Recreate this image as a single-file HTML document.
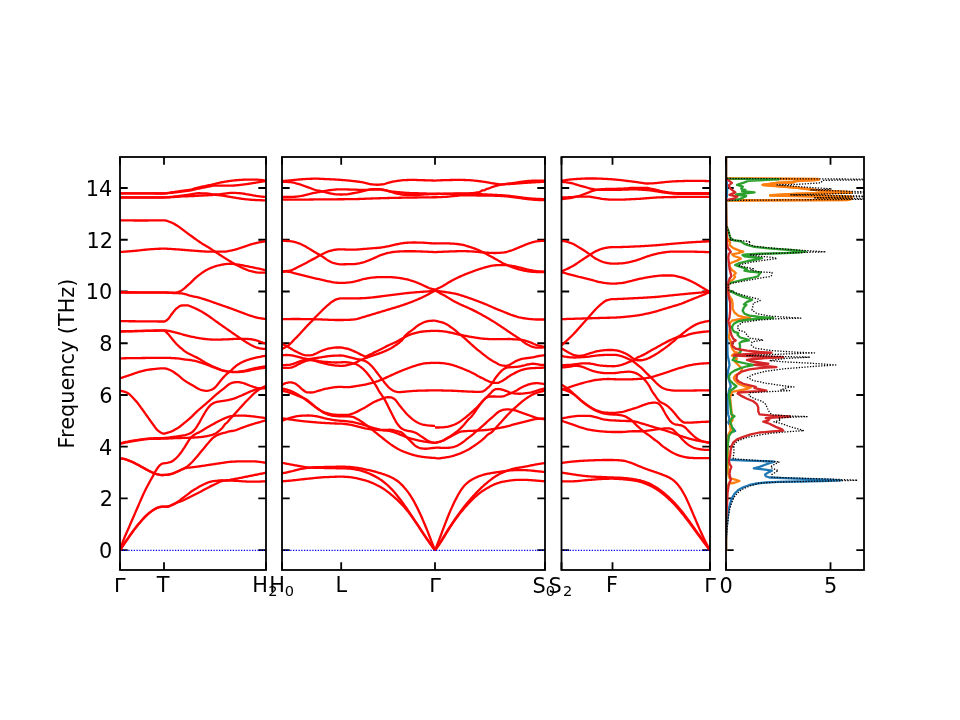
<!DOCTYPE html>
<html lang="en"><head><meta charset="utf-8"><title>Phonon band structure and DOS</title>
<style>html,body{margin:0;padding:0;background:#fff;overflow:hidden}svg{display:block}text{font-family:"DejaVu Sans","Liberation Sans",sans-serif;fill:#000}</style></head><body>
<svg width="960" height="720" viewBox="0 0 960 720">
<rect width="960" height="720" fill="#fff"/>
<defs>
<clipPath id="c0"><rect x="120" y="157" width="146" height="413"/></clipPath>
<clipPath id="c1"><rect x="282" y="157" width="263" height="413"/></clipPath>
<clipPath id="c2"><rect x="561.5" y="157" width="148.5" height="413"/></clipPath>
<clipPath id="c3"><rect x="726" y="157" width="138" height="413"/></clipPath>
</defs>
<g stroke="#000" stroke-width="1.8" fill="none">
<path d="M120 550.20h7.7M266 550.20h-7.7M120 498.46h7.7M266 498.46h-7.7M120 446.72h7.7M266 446.72h-7.7M120 394.98h7.7M266 394.98h-7.7M120 343.24h7.7M266 343.24h-7.7M120 291.50h7.7M266 291.50h-7.7M120 239.76h7.7M266 239.76h-7.7M120 188.02h7.7M266 188.02h-7.7M120 157v7.7M120 570v-7.7M164 157v7.7M164 570v-7.7M266 157v7.7M266 570v-7.7"/>
<path d="M282 550.20h7.7M545 550.20h-7.7M282 498.46h7.7M545 498.46h-7.7M282 446.72h7.7M545 446.72h-7.7M282 394.98h7.7M545 394.98h-7.7M282 343.24h7.7M545 343.24h-7.7M282 291.50h7.7M545 291.50h-7.7M282 239.76h7.7M545 239.76h-7.7M282 188.02h7.7M545 188.02h-7.7M282 157v7.7M282 570v-7.7M341.2 157v7.7M341.2 570v-7.7M435 157v7.7M435 570v-7.7M545 157v7.7M545 570v-7.7"/>
<path d="M561.5 550.20h7.7M710 550.20h-7.7M561.5 498.46h7.7M710 498.46h-7.7M561.5 446.72h7.7M710 446.72h-7.7M561.5 394.98h7.7M710 394.98h-7.7M561.5 343.24h7.7M710 343.24h-7.7M561.5 291.50h7.7M710 291.50h-7.7M561.5 239.76h7.7M710 239.76h-7.7M561.5 188.02h7.7M710 188.02h-7.7M561.5 157v7.7M561.5 570v-7.7M612.5 157v7.7M612.5 570v-7.7M710 157v7.7M710 570v-7.7"/>
<path d="M726 550.20h7.7M864 550.20h-7.7M726 498.46h7.7M864 498.46h-7.7M726 446.72h7.7M864 446.72h-7.7M726 394.98h7.7M864 394.98h-7.7M726 343.24h7.7M864 343.24h-7.7M726 291.50h7.7M864 291.50h-7.7M726 239.76h7.7M864 239.76h-7.7M726 188.02h7.7M864 188.02h-7.7M726 157v7.7M726 570v-7.7M830.5 157v7.7M830.5 570v-7.7"/>
</g>
<g clip-path="url(#c0)" fill="none" stroke="#ff0000" stroke-width="2.3" stroke-linejoin="round" stroke-linecap="butt">
<path d="M120.00 193.42 L121.00 193.42 L122.00 193.42 L123.00 193.42 L124.00 193.42 L125.00 193.42 L126.00 193.42 L127.00 193.42 L128.00 193.42 L129.00 193.42 L130.00 193.42 L131.00 193.42 L132.00 193.42 L133.00 193.42 L134.00 193.42 L135.00 193.42 L136.00 193.42 L137.00 193.42 L138.00 193.42 L139.00 193.42 L140.00 193.42 L141.00 193.42 L142.00 193.42 L143.00 193.42 L144.00 193.42 L145.00 193.42 L146.00 193.42 L147.00 193.42 L148.00 193.42 L149.00 193.42 L150.00 193.42 L151.00 193.42 L152.00 193.42 L153.00 193.42 L154.00 193.42 L155.00 193.42 L156.00 193.42 L157.00 193.42 L158.00 193.42 L159.00 193.42 L160.00 193.42 L161.00 193.42 L162.00 193.42 L163.00 193.41 L164.00 193.38 L165.00 193.32 L166.00 193.23 L167.00 193.11 L168.00 192.98 L169.00 192.83 L170.00 192.67 L171.00 192.51 L172.00 192.35 L173.00 192.19 L174.00 192.05 L175.00 191.91 L176.00 191.76 L177.00 191.61 L178.00 191.46 L179.00 191.31 L180.00 191.15 L181.00 191.00 L182.00 190.85 L183.00 190.70 L184.00 190.57 L185.00 190.45 L186.00 190.33 L187.00 190.20 L188.00 190.07 L189.00 189.92 L190.00 189.75 L191.00 189.54 L192.00 189.29 L193.00 189.00 L194.00 188.69 L195.00 188.37 L196.00 188.06 L197.00 187.76 L198.00 187.50 L199.00 187.27 L200.00 187.05 L201.00 186.85 L202.00 186.66 L203.00 186.47 L204.00 186.28 L205.00 186.09 L206.00 185.89 L207.00 185.68 L208.00 185.46 L209.00 185.23 L210.00 185.00 L211.00 184.76 L212.00 184.53 L213.00 184.29 L214.00 184.06 L215.00 183.83 L216.00 183.61 L217.00 183.37 L218.00 183.14 L219.00 182.91 L220.00 182.68 L221.00 182.46 L222.00 182.25 L223.00 182.06 L224.00 181.88 L225.00 181.71 L226.00 181.55 L227.00 181.39 L228.00 181.24 L229.00 181.10 L230.00 180.96 L231.00 180.83 L232.00 180.71 L233.00 180.59 L234.00 180.47 L235.00 180.36 L236.00 180.25 L237.00 180.15 L238.00 180.06 L239.00 179.98 L240.00 179.92 L241.00 179.86 L242.00 179.80 L243.00 179.75 L244.00 179.70 L245.00 179.65 L246.00 179.62 L247.00 179.60 L248.00 179.58 L249.00 179.58 L250.00 179.59 L251.00 179.59 L252.00 179.60 L253.00 179.61 L254.00 179.62 L255.00 179.64 L256.00 179.65 L257.00 179.67 L258.00 179.71 L259.00 179.78 L260.00 179.86 L261.00 179.96 L262.00 180.08 L263.00 180.22 L264.00 180.36 L265.00 180.51 L266.00 180.67"/>
<path d="M120.00 193.42 L121.00 193.42 L122.00 193.42 L123.00 193.42 L124.00 193.42 L125.00 193.42 L126.00 193.42 L127.00 193.42 L128.00 193.42 L129.00 193.42 L130.00 193.42 L131.00 193.42 L132.00 193.42 L133.00 193.42 L134.00 193.42 L135.00 193.42 L136.00 193.42 L137.00 193.42 L138.00 193.42 L139.00 193.42 L140.00 193.42 L141.00 193.42 L142.00 193.42 L143.00 193.42 L144.00 193.42 L145.00 193.42 L146.00 193.43 L147.00 193.43 L148.00 193.44 L149.00 193.44 L150.00 193.45 L151.00 193.45 L152.00 193.46 L153.00 193.47 L154.00 193.47 L155.00 193.48 L156.00 193.48 L157.00 193.49 L158.00 193.49 L159.00 193.49 L160.00 193.50 L161.00 193.50 L162.00 193.50 L163.00 193.50 L164.00 193.48 L165.00 193.43 L166.00 193.37 L167.00 193.29 L168.00 193.20 L169.00 193.09 L170.00 192.98 L171.00 192.87 L172.00 192.75 L173.00 192.64 L174.00 192.53 L175.00 192.43 L176.00 192.32 L177.00 192.21 L178.00 192.09 L179.00 191.97 L180.00 191.84 L181.00 191.71 L182.00 191.59 L183.00 191.46 L184.00 191.33 L185.00 191.21 L186.00 191.08 L187.00 190.95 L188.00 190.81 L189.00 190.66 L190.00 190.50 L191.00 190.32 L192.00 190.12 L193.00 189.90 L194.00 189.67 L195.00 189.43 L196.00 189.19 L197.00 188.96 L198.00 188.74 L199.00 188.53 L200.00 188.32 L201.00 188.11 L202.00 187.91 L203.00 187.71 L204.00 187.51 L205.00 187.31 L206.00 187.12 L207.00 186.94 L208.00 186.73 L209.00 186.51 L210.00 186.28 L211.00 186.07 L212.00 185.87 L213.00 185.72 L214.00 185.62 L215.00 185.58 L216.00 185.58 L217.00 185.58 L218.00 185.58 L219.00 185.58 L220.00 185.58 L221.00 185.58 L222.00 185.58 L223.00 185.58 L224.00 185.58 L225.00 185.58 L226.00 185.58 L227.00 185.58 L228.00 185.58 L229.00 185.58 L230.00 185.58 L231.00 185.58 L232.00 185.58 L233.00 185.56 L234.00 185.50 L235.00 185.43 L236.00 185.34 L237.00 185.24 L238.00 185.13 L239.00 185.02 L240.00 184.92 L241.00 184.81 L242.00 184.70 L243.00 184.57 L244.00 184.44 L245.00 184.31 L246.00 184.17 L247.00 184.02 L248.00 183.88 L249.00 183.74 L250.00 183.58 L251.00 183.43 L252.00 183.27 L253.00 183.10 L254.00 182.94 L255.00 182.77 L256.00 182.61 L257.00 182.45 L258.00 182.29 L259.00 182.13 L260.00 181.97 L261.00 181.80 L262.00 181.64 L263.00 181.48 L264.00 181.32 L265.00 181.16 L266.00 181.00"/>
<path d="M120.00 197.42 L121.00 197.42 L122.00 197.42 L123.00 197.42 L124.00 197.42 L125.00 197.42 L126.00 197.42 L127.00 197.42 L128.00 197.42 L129.00 197.42 L130.00 197.42 L131.00 197.42 L132.00 197.42 L133.00 197.42 L134.00 197.42 L135.00 197.42 L136.00 197.42 L137.00 197.42 L138.00 197.42 L139.00 197.42 L140.00 197.42 L141.00 197.42 L142.00 197.42 L143.00 197.42 L144.00 197.42 L145.00 197.42 L146.00 197.42 L147.00 197.42 L148.00 197.42 L149.00 197.42 L150.00 197.42 L151.00 197.42 L152.00 197.42 L153.00 197.42 L154.00 197.42 L155.00 197.42 L156.00 197.42 L157.00 197.42 L158.00 197.42 L159.00 197.42 L160.00 197.42 L161.00 197.42 L162.00 197.42 L163.00 197.42 L164.00 197.40 L165.00 197.36 L166.00 197.32 L167.00 197.25 L168.00 197.18 L169.00 197.09 L170.00 197.00 L171.00 196.91 L172.00 196.81 L173.00 196.71 L174.00 196.61 L175.00 196.52 L176.00 196.41 L177.00 196.28 L178.00 196.15 L179.00 196.01 L180.00 195.87 L181.00 195.73 L182.00 195.59 L183.00 195.46 L184.00 195.32 L185.00 195.19 L186.00 195.05 L187.00 194.92 L188.00 194.78 L189.00 194.64 L190.00 194.50 L191.00 194.34 L192.00 194.15 L193.00 193.96 L194.00 193.76 L195.00 193.58 L196.00 193.42 L197.00 193.31 L198.00 193.25 L199.00 193.25 L200.00 193.26 L201.00 193.28 L202.00 193.31 L203.00 193.34 L204.00 193.38 L205.00 193.42 L206.00 193.47 L207.00 193.52 L208.00 193.61 L209.00 193.75 L210.00 193.91 L211.00 194.08 L212.00 194.24 L213.00 194.37 L214.00 194.47 L215.00 194.50 L216.00 194.48 L217.00 194.44 L218.00 194.37 L219.00 194.28 L220.00 194.18 L221.00 194.08 L222.00 193.97 L223.00 193.87 L224.00 193.76 L225.00 193.63 L226.00 193.47 L227.00 193.31 L228.00 193.16 L229.00 193.02 L230.00 192.91 L231.00 192.85 L232.00 192.83 L233.00 192.85 L234.00 192.88 L235.00 192.92 L236.00 192.97 L237.00 193.03 L238.00 193.10 L239.00 193.18 L240.00 193.25 L241.00 193.34 L242.00 193.46 L243.00 193.60 L244.00 193.76 L245.00 193.92 L246.00 194.10 L247.00 194.27 L248.00 194.44 L249.00 194.61 L250.00 194.79 L251.00 194.99 L252.00 195.18 L253.00 195.38 L254.00 195.57 L255.00 195.74 L256.00 195.90 L257.00 196.04 L258.00 196.18 L259.00 196.30 L260.00 196.42 L261.00 196.54 L262.00 196.65 L263.00 196.75 L264.00 196.84 L265.00 196.93 L266.00 197.00"/>
<path d="M120.00 197.50 L121.00 197.50 L122.00 197.50 L123.00 197.50 L124.00 197.50 L125.00 197.50 L126.00 197.50 L127.00 197.50 L128.00 197.50 L129.00 197.50 L130.00 197.50 L131.00 197.50 L132.00 197.50 L133.00 197.50 L134.00 197.50 L135.00 197.50 L136.00 197.50 L137.00 197.50 L138.00 197.50 L139.00 197.50 L140.00 197.50 L141.00 197.50 L142.00 197.50 L143.00 197.50 L144.00 197.50 L145.00 197.50 L146.00 197.50 L147.00 197.50 L148.00 197.50 L149.00 197.50 L150.00 197.50 L151.00 197.50 L152.00 197.50 L153.00 197.50 L154.00 197.50 L155.00 197.50 L156.00 197.50 L157.00 197.50 L158.00 197.50 L159.00 197.50 L160.00 197.50 L161.00 197.50 L162.00 197.50 L163.00 197.50 L164.00 197.49 L165.00 197.47 L166.00 197.44 L167.00 197.40 L168.00 197.35 L169.00 197.30 L170.00 197.25 L171.00 197.19 L172.00 197.13 L173.00 197.07 L174.00 197.02 L175.00 196.96 L176.00 196.89 L177.00 196.82 L178.00 196.74 L179.00 196.66 L180.00 196.58 L181.00 196.51 L182.00 196.45 L183.00 196.40 L184.00 196.36 L185.00 196.33 L186.00 196.30 L187.00 196.27 L188.00 196.24 L189.00 196.20 L190.00 196.17 L191.00 196.12 L192.00 196.08 L193.00 196.03 L194.00 195.98 L195.00 195.92 L196.00 195.87 L197.00 195.82 L198.00 195.77 L199.00 195.72 L200.00 195.67 L201.00 195.62 L202.00 195.57 L203.00 195.52 L204.00 195.47 L205.00 195.42 L206.00 195.37 L207.00 195.32 L208.00 195.26 L209.00 195.19 L210.00 195.13 L211.00 195.06 L212.00 195.01 L213.00 194.96 L214.00 194.93 L215.00 194.92 L216.00 194.94 L217.00 194.99 L218.00 195.08 L219.00 195.18 L220.00 195.31 L221.00 195.44 L222.00 195.57 L223.00 195.71 L224.00 195.84 L225.00 195.99 L226.00 196.15 L227.00 196.33 L228.00 196.51 L229.00 196.69 L230.00 196.88 L231.00 197.05 L232.00 197.22 L233.00 197.39 L234.00 197.56 L235.00 197.72 L236.00 197.89 L237.00 198.05 L238.00 198.21 L239.00 198.36 L240.00 198.50 L241.00 198.64 L242.00 198.77 L243.00 198.90 L244.00 199.03 L245.00 199.15 L246.00 199.27 L247.00 199.37 L248.00 199.47 L249.00 199.56 L250.00 199.64 L251.00 199.73 L252.00 199.81 L253.00 199.88 L254.00 199.95 L255.00 200.00 L256.00 200.06 L257.00 200.10 L258.00 200.13 L259.00 200.17 L260.00 200.21 L261.00 200.24 L262.00 200.27 L263.00 200.29 L264.00 200.31 L265.00 200.33 L266.00 200.33"/>
<path d="M120.00 220.33 L121.00 220.35 L122.00 220.36 L123.00 220.38 L124.00 220.39 L125.00 220.40 L126.00 220.41 L127.00 220.42 L128.00 220.43 L129.00 220.44 L130.00 220.45 L131.00 220.46 L132.00 220.46 L133.00 220.47 L134.00 220.48 L135.00 220.48 L136.00 220.48 L137.00 220.49 L138.00 220.49 L139.00 220.49 L140.00 220.50 L141.00 220.50 L142.00 220.50 L143.00 220.50 L144.00 220.50 L145.00 220.50 L146.00 220.49 L147.00 220.49 L148.00 220.48 L149.00 220.47 L150.00 220.46 L151.00 220.45 L152.00 220.44 L153.00 220.42 L154.00 220.41 L155.00 220.40 L156.00 220.39 L157.00 220.38 L158.00 220.37 L159.00 220.36 L160.00 220.35 L161.00 220.34 L162.00 220.34 L163.00 220.33 L164.00 220.33 L165.00 220.41 L166.00 220.61 L167.00 220.90 L168.00 221.25 L169.00 221.63 L170.00 222.00 L171.00 222.38 L172.00 222.82 L173.00 223.30 L174.00 223.82 L175.00 224.37 L176.00 224.94 L177.00 225.53 L178.00 226.17 L179.00 226.85 L180.00 227.56 L181.00 228.31 L182.00 229.07 L183.00 229.83 L184.00 230.59 L185.00 231.33 L186.00 232.07 L187.00 232.81 L188.00 233.56 L189.00 234.30 L190.00 235.05 L191.00 235.79 L192.00 236.53 L193.00 237.26 L194.00 237.98 L195.00 238.70 L196.00 239.42 L197.00 240.14 L198.00 240.85 L199.00 241.54 L200.00 242.23 L201.00 242.90 L202.00 243.55 L203.00 244.17 L204.00 244.77 L205.00 245.36 L206.00 245.94 L207.00 246.52 L208.00 247.11 L209.00 247.71 L210.00 248.33 L211.00 248.98 L212.00 249.65 L213.00 250.33 L214.00 251.00 L215.00 251.67 L216.00 252.32 L217.00 252.98 L218.00 253.63 L219.00 254.28 L220.00 254.93 L221.00 255.58 L222.00 256.22 L223.00 256.86 L224.00 257.50 L225.00 258.13 L226.00 258.75 L227.00 259.37 L228.00 259.99 L229.00 260.62 L230.00 261.23 L231.00 261.85 L232.00 262.45 L233.00 263.04 L234.00 263.61 L235.00 264.17 L236.00 264.71 L237.00 265.25 L238.00 265.78 L239.00 266.30 L240.00 266.80 L241.00 267.29 L242.00 267.75 L243.00 268.19 L244.00 268.61 L245.00 269.03 L246.00 269.45 L247.00 269.85 L248.00 270.23 L249.00 270.58 L250.00 270.90 L251.00 271.17 L252.00 271.41 L253.00 271.63 L254.00 271.86 L255.00 272.07 L256.00 272.26 L257.00 272.43 L258.00 272.55 L259.00 272.64 L260.00 272.67 L261.00 272.67 L262.00 272.67 L263.00 272.67 L264.00 272.67 L265.00 272.67 L266.00 272.67"/>
<path d="M120.00 252.00 L121.00 251.93 L122.00 251.86 L123.00 251.79 L124.00 251.72 L125.00 251.65 L126.00 251.57 L127.00 251.49 L128.00 251.42 L129.00 251.34 L130.00 251.26 L131.00 251.17 L132.00 251.09 L133.00 251.01 L134.00 250.92 L135.00 250.83 L136.00 250.74 L137.00 250.64 L138.00 250.54 L139.00 250.43 L140.00 250.32 L141.00 250.21 L142.00 250.09 L143.00 249.98 L144.00 249.86 L145.00 249.75 L146.00 249.65 L147.00 249.55 L148.00 249.45 L149.00 249.36 L150.00 249.28 L151.00 249.21 L152.00 249.15 L153.00 249.09 L154.00 249.03 L155.00 248.97 L156.00 248.91 L157.00 248.86 L158.00 248.81 L159.00 248.76 L160.00 248.73 L161.00 248.70 L162.00 248.68 L163.00 248.67 L164.00 248.67 L165.00 248.68 L166.00 248.71 L167.00 248.75 L168.00 248.79 L169.00 248.84 L170.00 248.90 L171.00 248.96 L172.00 249.03 L173.00 249.09 L174.00 249.16 L175.00 249.23 L176.00 249.29 L177.00 249.35 L178.00 249.42 L179.00 249.49 L180.00 249.57 L181.00 249.64 L182.00 249.73 L183.00 249.81 L184.00 249.90 L185.00 249.98 L186.00 250.07 L187.00 250.16 L188.00 250.25 L189.00 250.33 L190.00 250.41 L191.00 250.49 L192.00 250.57 L193.00 250.64 L194.00 250.71 L195.00 250.79 L196.00 250.86 L197.00 250.94 L198.00 251.02 L199.00 251.10 L200.00 251.18 L201.00 251.26 L202.00 251.33 L203.00 251.40 L204.00 251.47 L205.00 251.52 L206.00 251.57 L207.00 251.61 L208.00 251.64 L209.00 251.66 L210.00 251.67 L211.00 251.67 L212.00 251.67 L213.00 251.67 L214.00 251.67 L215.00 251.67 L216.00 251.67 L217.00 251.67 L218.00 251.67 L219.00 251.67 L220.00 251.67 L221.00 251.67 L222.00 251.67 L223.00 251.67 L224.00 251.65 L225.00 251.59 L226.00 251.49 L227.00 251.34 L228.00 251.17 L229.00 250.97 L230.00 250.75 L231.00 250.52 L232.00 250.30 L233.00 250.07 L234.00 249.85 L235.00 249.60 L236.00 249.33 L237.00 249.04 L238.00 248.73 L239.00 248.41 L240.00 248.09 L241.00 247.76 L242.00 247.43 L243.00 247.11 L244.00 246.78 L245.00 246.44 L246.00 246.09 L247.00 245.72 L248.00 245.36 L249.00 245.00 L250.00 244.65 L251.00 244.32 L252.00 244.02 L253.00 243.75 L254.00 243.51 L255.00 243.27 L256.00 243.05 L257.00 242.83 L258.00 242.61 L259.00 242.41 L260.00 242.22 L261.00 242.04 L262.00 241.87 L263.00 241.71 L264.00 241.57 L265.00 241.44 L266.00 241.33"/>
<path d="M120.00 292.17 L121.00 292.18 L122.00 292.19 L123.00 292.20 L124.00 292.21 L125.00 292.22 L126.00 292.23 L127.00 292.24 L128.00 292.25 L129.00 292.26 L130.00 292.27 L131.00 292.28 L132.00 292.28 L133.00 292.29 L134.00 292.30 L135.00 292.31 L136.00 292.31 L137.00 292.32 L138.00 292.32 L139.00 292.33 L140.00 292.33 L141.00 292.33 L142.00 292.33 L143.00 292.33 L144.00 292.33 L145.00 292.33 L146.00 292.33 L147.00 292.33 L148.00 292.33 L149.00 292.33 L150.00 292.33 L151.00 292.33 L152.00 292.33 L153.00 292.33 L154.00 292.33 L155.00 292.33 L156.00 292.33 L157.00 292.33 L158.00 292.33 L159.00 292.33 L160.00 292.33 L161.00 292.33 L162.00 292.33 L163.00 292.33 L164.00 292.33 L165.00 292.35 L166.00 292.38 L167.00 292.43 L168.00 292.49 L169.00 292.54 L170.00 292.60 L171.00 292.64 L172.00 292.66 L173.00 292.66 L174.00 292.61 L175.00 292.53 L176.00 292.42 L177.00 292.28 L178.00 292.03 L179.00 291.67 L180.00 291.25 L181.00 290.74 L182.00 290.11 L183.00 289.41 L184.00 288.65 L185.00 287.77 L186.00 286.85 L187.00 285.96 L188.00 285.10 L189.00 284.24 L190.00 283.33 L191.00 282.36 L192.00 281.33 L193.00 280.32 L194.00 279.37 L195.00 278.44 L196.00 277.53 L197.00 276.66 L198.00 275.85 L199.00 275.08 L200.00 274.35 L201.00 273.63 L202.00 272.93 L203.00 272.24 L204.00 271.56 L205.00 270.91 L206.00 270.32 L207.00 269.78 L208.00 269.27 L209.00 268.79 L210.00 268.33 L211.00 267.90 L212.00 267.48 L213.00 267.09 L214.00 266.72 L215.00 266.39 L216.00 266.06 L217.00 265.77 L218.00 265.50 L219.00 265.26 L220.00 265.05 L221.00 264.85 L222.00 264.67 L223.00 264.50 L224.00 264.34 L225.00 264.19 L226.00 264.06 L227.00 263.97 L228.00 263.89 L229.00 263.81 L230.00 263.76 L231.00 263.75 L232.00 263.80 L233.00 263.91 L234.00 264.04 L235.00 264.17 L236.00 264.29 L237.00 264.43 L238.00 264.58 L239.00 264.73 L240.00 264.90 L241.00 265.07 L242.00 265.25 L243.00 265.43 L244.00 265.62 L245.00 265.81 L246.00 266.01 L247.00 266.21 L248.00 266.41 L249.00 266.61 L250.00 266.82 L251.00 267.02 L252.00 267.23 L253.00 267.43 L254.00 267.64 L255.00 267.84 L256.00 268.05 L257.00 268.27 L258.00 268.48 L259.00 268.71 L260.00 268.93 L261.00 269.16 L262.00 269.39 L263.00 269.62 L264.00 269.86 L265.00 270.09 L266.00 270.33"/>
<path d="M120.00 292.50 L121.00 292.50 L122.00 292.50 L123.00 292.50 L124.00 292.50 L125.00 292.50 L126.00 292.50 L127.00 292.50 L128.00 292.50 L129.00 292.51 L130.00 292.51 L131.00 292.51 L132.00 292.51 L133.00 292.51 L134.00 292.52 L135.00 292.52 L136.00 292.52 L137.00 292.52 L138.00 292.53 L139.00 292.53 L140.00 292.53 L141.00 292.53 L142.00 292.54 L143.00 292.54 L144.00 292.55 L145.00 292.55 L146.00 292.55 L147.00 292.56 L148.00 292.56 L149.00 292.57 L150.00 292.57 L151.00 292.58 L152.00 292.58 L153.00 292.59 L154.00 292.60 L155.00 292.60 L156.00 292.61 L157.00 292.62 L158.00 292.62 L159.00 292.63 L160.00 292.64 L161.00 292.64 L162.00 292.65 L163.00 292.66 L164.00 292.67 L165.00 292.68 L166.00 292.70 L167.00 292.73 L168.00 292.77 L169.00 292.81 L170.00 292.85 L171.00 292.90 L172.00 292.95 L173.00 293.00 L174.00 293.05 L175.00 293.09 L176.00 293.14 L177.00 293.18 L178.00 293.21 L179.00 293.25 L180.00 293.29 L181.00 293.34 L182.00 293.45 L183.00 293.60 L184.00 293.79 L185.00 294.00 L186.00 294.27 L187.00 294.61 L188.00 294.99 L189.00 295.35 L190.00 295.67 L191.00 295.92 L192.00 296.15 L193.00 296.36 L194.00 296.57 L195.00 296.77 L196.00 296.97 L197.00 297.18 L198.00 297.42 L199.00 297.67 L200.00 297.94 L201.00 298.23 L202.00 298.53 L203.00 298.83 L204.00 299.14 L205.00 299.46 L206.00 299.78 L207.00 300.11 L208.00 300.44 L209.00 300.78 L210.00 301.13 L211.00 301.49 L212.00 301.85 L213.00 302.21 L214.00 302.56 L215.00 302.92 L216.00 303.27 L217.00 303.62 L218.00 303.97 L219.00 304.32 L220.00 304.67 L221.00 305.02 L222.00 305.37 L223.00 305.72 L224.00 306.07 L225.00 306.41 L226.00 306.76 L227.00 307.11 L228.00 307.46 L229.00 307.80 L230.00 308.16 L231.00 308.51 L232.00 308.87 L233.00 309.23 L234.00 309.60 L235.00 309.97 L236.00 310.34 L237.00 310.71 L238.00 311.08 L239.00 311.46 L240.00 311.83 L241.00 312.21 L242.00 312.60 L243.00 313.00 L244.00 313.39 L245.00 313.78 L246.00 314.17 L247.00 314.53 L248.00 314.89 L249.00 315.22 L250.00 315.56 L251.00 315.88 L252.00 316.20 L253.00 316.51 L254.00 316.80 L255.00 317.08 L256.00 317.34 L257.00 317.58 L258.00 317.80 L259.00 318.01 L260.00 318.19 L261.00 318.36 L262.00 318.51 L263.00 318.65 L264.00 318.79 L265.00 318.90 L266.00 319.00"/>
<path d="M120.00 321.17 L121.00 321.17 L122.00 321.18 L123.00 321.19 L124.00 321.19 L125.00 321.20 L126.00 321.21 L127.00 321.21 L128.00 321.22 L129.00 321.23 L130.00 321.24 L131.00 321.24 L132.00 321.25 L133.00 321.26 L134.00 321.26 L135.00 321.27 L136.00 321.28 L137.00 321.29 L138.00 321.29 L139.00 321.30 L140.00 321.31 L141.00 321.32 L142.00 321.32 L143.00 321.33 L144.00 321.34 L145.00 321.35 L146.00 321.36 L147.00 321.37 L148.00 321.38 L149.00 321.39 L150.00 321.40 L151.00 321.41 L152.00 321.42 L153.00 321.43 L154.00 321.44 L155.00 321.45 L156.00 321.46 L157.00 321.47 L158.00 321.48 L159.00 321.48 L160.00 321.49 L161.00 321.49 L162.00 321.50 L163.00 321.50 L164.00 321.50 L165.00 321.29 L166.00 320.75 L167.00 320.04 L168.00 319.23 L169.00 318.02 L170.00 316.55 L171.00 315.06 L172.00 313.75 L173.00 312.45 L174.00 311.16 L175.00 309.95 L176.00 308.90 L177.00 308.08 L178.00 307.31 L179.00 306.59 L180.00 306.00 L181.00 305.61 L182.00 305.48 L183.00 305.43 L184.00 305.38 L185.00 305.35 L186.00 305.34 L187.00 305.34 L188.00 305.48 L189.00 305.74 L190.00 306.09 L191.00 306.50 L192.00 306.94 L193.00 307.37 L194.00 307.77 L195.00 308.20 L196.00 308.66 L197.00 309.15 L198.00 309.66 L199.00 310.19 L200.00 310.74 L201.00 311.29 L202.00 311.86 L203.00 312.44 L204.00 313.05 L205.00 313.68 L206.00 314.32 L207.00 314.98 L208.00 315.65 L209.00 316.32 L210.00 317.00 L211.00 317.69 L212.00 318.39 L213.00 319.11 L214.00 319.84 L215.00 320.58 L216.00 321.31 L217.00 322.04 L218.00 322.76 L219.00 323.47 L220.00 324.18 L221.00 324.88 L222.00 325.58 L223.00 326.28 L224.00 326.97 L225.00 327.67 L226.00 328.37 L227.00 329.07 L228.00 329.77 L229.00 330.47 L230.00 331.17 L231.00 331.88 L232.00 332.58 L233.00 333.28 L234.00 333.97 L235.00 334.67 L236.00 335.36 L237.00 336.05 L238.00 336.75 L239.00 337.44 L240.00 338.13 L241.00 338.80 L242.00 339.47 L243.00 340.12 L244.00 340.76 L245.00 341.40 L246.00 342.04 L247.00 342.67 L248.00 343.29 L249.00 343.88 L250.00 344.45 L251.00 344.99 L252.00 345.50 L253.00 345.99 L254.00 346.46 L255.00 346.90 L256.00 347.28 L257.00 347.60 L258.00 347.89 L259.00 348.16 L260.00 348.39 L261.00 348.58 L262.00 348.70 L263.00 348.81 L264.00 348.91 L265.00 348.97 L266.00 349.00"/>
<path d="M120.00 331.33 L121.00 331.31 L122.00 331.29 L123.00 331.27 L124.00 331.25 L125.00 331.23 L126.00 331.21 L127.00 331.19 L128.00 331.17 L129.00 331.15 L130.00 331.13 L131.00 331.11 L132.00 331.08 L133.00 331.06 L134.00 331.04 L135.00 331.02 L136.00 331.00 L137.00 330.98 L138.00 330.95 L139.00 330.93 L140.00 330.91 L141.00 330.89 L142.00 330.86 L143.00 330.84 L144.00 330.82 L145.00 330.79 L146.00 330.76 L147.00 330.74 L148.00 330.70 L149.00 330.67 L150.00 330.64 L151.00 330.61 L152.00 330.58 L153.00 330.55 L154.00 330.51 L155.00 330.48 L156.00 330.46 L157.00 330.43 L158.00 330.41 L159.00 330.39 L160.00 330.37 L161.00 330.35 L162.00 330.34 L163.00 330.34 L164.00 330.33 L165.00 330.37 L166.00 330.46 L167.00 330.60 L168.00 330.78 L169.00 330.99 L170.00 331.22 L171.00 331.46 L172.00 331.70 L173.00 331.93 L174.00 332.15 L175.00 332.38 L176.00 332.63 L177.00 332.90 L178.00 333.17 L179.00 333.45 L180.00 333.72 L181.00 333.99 L182.00 334.25 L183.00 334.52 L184.00 334.79 L185.00 335.06 L186.00 335.33 L187.00 335.60 L188.00 335.85 L189.00 336.10 L190.00 336.33 L191.00 336.56 L192.00 336.78 L193.00 336.99 L194.00 337.20 L195.00 337.40 L196.00 337.59 L197.00 337.77 L198.00 337.94 L199.00 338.11 L200.00 338.27 L201.00 338.44 L202.00 338.59 L203.00 338.74 L204.00 338.88 L205.00 339.00 L206.00 339.11 L207.00 339.19 L208.00 339.28 L209.00 339.36 L210.00 339.44 L211.00 339.52 L212.00 339.58 L213.00 339.62 L214.00 339.66 L215.00 339.67 L216.00 339.66 L217.00 339.65 L218.00 339.63 L219.00 339.61 L220.00 339.58 L221.00 339.54 L222.00 339.51 L223.00 339.47 L224.00 339.43 L225.00 339.39 L226.00 339.36 L227.00 339.32 L228.00 339.28 L229.00 339.23 L230.00 339.18 L231.00 339.12 L232.00 339.06 L233.00 339.01 L234.00 338.95 L235.00 338.91 L236.00 338.87 L237.00 338.85 L238.00 338.83 L239.00 338.83 L240.00 338.84 L241.00 338.85 L242.00 338.86 L243.00 338.87 L244.00 338.89 L245.00 338.91 L246.00 338.93 L247.00 338.96 L248.00 338.99 L249.00 339.03 L250.00 339.12 L251.00 339.25 L252.00 339.41 L253.00 339.59 L254.00 339.79 L255.00 340.00 L256.00 340.25 L257.00 340.57 L258.00 340.93 L259.00 341.31 L260.00 341.67 L261.00 342.02 L262.00 342.37 L263.00 342.73 L264.00 343.09 L265.00 343.46 L266.00 343.83"/>
<path d="M120.00 331.50 L121.00 331.48 L122.00 331.45 L123.00 331.43 L124.00 331.40 L125.00 331.38 L126.00 331.36 L127.00 331.34 L128.00 331.31 L129.00 331.29 L130.00 331.27 L131.00 331.25 L132.00 331.23 L133.00 331.20 L134.00 331.18 L135.00 331.16 L136.00 331.14 L137.00 331.12 L138.00 331.10 L139.00 331.08 L140.00 331.06 L141.00 331.04 L142.00 331.02 L143.00 331.01 L144.00 330.99 L145.00 330.97 L146.00 330.95 L147.00 330.93 L148.00 330.91 L149.00 330.88 L150.00 330.86 L151.00 330.84 L152.00 330.82 L153.00 330.80 L154.00 330.78 L155.00 330.76 L156.00 330.74 L157.00 330.73 L158.00 330.71 L159.00 330.70 L160.00 330.69 L161.00 330.68 L162.00 330.67 L163.00 330.67 L164.00 330.67 L165.00 331.01 L166.00 331.83 L167.00 332.85 L168.00 333.83 L169.00 334.97 L170.00 336.23 L171.00 337.52 L172.00 338.73 L173.00 339.94 L174.00 341.15 L175.00 342.34 L176.00 343.47 L177.00 344.50 L178.00 345.47 L179.00 346.39 L180.00 347.26 L181.00 348.11 L182.00 348.94 L183.00 349.77 L184.00 350.58 L185.00 351.35 L186.00 352.07 L187.00 352.70 L188.00 353.29 L189.00 353.83 L190.00 354.34 L191.00 354.83 L192.00 355.30 L193.00 355.75 L194.00 356.21 L195.00 356.67 L196.00 357.14 L197.00 357.63 L198.00 358.15 L199.00 358.71 L200.00 359.30 L201.00 359.91 L202.00 360.53 L203.00 361.16 L204.00 361.79 L205.00 362.39 L206.00 362.97 L207.00 363.51 L208.00 364.03 L209.00 364.55 L210.00 365.05 L211.00 365.53 L212.00 366.01 L213.00 366.46 L214.00 366.91 L215.00 367.33 L216.00 367.75 L217.00 368.17 L218.00 368.59 L219.00 368.99 L220.00 369.37 L221.00 369.73 L222.00 370.05 L223.00 370.33 L224.00 370.58 L225.00 370.83 L226.00 371.06 L227.00 371.27 L228.00 371.45 L229.00 371.59 L230.00 371.67 L231.00 371.71 L232.00 371.75 L233.00 371.79 L234.00 371.81 L235.00 371.83 L236.00 371.83 L237.00 371.80 L238.00 371.73 L239.00 371.63 L240.00 371.50 L241.00 371.35 L242.00 371.19 L243.00 371.03 L244.00 370.86 L245.00 370.68 L246.00 370.46 L247.00 370.22 L248.00 369.95 L249.00 369.67 L250.00 369.39 L251.00 369.12 L252.00 368.87 L253.00 368.64 L254.00 368.42 L255.00 368.21 L256.00 368.00 L257.00 367.80 L258.00 367.61 L259.00 367.42 L260.00 367.23 L261.00 367.05 L262.00 366.88 L263.00 366.71 L264.00 366.55 L265.00 366.40 L266.00 366.25"/>
<path d="M120.00 358.33 L121.00 358.32 L122.00 358.30 L123.00 358.28 L124.00 358.26 L125.00 358.25 L126.00 358.23 L127.00 358.22 L128.00 358.20 L129.00 358.18 L130.00 358.17 L131.00 358.15 L132.00 358.14 L133.00 358.13 L134.00 358.11 L135.00 358.10 L136.00 358.09 L137.00 358.07 L138.00 358.06 L139.00 358.05 L140.00 358.04 L141.00 358.03 L142.00 358.01 L143.00 358.00 L144.00 357.99 L145.00 357.98 L146.00 357.97 L147.00 357.96 L148.00 357.95 L149.00 357.94 L150.00 357.93 L151.00 357.92 L152.00 357.91 L153.00 357.90 L154.00 357.89 L155.00 357.88 L156.00 357.87 L157.00 357.86 L158.00 357.85 L159.00 357.85 L160.00 357.84 L161.00 357.84 L162.00 357.84 L163.00 357.83 L164.00 357.83 L165.00 357.84 L166.00 357.85 L167.00 357.87 L168.00 357.90 L169.00 357.93 L170.00 357.97 L171.00 358.01 L172.00 358.06 L173.00 358.11 L174.00 358.17 L175.00 358.23 L176.00 358.29 L177.00 358.36 L178.00 358.45 L179.00 358.58 L180.00 358.73 L181.00 358.89 L182.00 359.06 L183.00 359.22 L184.00 359.37 L185.00 359.50 L186.00 359.60 L187.00 359.69 L188.00 359.78 L189.00 359.88 L190.00 360.00 L191.00 360.15 L192.00 360.32 L193.00 360.52 L194.00 360.74 L195.00 360.98 L196.00 361.22 L197.00 361.48 L198.00 361.74 L199.00 362.02 L200.00 362.33 L201.00 362.66 L202.00 363.00 L203.00 363.33 L204.00 363.66 L205.00 364.00 L206.00 364.34 L207.00 364.71 L208.00 365.09 L209.00 365.49 L210.00 365.90 L211.00 366.32 L212.00 366.74 L213.00 367.15 L214.00 367.54 L215.00 367.92 L216.00 368.28 L217.00 368.65 L218.00 369.02 L219.00 369.37 L220.00 369.72 L221.00 370.04 L222.00 370.33 L223.00 370.59 L224.00 370.82 L225.00 371.03 L226.00 371.24 L227.00 371.43 L228.00 371.59 L229.00 371.73 L230.00 371.83 L231.00 371.92 L232.00 372.00 L233.00 372.07 L234.00 372.12 L235.00 372.16 L236.00 372.17 L237.00 372.15 L238.00 372.10 L239.00 372.04 L240.00 371.95 L241.00 371.85 L242.00 371.75 L243.00 371.63 L244.00 371.52 L245.00 371.39 L246.00 371.23 L247.00 371.03 L248.00 370.82 L249.00 370.59 L250.00 370.37 L251.00 370.14 L252.00 369.93 L253.00 369.74 L254.00 369.54 L255.00 369.35 L256.00 369.15 L257.00 368.97 L258.00 368.78 L259.00 368.61 L260.00 368.45 L261.00 368.31 L262.00 368.18 L263.00 368.06 L264.00 367.95 L265.00 367.84 L266.00 367.75"/>
<path d="M120.00 378.33 L121.00 378.00 L122.00 377.67 L123.00 377.33 L124.00 377.00 L125.00 376.67 L126.00 376.33 L127.00 376.00 L128.00 375.67 L129.00 375.33 L130.00 375.00 L131.00 374.66 L132.00 374.31 L133.00 373.96 L134.00 373.60 L135.00 373.24 L136.00 372.90 L137.00 372.56 L138.00 372.24 L139.00 371.94 L140.00 371.67 L141.00 371.40 L142.00 371.14 L143.00 370.89 L144.00 370.64 L145.00 370.41 L146.00 370.19 L147.00 369.98 L148.00 369.80 L149.00 369.64 L150.00 369.50 L151.00 369.38 L152.00 369.25 L153.00 369.13 L154.00 369.02 L155.00 368.90 L156.00 368.80 L157.00 368.70 L158.00 368.61 L159.00 368.53 L160.00 368.46 L161.00 368.41 L162.00 368.37 L163.00 368.34 L164.00 368.33 L165.00 368.40 L166.00 368.60 L167.00 368.88 L168.00 369.23 L169.00 369.61 L170.00 370.00 L171.00 370.44 L172.00 370.98 L173.00 371.60 L174.00 372.27 L175.00 372.98 L176.00 373.70 L177.00 374.40 L178.00 375.16 L179.00 375.97 L180.00 376.81 L181.00 377.66 L182.00 378.51 L183.00 379.33 L184.00 380.11 L185.00 380.83 L186.00 381.50 L187.00 382.12 L188.00 382.73 L189.00 383.31 L190.00 383.88 L191.00 384.44 L192.00 385.00 L193.00 385.57 L194.00 386.15 L195.00 386.77 L196.00 387.42 L197.00 388.04 L198.00 388.59 L199.00 389.05 L200.00 389.47 L201.00 389.84 L202.00 390.14 L203.00 390.35 L204.00 390.55 L205.00 390.71 L206.00 390.81 L207.00 390.83 L208.00 390.72 L209.00 390.51 L210.00 390.25 L211.00 389.95 L212.00 389.53 L213.00 388.96 L214.00 388.27 L215.00 387.50 L216.00 386.53 L217.00 385.32 L218.00 383.99 L219.00 382.70 L220.00 381.49 L221.00 380.25 L222.00 379.03 L223.00 377.87 L224.00 376.78 L225.00 375.71 L226.00 374.70 L227.00 373.76 L228.00 372.94 L229.00 372.24 L230.00 371.50 L231.00 370.60 L232.00 369.62 L233.00 368.64 L234.00 367.72 L235.00 366.80 L236.00 365.93 L237.00 365.18 L238.00 364.51 L239.00 363.90 L240.00 363.33 L241.00 362.79 L242.00 362.26 L243.00 361.77 L244.00 361.32 L245.00 360.91 L246.00 360.54 L247.00 360.19 L248.00 359.86 L249.00 359.53 L250.00 359.22 L251.00 358.92 L252.00 358.64 L253.00 358.37 L254.00 358.12 L255.00 357.88 L256.00 357.65 L257.00 357.43 L258.00 357.22 L259.00 357.02 L260.00 356.83 L261.00 356.63 L262.00 356.44 L263.00 356.24 L264.00 356.05 L265.00 355.86 L266.00 355.67"/>
<path d="M120.00 390.83 L121.00 390.89 L122.00 391.03 L123.00 391.26 L124.00 391.55 L125.00 391.88 L126.00 392.25 L127.00 392.64 L128.00 393.18 L129.00 393.90 L130.00 394.75 L131.00 395.71 L132.00 396.74 L133.00 397.82 L134.00 398.92 L135.00 400.00 L136.00 401.11 L137.00 402.31 L138.00 403.58 L139.00 404.90 L140.00 406.25 L141.00 407.63 L142.00 409.01 L143.00 410.38 L144.00 411.74 L145.00 413.13 L146.00 414.55 L147.00 415.98 L148.00 417.41 L149.00 418.84 L150.00 420.24 L151.00 421.61 L152.00 422.95 L153.00 424.34 L154.00 425.77 L155.00 427.18 L156.00 428.49 L157.00 429.65 L158.00 430.58 L159.00 431.31 L160.00 432.01 L161.00 432.65 L162.00 433.18 L163.00 433.54 L164.00 433.67 L165.00 433.50 L166.00 433.14 L167.00 432.82 L168.00 432.54 L169.00 432.26 L170.00 431.96 L171.00 431.60 L172.00 431.17 L173.00 430.67 L174.00 430.13 L175.00 429.58 L176.00 429.03 L177.00 428.46 L178.00 427.85 L179.00 427.20 L180.00 426.48 L181.00 425.68 L182.00 424.85 L183.00 424.02 L184.00 423.22 L185.00 422.44 L186.00 421.65 L187.00 420.83 L188.00 419.99 L189.00 419.12 L190.00 418.22 L191.00 417.29 L192.00 416.35 L193.00 415.35 L194.00 414.33 L195.00 413.31 L196.00 412.34 L197.00 411.42 L198.00 410.51 L199.00 409.63 L200.00 408.75 L201.00 407.88 L202.00 407.03 L203.00 406.18 L204.00 405.34 L205.00 404.51 L206.00 403.67 L207.00 402.82 L208.00 401.96 L209.00 401.08 L210.00 400.18 L211.00 399.27 L212.00 398.35 L213.00 397.43 L214.00 396.52 L215.00 395.62 L216.00 394.74 L217.00 393.89 L218.00 393.06 L219.00 392.24 L220.00 391.44 L221.00 390.65 L222.00 389.87 L223.00 389.08 L224.00 388.30 L225.00 387.50 L226.00 386.65 L227.00 385.77 L228.00 384.94 L229.00 384.26 L230.00 383.73 L231.00 383.25 L232.00 382.85 L233.00 382.56 L234.00 382.40 L235.00 382.26 L236.00 382.15 L237.00 382.09 L238.00 382.10 L239.00 382.19 L240.00 382.34 L241.00 382.54 L242.00 382.74 L243.00 383.01 L244.00 383.34 L245.00 383.70 L246.00 384.06 L247.00 384.45 L248.00 384.86 L249.00 385.28 L250.00 385.67 L251.00 386.03 L252.00 386.38 L253.00 386.72 L254.00 387.03 L255.00 387.34 L256.00 387.67 L257.00 387.95 L258.00 388.13 L259.00 388.21 L260.00 388.27 L261.00 388.31 L262.00 388.33 L263.00 388.32 L264.00 388.24 L265.00 388.10 L266.00 387.92"/>
<path d="M120.00 443.33 L121.00 443.10 L122.00 442.87 L123.00 442.64 L124.00 442.41 L125.00 442.19 L126.00 441.98 L127.00 441.77 L128.00 441.57 L129.00 441.37 L130.00 441.18 L131.00 441.00 L132.00 440.82 L133.00 440.65 L134.00 440.49 L135.00 440.33 L136.00 440.18 L137.00 440.03 L138.00 439.88 L139.00 439.73 L140.00 439.58 L141.00 439.43 L142.00 439.29 L143.00 439.15 L144.00 439.02 L145.00 438.90 L146.00 438.78 L147.00 438.68 L148.00 438.58 L149.00 438.50 L150.00 438.42 L151.00 438.37 L152.00 438.32 L153.00 438.28 L154.00 438.25 L155.00 438.23 L156.00 438.21 L157.00 438.19 L158.00 438.17 L159.00 438.15 L160.00 438.13 L161.00 438.10 L162.00 438.07 L163.00 438.04 L164.00 438.00 L165.00 437.94 L166.00 437.86 L167.00 437.77 L168.00 437.65 L169.00 437.52 L170.00 437.39 L171.00 437.24 L172.00 437.10 L173.00 436.95 L174.00 436.81 L175.00 436.67 L176.00 436.53 L177.00 436.40 L178.00 436.27 L179.00 436.13 L180.00 435.98 L181.00 435.83 L182.00 435.66 L183.00 435.48 L184.00 435.28 L185.00 435.05 L186.00 434.79 L187.00 434.49 L188.00 434.17 L189.00 433.81 L190.00 433.39 L191.00 432.89 L192.00 432.28 L193.00 431.41 L194.00 430.34 L195.00 429.17 L196.00 427.84 L197.00 426.32 L198.00 424.71 L199.00 423.06 L200.00 421.31 L201.00 419.51 L202.00 417.75 L203.00 415.96 L204.00 414.18 L205.00 412.50 L206.00 410.88 L207.00 409.32 L208.00 407.92 L209.00 406.71 L210.00 405.61 L211.00 404.67 L212.00 403.95 L213.00 403.37 L214.00 402.88 L215.00 402.50 L216.00 402.20 L217.00 401.94 L218.00 401.72 L219.00 401.53 L220.00 401.36 L221.00 401.22 L222.00 401.09 L223.00 400.96 L224.00 400.83 L225.00 400.67 L226.00 400.49 L227.00 400.29 L228.00 400.09 L229.00 399.87 L230.00 399.64 L231.00 399.39 L232.00 399.13 L233.00 398.85 L234.00 398.55 L235.00 398.20 L236.00 397.83 L237.00 397.43 L238.00 397.01 L239.00 396.57 L240.00 396.14 L241.00 395.70 L242.00 395.27 L243.00 394.83 L244.00 394.37 L245.00 393.90 L246.00 393.43 L247.00 392.97 L248.00 392.51 L249.00 392.08 L250.00 391.67 L251.00 391.27 L252.00 390.87 L253.00 390.47 L254.00 390.09 L255.00 389.73 L256.00 389.39 L257.00 389.09 L258.00 388.83 L259.00 388.60 L260.00 388.39 L261.00 388.19 L262.00 388.01 L263.00 387.85 L264.00 387.71 L265.00 387.59 L266.00 387.50"/>
<path d="M120.00 443.83 L121.00 443.60 L122.00 443.37 L123.00 443.14 L124.00 442.91 L125.00 442.69 L126.00 442.48 L127.00 442.27 L128.00 442.07 L129.00 441.87 L130.00 441.68 L131.00 441.50 L132.00 441.32 L133.00 441.15 L134.00 440.99 L135.00 440.83 L136.00 440.68 L137.00 440.53 L138.00 440.37 L139.00 440.21 L140.00 440.06 L141.00 439.90 L142.00 439.76 L143.00 439.61 L144.00 439.48 L145.00 439.35 L146.00 439.24 L147.00 439.13 L148.00 439.04 L149.00 438.96 L150.00 438.90 L151.00 438.85 L152.00 438.83 L153.00 438.81 L154.00 438.79 L155.00 438.78 L156.00 438.76 L157.00 438.75 L158.00 438.74 L159.00 438.74 L160.00 438.73 L161.00 438.71 L162.00 438.70 L163.00 438.69 L164.00 438.67 L165.00 438.64 L166.00 438.61 L167.00 438.56 L168.00 438.52 L169.00 438.47 L170.00 438.41 L171.00 438.36 L172.00 438.31 L173.00 438.25 L174.00 438.21 L175.00 438.17 L176.00 438.13 L177.00 438.10 L178.00 438.07 L179.00 438.04 L180.00 438.01 L181.00 437.98 L182.00 437.95 L183.00 437.93 L184.00 437.90 L185.00 437.87 L186.00 437.84 L187.00 437.81 L188.00 437.78 L189.00 437.74 L190.00 437.70 L191.00 437.66 L192.00 437.61 L193.00 437.56 L194.00 437.51 L195.00 437.45 L196.00 437.39 L197.00 437.32 L198.00 437.25 L199.00 437.17 L200.00 437.08 L201.00 436.99 L202.00 436.87 L203.00 436.75 L204.00 436.60 L205.00 436.45 L206.00 436.28 L207.00 436.10 L208.00 435.90 L209.00 435.69 L210.00 435.45 L211.00 435.19 L212.00 434.89 L213.00 434.55 L214.00 434.17 L215.00 433.75 L216.00 433.22 L217.00 432.55 L218.00 431.78 L219.00 430.97 L220.00 430.13 L221.00 429.21 L222.00 428.20 L223.00 427.07 L224.00 425.65 L225.00 424.17 L226.00 423.41 L227.00 422.59 L228.00 421.43 L229.00 420.19 L230.00 419.06 L231.00 417.96 L232.00 416.87 L233.00 415.78 L234.00 414.68 L235.00 413.58 L236.00 412.48 L237.00 411.38 L238.00 410.28 L239.00 409.18 L240.00 408.08 L241.00 406.98 L242.00 405.88 L243.00 404.77 L244.00 403.65 L245.00 402.56 L246.00 401.49 L247.00 400.47 L248.00 399.48 L249.00 398.49 L250.00 397.50 L251.00 396.48 L252.00 395.44 L253.00 394.43 L254.00 393.48 L255.00 392.60 L256.00 391.76 L257.00 390.97 L258.00 390.23 L259.00 389.55 L260.00 388.92 L261.00 388.33 L262.00 387.77 L263.00 387.24 L264.00 386.74 L265.00 386.27 L266.00 385.83"/>
<path d="M120.00 550.30 L121.00 547.16 L122.00 544.16 L123.00 541.34 L124.00 538.72 L125.00 536.28 L126.00 533.98 L127.00 531.73 L128.00 529.48 L129.00 527.18 L130.00 524.87 L131.00 522.58 L132.00 520.28 L133.00 517.98 L134.00 515.68 L135.00 513.38 L136.00 511.08 L137.00 508.78 L138.00 506.47 L139.00 504.16 L140.00 501.85 L141.00 499.58 L142.00 497.33 L143.00 495.08 L144.00 492.87 L145.00 490.76 L146.00 488.75 L147.00 486.83 L148.00 484.96 L149.00 483.11 L150.00 481.29 L151.00 479.52 L152.00 477.74 L153.00 475.89 L154.00 473.93 L155.00 472.08 L156.00 470.42 L157.00 468.88 L158.00 467.47 L159.00 466.13 L160.00 465.08 L161.00 464.32 L162.00 463.75 L163.00 463.48 L164.00 463.33 L165.00 463.22 L166.00 463.10 L167.00 462.94 L168.00 462.73 L169.00 462.49 L170.00 462.20 L171.00 461.85 L172.00 461.35 L173.00 460.71 L174.00 459.96 L175.00 459.17 L176.00 458.29 L177.00 457.28 L178.00 456.19 L179.00 455.03 L180.00 453.81 L181.00 452.49 L182.00 451.10 L183.00 449.66 L184.00 448.16 L185.00 446.56 L186.00 444.91 L187.00 443.29 L188.00 441.71 L189.00 440.14 L190.00 438.75 L191.00 437.59 L192.00 436.55 L193.00 435.67 L194.00 434.96 L195.00 434.36 L196.00 433.82 L197.00 433.33 L198.00 432.86 L199.00 432.37 L200.00 431.83 L201.00 431.26 L202.00 430.66 L203.00 430.06 L204.00 429.44 L205.00 428.83 L206.00 428.22 L207.00 427.61 L208.00 427.03 L209.00 426.45 L210.00 425.88 L211.00 425.32 L212.00 424.76 L213.00 424.21 L214.00 423.66 L215.00 423.13 L216.00 422.60 L217.00 422.08 L218.00 421.56 L219.00 421.03 L220.00 420.52 L221.00 420.01 L222.00 419.52 L223.00 419.04 L224.00 418.59 L225.00 418.17 L226.00 417.76 L227.00 417.37 L228.00 417.01 L229.00 416.71 L230.00 416.46 L231.00 416.22 L232.00 416.02 L233.00 415.87 L234.00 415.77 L235.00 415.69 L236.00 415.63 L237.00 415.59 L238.00 415.58 L239.00 415.58 L240.00 415.58 L241.00 415.58 L242.00 415.58 L243.00 415.60 L244.00 415.64 L245.00 415.70 L246.00 415.76 L247.00 415.84 L248.00 415.92 L249.00 416.00 L250.00 416.08 L251.00 416.17 L252.00 416.27 L253.00 416.39 L254.00 416.51 L255.00 416.64 L256.00 416.77 L257.00 416.91 L258.00 417.04 L259.00 417.17 L260.00 417.30 L261.00 417.44 L262.00 417.58 L263.00 417.72 L264.00 417.87 L265.00 418.02 L266.00 418.17"/>
<path d="M119.83 458.42 L120.83 458.47 L121.84 458.58 L122.84 458.73 L123.84 458.91 L124.84 459.11 L125.84 459.41 L126.84 459.78 L127.84 460.17 L128.84 460.54 L129.84 460.92 L130.85 461.31 L131.85 461.73 L132.85 462.16 L133.85 462.63 L134.85 463.13 L135.85 463.65 L136.85 464.18 L137.85 464.72 L138.86 465.29 L139.86 465.86 L140.86 466.42 L141.86 466.97 L142.86 467.51 L143.86 468.05 L144.86 468.59 L145.86 469.13 L146.86 469.68 L147.87 470.23 L148.87 470.76 L149.87 471.26 L150.87 471.75 L151.87 472.22 L152.87 472.66 L153.87 473.06 L154.87 473.45 L155.87 473.82 L156.88 474.13 L157.88 474.38 L158.88 474.60 L159.88 474.80 L160.88 474.95 L161.88 475.00 L162.88 474.98 L163.88 474.94 L164.88 474.88 L165.89 474.81 L166.89 474.73 L167.89 474.61 L168.89 474.43 L169.89 474.22 L170.89 473.99 L171.89 473.70 L172.89 473.34 L173.89 472.95 L174.90 472.54 L175.90 472.13 L176.90 471.69 L177.90 471.24 L178.90 470.79 L179.90 470.34 L180.90 469.90 L181.90 469.45 L182.91 468.97 L183.91 468.45 L184.91 467.90 L185.91 467.31 L186.91 466.66 L187.91 465.94 L188.91 465.12 L189.91 464.21 L190.91 463.24 L191.92 462.25 L192.92 461.20 L193.92 460.10 L194.92 458.97 L195.92 457.82 L196.92 456.64 L197.92 455.44 L198.92 454.22 L199.92 453.01 L200.93 451.81 L201.93 450.60 L202.93 449.40 L203.93 448.20 L204.93 446.99 L205.93 445.78 L206.93 444.57 L207.93 443.38 L208.93 442.22 L209.94 441.03 L210.94 439.89 L211.94 438.85 L212.94 437.96 L213.94 437.17 L214.94 436.45 L215.94 435.81 L216.94 435.28 L217.95 434.82 L218.95 434.41 L219.95 434.04 L220.95 433.71 L221.95 433.43 L222.95 433.18 L223.95 432.93 L224.95 432.68 L225.95 432.39 L226.96 432.07 L227.96 431.75 L228.96 431.47 L229.96 431.26 L230.96 431.12 L231.96 431.01 L232.96 430.89 L233.96 430.71 L234.96 430.45 L235.97 430.13 L236.97 429.77 L237.97 429.37 L238.97 428.97 L239.97 428.56 L240.97 428.17 L241.97 427.81 L242.97 427.45 L243.97 427.10 L244.98 426.74 L245.98 426.38 L246.98 426.02 L247.98 425.68 L248.98 425.34 L249.98 425.01 L250.98 424.69 L251.98 424.37 L252.99 424.07 L253.99 423.76 L254.99 423.47 L255.99 423.17 L256.99 422.88 L257.99 422.60 L258.99 422.31 L259.99 422.03 L260.99 421.75 L262.00 421.48 L263.00 421.21 L264.00 420.94 L265.00 420.68 L266.00 420.42"/>
<path d="M119.83 458.50 L120.83 458.55 L121.84 458.66 L122.84 458.81 L123.84 458.99 L124.84 459.19 L125.84 459.49 L126.84 459.86 L127.84 460.25 L128.84 460.63 L129.84 461.00 L130.85 461.40 L131.85 461.81 L132.85 462.25 L133.85 462.72 L134.85 463.22 L135.85 463.73 L136.85 464.26 L137.85 464.80 L138.86 465.37 L139.86 465.94 L140.86 466.50 L141.86 467.05 L142.86 467.59 L143.86 468.13 L144.86 468.67 L145.86 469.21 L146.86 469.77 L147.87 470.32 L148.87 470.85 L149.87 471.35 L150.87 471.84 L151.87 472.31 L152.87 472.74 L153.87 473.15 L154.87 473.54 L155.87 473.90 L156.88 474.22 L157.88 474.46 L158.88 474.69 L159.88 474.89 L160.88 475.03 L161.88 475.08 L162.88 475.07 L163.88 475.03 L164.88 474.97 L165.89 474.89 L166.89 474.81 L167.89 474.70 L168.89 474.55 L169.89 474.37 L170.89 474.15 L171.89 473.87 L172.89 473.52 L173.89 473.12 L174.90 472.71 L175.90 472.30 L176.90 471.86 L177.90 471.41 L178.90 470.95 L179.90 470.50 L180.90 470.04 L181.90 469.57 L182.91 469.11 L183.91 468.63 L184.91 468.19 L185.91 467.99 L186.91 467.84 L187.91 467.72 L188.91 467.62 L189.91 467.52 L190.91 467.42 L191.92 467.30 L192.92 467.17 L193.92 467.05 L194.92 466.92 L195.92 466.79 L196.92 466.66 L197.92 466.53 L198.92 466.40 L199.92 466.26 L200.93 466.12 L201.93 465.97 L202.93 465.82 L203.93 465.67 L204.93 465.52 L205.93 465.37 L206.93 465.21 L207.93 465.06 L208.93 464.91 L209.94 464.76 L210.94 464.61 L211.94 464.46 L212.94 464.31 L213.94 464.16 L214.94 464.01 L215.94 463.86 L216.94 463.71 L217.95 463.56 L218.95 463.40 L219.95 463.25 L220.95 463.10 L221.95 462.95 L222.95 462.80 L223.95 462.65 L224.95 462.51 L225.95 462.36 L226.96 462.20 L227.96 462.05 L228.96 461.93 L229.96 461.84 L230.96 461.77 L231.96 461.71 L232.96 461.66 L233.96 461.60 L234.96 461.55 L235.97 461.51 L236.97 461.46 L237.97 461.43 L238.97 461.40 L239.97 461.37 L240.97 461.35 L241.97 461.34 L242.97 461.33 L243.97 461.33 L244.98 461.33 L245.98 461.33 L246.98 461.33 L247.98 461.33 L248.98 461.33 L249.98 461.33 L250.98 461.33 L251.98 461.33 L252.99 461.35 L253.99 461.38 L254.99 461.44 L255.99 461.50 L256.99 461.59 L257.99 461.69 L258.99 461.80 L259.99 461.92 L260.99 462.05 L262.00 462.19 L263.00 462.34 L264.00 462.50 L265.00 462.66 L266.00 462.83"/>
<path d="M120.00 550.30 L121.00 548.76 L122.00 547.23 L123.00 545.71 L124.00 544.20 L125.00 542.71 L126.00 541.23 L127.00 539.76 L128.00 538.29 L129.00 536.84 L130.00 535.40 L131.00 533.97 L132.00 532.58 L133.00 531.22 L134.00 529.88 L135.00 528.58 L136.00 527.30 L137.00 526.04 L138.00 524.81 L139.00 523.60 L140.00 522.41 L141.00 521.25 L142.00 520.10 L143.00 518.97 L144.00 517.87 L145.00 516.83 L146.00 515.86 L147.00 514.93 L148.00 514.04 L149.00 513.19 L150.00 512.38 L151.00 511.59 L152.00 510.84 L153.00 510.15 L154.00 509.53 L155.00 508.93 L156.00 508.39 L157.00 507.92 L158.00 507.56 L159.00 507.25 L160.00 507.00 L161.00 506.83 L162.00 506.71 L163.00 506.62 L164.00 506.58M164.00 506.58 L165.00 506.58 L166.00 506.56 L167.00 506.53 L168.00 506.47 L169.00 506.17 L170.00 505.71 L171.00 505.26 L172.00 504.83 L173.00 504.35 L174.00 503.86 L175.00 503.33 L176.00 502.79 L177.00 502.21 L178.00 501.60 L179.00 500.95 L180.00 500.23 L181.00 499.43 L182.00 498.60 L183.00 497.81 L184.00 497.09 L185.00 496.38 L186.00 495.66 L187.00 494.94 L188.00 494.18 L189.00 493.36 L190.00 492.55 L191.00 491.76 L192.00 491.04 L193.00 490.41 L194.00 489.80 L195.00 489.22 L196.00 488.64 L197.00 488.01 L198.00 487.40 L199.00 486.81 L200.00 486.25 L201.00 485.71 L202.00 485.18 L203.00 484.69 L204.00 484.24 L205.00 483.78 L206.00 483.33 L207.00 482.92 L208.00 482.53 L209.00 482.20 L210.00 481.88 L211.00 481.59 L212.00 481.35 L213.00 481.18 L214.00 481.06 L215.00 480.96 L216.00 480.88 L217.00 480.79 L218.00 480.65 L219.00 480.51 L220.00 480.40 L221.00 480.31 L222.00 480.27 L223.00 480.32 L224.00 480.37 L225.00 480.42 L226.00 480.45 L227.00 480.48 L228.00 480.52 L229.00 480.55 L230.00 480.58 L231.00 480.62 L232.00 480.66 L233.00 480.70 L234.00 480.74 L235.00 480.78 L236.00 480.83 L237.00 480.89 L238.00 480.96 L239.00 481.04 L240.00 481.12 L241.00 481.20 L242.00 481.28 L243.00 481.35 L244.00 481.40 L245.00 481.44 L246.00 481.49 L247.00 481.53 L248.00 481.57 L249.00 481.60 L250.00 481.63 L251.00 481.65 L252.00 481.66 L253.00 481.67 L254.00 481.66 L255.00 481.65 L256.00 481.63 L257.00 481.61 L258.00 481.59 L259.00 481.56 L260.00 481.53 L261.00 481.50 L262.00 481.46 L263.00 481.42 L264.00 481.37 L265.00 481.31 L266.00 481.25"/>
<path d="M120.00 550.30 L121.00 548.76 L122.00 547.23 L123.00 545.71 L124.00 544.20 L125.00 542.71 L126.00 541.23 L127.00 539.76 L128.00 538.29 L129.00 536.84 L130.00 535.40 L131.00 533.97 L132.00 532.58 L133.00 531.22 L134.00 529.88 L135.00 528.58 L136.00 527.30 L137.00 526.04 L138.00 524.81 L139.00 523.60 L140.00 522.41 L141.00 521.25 L142.00 520.10 L143.00 518.97 L144.00 517.87 L145.00 516.83 L146.00 515.86 L147.00 514.93 L148.00 514.04 L149.00 513.19 L150.00 512.38 L151.00 511.59 L152.00 510.84 L153.00 510.15 L154.00 509.53 L155.00 508.93 L156.00 508.39 L157.00 507.92 L158.00 507.56 L159.00 507.24 L160.00 506.99 L161.00 506.83 L162.00 506.75 L163.00 506.69 L164.00 506.67M164.00 506.67 L165.00 506.72 L166.00 506.74 L167.00 506.75 L168.00 506.73 L169.00 506.43 L170.00 505.96 L171.00 505.52 L172.00 505.10 L173.00 504.67 L174.00 504.21 L175.00 503.75 L176.00 503.27 L177.00 502.78 L178.00 502.27 L179.00 501.89 L180.00 501.55 L181.00 501.20 L182.00 500.83 L183.00 500.46 L184.00 500.01 L185.00 499.51 L186.00 499.01 L187.00 498.50 L188.00 498.00 L189.00 497.50 L190.00 497.00 L191.00 496.50 L192.00 496.00 L193.00 495.49 L194.00 494.98 L195.00 494.48 L196.00 494.00 L197.00 493.51 L198.00 493.03 L199.00 492.56 L200.00 492.08 L201.00 491.50 L202.00 490.90 L203.00 490.32 L204.00 489.76 L205.00 489.21 L206.00 488.68 L207.00 488.16 L208.00 487.66 L209.00 487.15 L210.00 486.64 L211.00 486.14 L212.00 485.65 L213.00 485.16 L214.00 484.66 L215.00 484.18 L216.00 483.71 L217.00 483.25 L218.00 482.74 L219.00 482.24 L220.00 481.78 L221.00 481.36 L222.00 481.06 L223.00 480.93 L224.00 480.81 L225.00 480.67 L226.00 480.51 L227.00 480.35 L228.00 480.18 L229.00 480.01 L230.00 479.83 L231.00 479.66 L232.00 479.48 L233.00 479.30 L234.00 479.12 L235.00 478.94 L236.00 478.75 L237.00 478.56 L238.00 478.36 L239.00 478.16 L240.00 477.96 L241.00 477.76 L242.00 477.56 L243.00 477.35 L244.00 477.15 L245.00 476.95 L246.00 476.75 L247.00 476.55 L248.00 476.35 L249.00 476.15 L250.00 475.95 L251.00 475.75 L252.00 475.55 L253.00 475.35 L254.00 475.15 L255.00 474.95 L256.00 474.75 L257.00 474.55 L258.00 474.35 L259.00 474.15 L260.00 473.95 L261.00 473.75 L262.00 473.55 L263.00 473.35 L264.00 473.15 L265.00 472.95 L266.00 472.75"/>
</g>
<line x1="120" y1="550.45" x2="266" y2="550.45" stroke="#0000ff" stroke-width="1.3" stroke-dasharray="1.3 1.45"/>
<g clip-path="url(#c1)" fill="none" stroke="#ff0000" stroke-width="2.3" stroke-linejoin="round" stroke-linecap="butt">
<path d="M282.00 181.00 L283.00 180.93 L284.00 180.86 L285.00 180.78 L286.00 180.71 L287.00 180.63 L288.00 180.55 L289.00 180.46 L290.00 180.38 L291.00 180.29 L292.00 180.19 L293.00 180.09 L294.00 179.98 L295.00 179.88 L296.00 179.77 L297.00 179.67 L298.00 179.57 L299.00 179.49 L300.00 179.40 L301.00 179.32 L302.00 179.24 L303.00 179.17 L304.00 179.10 L305.00 179.03 L306.00 178.97 L307.00 178.92 L308.00 178.88 L309.00 178.84 L310.00 178.80 L311.00 178.76 L312.00 178.73 L313.00 178.70 L314.00 178.68 L315.00 178.67 L316.00 178.67 L317.00 178.69 L318.00 178.72 L319.00 178.76 L320.00 178.81 L321.00 178.86 L322.00 178.91 L323.00 178.96 L324.00 179.01 L325.00 179.05 L326.00 179.08 L327.00 179.12 L328.00 179.16 L329.00 179.20 L330.00 179.24 L331.00 179.28 L332.00 179.33 L333.00 179.38 L334.00 179.43 L335.00 179.49 L336.00 179.55 L337.00 179.62 L338.00 179.69 L339.00 179.76 L340.00 179.83 L341.00 179.90 L342.00 179.98 L343.00 180.06 L344.00 180.14 L345.00 180.22 L346.00 180.31 L347.00 180.40 L348.00 180.50 L349.00 180.60 L350.00 180.70 L351.00 180.81 L352.00 180.91 L353.00 181.02 L354.00 181.13 L355.00 181.25 L356.00 181.37 L357.00 181.49 L358.00 181.62 L359.00 181.76 L360.00 181.90 L361.00 182.05 L362.00 182.20 L363.00 182.36 L364.00 182.54 L365.00 182.77 L366.00 183.03 L367.00 183.30 L368.00 183.58 L369.00 183.84 L370.00 184.07 L371.00 184.25 L372.00 184.37 L373.00 184.47 L374.00 184.57 L375.00 184.65 L376.00 184.71 L377.00 184.75 L378.00 184.74 L379.00 184.70 L380.00 184.62 L381.00 184.51 L382.00 184.40 L383.00 184.26 L384.00 184.05 L385.00 183.79 L386.00 183.49 L387.00 183.19 L388.00 182.92 L389.00 182.67 L390.00 182.43 L391.00 182.18 L392.00 181.94 L393.00 181.71 L394.00 181.49 L395.00 181.28 L396.00 181.10 L397.00 180.95 L398.00 180.81 L399.00 180.66 L400.00 180.53 L401.00 180.40 L402.00 180.29 L403.00 180.20 L404.00 180.13 L405.00 180.08 L406.00 180.05 L407.00 180.02 L408.00 179.99 L409.00 179.97 L410.00 179.95 L411.00 179.93 L412.00 179.92 L413.00 179.92 L414.00 179.92 L415.00 179.93 L416.00 179.96 L417.00 179.99 L418.00 180.03 L419.00 180.07 L420.00 180.11 L421.00 180.14 L422.00 180.18 L423.00 180.21 L424.00 180.24 L425.00 180.27 L426.00 180.30 L427.00 180.33 L428.00 180.36 L429.00 180.39 L430.00 180.42 L431.00 180.46 L432.00 180.49 L433.00 180.52 L434.00 180.55 L435.00 180.58M435.00 180.58 L436.00 180.53 L437.00 180.47 L438.00 180.42 L439.00 180.37 L440.00 180.32 L441.00 180.27 L442.00 180.23 L443.00 180.19 L444.00 180.16 L445.00 180.12 L446.00 180.10 L447.00 180.08 L448.00 180.06 L449.00 180.04 L450.00 180.02 L451.00 180.00 L452.00 179.98 L453.00 179.97 L454.00 179.95 L455.00 179.94 L456.00 179.93 L457.00 179.92 L458.00 179.92 L459.00 179.92 L460.00 179.92 L461.00 179.93 L462.00 179.94 L463.00 179.96 L464.00 179.98 L465.00 180.01 L466.00 180.04 L467.00 180.07 L468.00 180.10 L469.00 180.15 L470.00 180.21 L471.00 180.29 L472.00 180.38 L473.00 180.47 L474.00 180.57 L475.00 180.67 L476.00 180.77 L477.00 180.87 L478.00 180.99 L479.00 181.11 L480.00 181.24 L481.00 181.38 L482.00 181.52 L483.00 181.66 L484.00 181.81 L485.00 181.96 L486.00 182.13 L487.00 182.30 L488.00 182.48 L489.00 182.66 L490.00 182.84 L491.00 183.01 L492.00 183.17 L493.00 183.33 L494.00 183.49 L495.00 183.66 L496.00 183.84 L497.00 184.00 L498.00 184.14 L499.00 184.25 L500.00 184.31 L501.00 184.33 L502.00 184.33 L503.00 184.31 L504.00 184.29 L505.00 184.25 L506.00 184.22 L507.00 184.18 L508.00 184.15 L509.00 184.09 L510.00 184.03 L511.00 183.96 L512.00 183.89 L513.00 183.82 L514.00 183.74 L515.00 183.66 L516.00 183.58 L517.00 183.49 L518.00 183.41 L519.00 183.33 L520.00 183.25 L521.00 183.18 L522.00 183.10 L523.00 183.03 L524.00 182.96 L525.00 182.89 L526.00 182.82 L527.00 182.75 L528.00 182.69 L529.00 182.62 L530.00 182.56 L531.00 182.49 L532.00 182.43 L533.00 182.37 L534.00 182.31 L535.00 182.25 L536.00 182.20 L537.00 182.15 L538.00 182.10 L539.00 182.06 L540.00 182.02 L541.00 181.97 L542.00 181.94 L543.00 181.90 L544.00 181.86 L545.00 181.83"/>
<path d="M282.00 181.83 L283.00 181.84 L284.00 181.86 L285.00 181.88 L286.00 181.92 L287.00 181.96 L288.00 182.01 L289.00 182.07 L290.00 182.13 L291.00 182.21 L292.00 182.34 L293.00 182.52 L294.00 182.74 L295.00 182.99 L296.00 183.27 L297.00 183.56 L298.00 183.85 L299.00 184.13 L300.00 184.43 L301.00 184.76 L302.00 185.10 L303.00 185.47 L304.00 185.84 L305.00 186.21 L306.00 186.58 L307.00 186.94 L308.00 187.30 L309.00 187.67 L310.00 188.04 L311.00 188.42 L312.00 188.78 L313.00 189.14 L314.00 189.47 L315.00 189.78 L316.00 190.05 L317.00 190.29 L318.00 190.52 L319.00 190.73 L320.00 190.94 L321.00 191.14 L322.00 191.36 L323.00 191.58 L324.00 191.83 L325.00 192.09 L326.00 192.36 L327.00 192.63 L328.00 192.88 L329.00 193.11 L330.00 193.32 L331.00 193.52 L332.00 193.72 L333.00 193.91 L334.00 194.08 L335.00 194.22 L336.00 194.31 L337.00 194.37 L338.00 194.42 L339.00 194.46 L340.00 194.49 L341.00 194.50 L342.00 194.49 L343.00 194.47 L344.00 194.44 L345.00 194.40 L346.00 194.35 L347.00 194.29 L348.00 194.17 L349.00 194.01 L350.00 193.83 L351.00 193.63 L352.00 193.44 L353.00 193.25 L354.00 193.07 L355.00 192.90 L356.00 192.72 L357.00 192.54 L358.00 192.35 L359.00 192.16 L360.00 191.95 L361.00 191.74 L362.00 191.50 L363.00 191.22 L364.00 190.91 L365.00 190.59 L366.00 190.28 L367.00 190.02 L368.00 189.82 L369.00 189.62 L370.00 189.43 L371.00 189.27 L372.00 189.15 L373.00 189.09 L374.00 189.08 L375.00 189.08 L376.00 189.08 L377.00 189.08 L378.00 189.08 L379.00 189.10 L380.00 189.18 L381.00 189.32 L382.00 189.49 L383.00 189.69 L384.00 189.88 L385.00 190.10 L386.00 190.36 L387.00 190.65 L388.00 190.97 L389.00 191.28 L390.00 191.58 L391.00 191.88 L392.00 192.19 L393.00 192.50 L394.00 192.80 L395.00 193.09 L396.00 193.35 L397.00 193.57 L398.00 193.78 L399.00 193.98 L400.00 194.17 L401.00 194.34 L402.00 194.49 L403.00 194.63 L404.00 194.74 L405.00 194.86 L406.00 194.97 L407.00 195.07 L408.00 195.14 L409.00 195.17 L410.00 195.16 L411.00 195.15 L412.00 195.13 L413.00 195.10 L414.00 195.06 L415.00 195.02 L416.00 194.98 L417.00 194.94 L418.00 194.89 L419.00 194.83 L420.00 194.76 L421.00 194.68 L422.00 194.59 L423.00 194.51 L424.00 194.44 L425.00 194.37 L426.00 194.33 L427.00 194.29 L428.00 194.25 L429.00 194.21 L430.00 194.18 L431.00 194.15 L432.00 194.13 L433.00 194.11 L434.00 194.09 L435.00 194.08M435.00 194.08 L436.00 194.04 L437.00 194.00 L438.00 193.96 L439.00 193.92 L440.00 193.88 L441.00 193.84 L442.00 193.81 L443.00 193.77 L444.00 193.74 L445.00 193.71 L446.00 193.68 L447.00 193.66 L448.00 193.63 L449.00 193.61 L450.00 193.59 L451.00 193.57 L452.00 193.55 L453.00 193.53 L454.00 193.51 L455.00 193.50 L456.00 193.49 L457.00 193.48 L458.00 193.47 L459.00 193.46 L460.00 193.45 L461.00 193.44 L462.00 193.43 L463.00 193.42 L464.00 193.41 L465.00 193.39 L466.00 193.37 L467.00 193.34 L468.00 193.31 L469.00 193.28 L470.00 193.24 L471.00 193.20 L472.00 193.15 L473.00 193.06 L474.00 192.93 L475.00 192.79 L476.00 192.64 L477.00 192.49 L478.00 192.32 L479.00 192.11 L480.00 191.83 L481.00 191.19 L482.00 190.46 L483.00 190.33 L484.00 190.33 L485.00 190.01 L486.00 189.25 L487.00 188.85 L488.00 188.73 L489.00 188.45 L490.00 187.97 L491.00 187.52 L492.00 187.17 L493.00 186.83 L494.00 186.48 L495.00 186.17 L496.00 185.88 L497.00 185.60 L498.00 185.35 L499.00 185.12 L500.00 184.91 L501.00 184.73 L502.00 184.56 L503.00 184.39 L504.00 184.22 L505.00 184.05 L506.00 183.88 L507.00 183.73 L508.00 183.61 L509.00 183.51 L510.00 183.42 L511.00 183.32 L512.00 183.21 L513.00 183.08 L514.00 182.93 L515.00 182.78 L516.00 182.61 L517.00 182.45 L518.00 182.29 L519.00 182.14 L520.00 182.00 L521.00 181.86 L522.00 181.73 L523.00 181.59 L524.00 181.46 L525.00 181.33 L526.00 181.21 L527.00 181.11 L528.00 181.02 L529.00 180.95 L530.00 180.88 L531.00 180.81 L532.00 180.75 L533.00 180.69 L534.00 180.64 L535.00 180.61 L536.00 180.59 L537.00 180.58 L538.00 180.58 L539.00 180.59 L540.00 180.60 L541.00 180.61 L542.00 180.63 L543.00 180.66 L544.00 180.70 L545.00 180.75"/>
<path d="M282.00 197.00 L283.00 197.00 L284.00 197.00 L285.00 197.00 L286.00 197.00 L287.00 197.00 L288.00 197.00 L289.00 197.00 L290.00 197.00 L291.00 197.00 L292.00 196.97 L293.00 196.92 L294.00 196.85 L295.00 196.76 L296.00 196.66 L297.00 196.55 L298.00 196.43 L299.00 196.31 L300.00 196.17 L301.00 195.98 L302.00 195.76 L303.00 195.52 L304.00 195.27 L305.00 195.02 L306.00 194.77 L307.00 194.54 L308.00 194.31 L309.00 194.09 L310.00 193.86 L311.00 193.63 L312.00 193.41 L313.00 193.19 L314.00 192.97 L315.00 192.77 L316.00 192.57 L317.00 192.38 L318.00 192.20 L319.00 192.02 L320.00 191.85 L321.00 191.68 L322.00 191.51 L323.00 191.33 L324.00 191.15 L325.00 190.96 L326.00 190.77 L327.00 190.59 L328.00 190.41 L329.00 190.26 L330.00 190.12 L331.00 190.00 L332.00 189.88 L333.00 189.77 L334.00 189.67 L335.00 189.58 L336.00 189.52 L337.00 189.47 L338.00 189.42 L339.00 189.38 L340.00 189.35 L341.00 189.33 L342.00 189.34 L343.00 189.35 L344.00 189.37 L345.00 189.39 L346.00 189.42 L347.00 189.45 L348.00 189.48 L349.00 189.50 L350.00 189.53 L351.00 189.56 L352.00 189.58 L353.00 189.61 L354.00 189.64 L355.00 189.67 L356.00 189.70 L357.00 189.74 L358.00 189.78 L359.00 189.81 L360.00 189.85 L361.00 189.88 L362.00 189.90 L363.00 189.92 L364.00 189.91 L365.00 189.90 L366.00 189.87 L367.00 189.84 L368.00 189.80 L369.00 189.76 L370.00 189.72 L371.00 189.69 L372.00 189.66 L373.00 189.63 L374.00 189.59 L375.00 189.56 L376.00 189.53 L377.00 189.51 L378.00 189.50 L379.00 189.52 L380.00 189.59 L381.00 189.70 L382.00 189.84 L383.00 190.00 L384.00 190.14 L385.00 190.29 L386.00 190.45 L387.00 190.63 L388.00 190.82 L389.00 191.01 L390.00 191.19 L391.00 191.37 L392.00 191.52 L393.00 191.65 L394.00 191.76 L395.00 191.87 L396.00 191.98 L397.00 192.08 L398.00 192.17 L399.00 192.26 L400.00 192.35 L401.00 192.43 L402.00 192.51 L403.00 192.59 L404.00 192.67 L405.00 192.75 L406.00 192.82 L407.00 192.89 L408.00 192.94 L409.00 192.99 L410.00 193.03 L411.00 193.07 L412.00 193.10 L413.00 193.13 L414.00 193.16 L415.00 193.18 L416.00 193.21 L417.00 193.24 L418.00 193.27 L419.00 193.30 L420.00 193.33 L421.00 193.36 L422.00 193.39 L423.00 193.42 L424.00 193.45 L425.00 193.48 L426.00 193.50 L427.00 193.53 L428.00 193.55 L429.00 193.57 L430.00 193.59 L431.00 193.61 L432.00 193.62 L433.00 193.64 L434.00 193.65 L435.00 193.67M435.00 193.67 L436.00 193.69 L437.00 193.71 L438.00 193.73 L439.00 193.75 L440.00 193.77 L441.00 193.78 L442.00 193.80 L443.00 193.81 L444.00 193.82 L445.00 193.83 L446.00 193.83 L447.00 193.83 L448.00 193.83 L449.00 193.83 L450.00 193.83 L451.00 193.83 L452.00 193.83 L453.00 193.83 L454.00 193.83 L455.00 193.83 L456.00 193.83 L457.00 193.83 L458.00 193.83 L459.00 193.83 L460.00 193.83 L461.00 193.83 L462.00 193.83 L463.00 193.83 L464.00 193.83 L465.00 193.83 L466.00 193.83 L467.00 193.83 L468.00 193.83 L469.00 193.83 L470.00 193.83 L471.00 193.84 L472.00 193.86 L473.00 193.88 L474.00 193.91 L475.00 193.95 L476.00 193.99 L477.00 194.03 L478.00 194.07 L479.00 194.11 L480.00 194.15 L481.00 194.20 L482.00 194.25 L483.00 194.31 L484.00 194.36 L485.00 194.41 L486.00 194.47 L487.00 194.52 L488.00 194.57 L489.00 194.62 L490.00 194.67 L491.00 194.72 L492.00 194.77 L493.00 194.82 L494.00 194.87 L495.00 194.92 L496.00 194.96 L497.00 195.01 L498.00 195.06 L499.00 195.10 L500.00 195.15 L501.00 195.20 L502.00 195.25 L503.00 195.31 L504.00 195.38 L505.00 195.46 L506.00 195.55 L507.00 195.65 L508.00 195.75 L509.00 195.86 L510.00 195.98 L511.00 196.09 L512.00 196.20 L513.00 196.32 L514.00 196.45 L515.00 196.58 L516.00 196.72 L517.00 196.85 L518.00 196.99 L519.00 197.12 L520.00 197.25 L521.00 197.38 L522.00 197.51 L523.00 197.64 L524.00 197.77 L525.00 197.89 L526.00 198.01 L527.00 198.12 L528.00 198.22 L529.00 198.31 L530.00 198.39 L531.00 198.48 L532.00 198.55 L533.00 198.63 L534.00 198.69 L535.00 198.75 L536.00 198.80 L537.00 198.85 L538.00 198.89 L539.00 198.93 L540.00 198.96 L541.00 199.00 L542.00 199.03 L543.00 199.05 L544.00 199.07 L545.00 199.08"/>
<path d="M282.00 199.50 L283.00 199.52 L284.00 199.54 L285.00 199.56 L286.00 199.58 L287.00 199.60 L288.00 199.62 L289.00 199.63 L290.00 199.64 L291.00 199.65 L292.00 199.66 L293.00 199.66 L294.00 199.67 L295.00 199.67 L296.00 199.66 L297.00 199.66 L298.00 199.65 L299.00 199.65 L300.00 199.64 L301.00 199.63 L302.00 199.62 L303.00 199.60 L304.00 199.59 L305.00 199.58 L306.00 199.56 L307.00 199.55 L308.00 199.54 L309.00 199.53 L310.00 199.51 L311.00 199.50 L312.00 199.49 L313.00 199.48 L314.00 199.47 L315.00 199.46 L316.00 199.45 L317.00 199.44 L318.00 199.43 L319.00 199.42 L320.00 199.41 L321.00 199.40 L322.00 199.39 L323.00 199.38 L324.00 199.37 L325.00 199.36 L326.00 199.35 L327.00 199.34 L328.00 199.33 L329.00 199.33 L330.00 199.32 L331.00 199.31 L332.00 199.31 L333.00 199.30 L334.00 199.30 L335.00 199.29 L336.00 199.28 L337.00 199.28 L338.00 199.27 L339.00 199.27 L340.00 199.26 L341.00 199.25 L342.00 199.24 L343.00 199.23 L344.00 199.23 L345.00 199.22 L346.00 199.21 L347.00 199.20 L348.00 199.18 L349.00 199.17 L350.00 199.16 L351.00 199.15 L352.00 199.13 L353.00 199.12 L354.00 199.10 L355.00 199.08 L356.00 199.06 L357.00 199.04 L358.00 199.01 L359.00 198.98 L360.00 198.95 L361.00 198.91 L362.00 198.87 L363.00 198.84 L364.00 198.80 L365.00 198.75 L366.00 198.71 L367.00 198.67 L368.00 198.63 L369.00 198.59 L370.00 198.56 L371.00 198.52 L372.00 198.49 L373.00 198.46 L374.00 198.42 L375.00 198.39 L376.00 198.36 L377.00 198.33 L378.00 198.30 L379.00 198.26 L380.00 198.23 L381.00 198.20 L382.00 198.17 L383.00 198.14 L384.00 198.11 L385.00 198.09 L386.00 198.06 L387.00 198.03 L388.00 198.01 L389.00 197.98 L390.00 197.96 L391.00 197.94 L392.00 197.92 L393.00 197.89 L394.00 197.87 L395.00 197.85 L396.00 197.83 L397.00 197.81 L398.00 197.79 L399.00 197.77 L400.00 197.76 L401.00 197.74 L402.00 197.72 L403.00 197.70 L404.00 197.68 L405.00 197.67 L406.00 197.65 L407.00 197.63 L408.00 197.62 L409.00 197.60 L410.00 197.58 L411.00 197.57 L412.00 197.55 L413.00 197.54 L414.00 197.52 L415.00 197.51 L416.00 197.50 L417.00 197.48 L418.00 197.47 L419.00 197.45 L420.00 197.44 L421.00 197.43 L422.00 197.41 L423.00 197.40 L424.00 197.39 L425.00 197.37 L426.00 197.36 L427.00 197.35 L428.00 197.33 L429.00 197.32 L430.00 197.31 L431.00 197.30 L432.00 197.28 L433.00 197.27 L434.00 197.26 L435.00 197.25M435.00 197.25 L436.00 197.24 L437.00 197.22 L438.00 197.19 L439.00 197.15 L440.00 197.11 L441.00 197.07 L442.00 197.02 L443.00 196.97 L444.00 196.91 L445.00 196.85 L446.00 196.79 L447.00 196.73 L448.00 196.65 L449.00 196.56 L450.00 196.45 L451.00 196.34 L452.00 196.22 L453.00 196.11 L454.00 196.01 L455.00 195.92 L456.00 195.83 L457.00 195.74 L458.00 195.64 L459.00 195.55 L460.00 195.47 L461.00 195.41 L462.00 195.36 L463.00 195.34 L464.00 195.33 L465.00 195.33 L466.00 195.33 L467.00 195.33 L468.00 195.33 L469.00 195.33 L470.00 195.33 L471.00 195.34 L472.00 195.35 L473.00 195.37 L474.00 195.40 L475.00 195.43 L476.00 195.45 L477.00 195.48 L478.00 195.50 L479.00 195.51 L480.00 195.52 L481.00 195.53 L482.00 195.54 L483.00 195.55 L484.00 195.55 L485.00 195.56 L486.00 195.57 L487.00 195.59 L488.00 195.60 L489.00 195.62 L490.00 195.64 L491.00 195.65 L492.00 195.67 L493.00 195.70 L494.00 195.72 L495.00 195.75 L496.00 195.78 L497.00 195.82 L498.00 195.86 L499.00 195.91 L500.00 195.96 L501.00 196.02 L502.00 196.08 L503.00 196.14 L504.00 196.21 L505.00 196.29 L506.00 196.38 L507.00 196.48 L508.00 196.59 L509.00 196.70 L510.00 196.81 L511.00 196.92 L512.00 197.04 L513.00 197.16 L514.00 197.28 L515.00 197.41 L516.00 197.55 L517.00 197.68 L518.00 197.82 L519.00 197.95 L520.00 198.08 L521.00 198.22 L522.00 198.35 L523.00 198.49 L524.00 198.63 L525.00 198.76 L526.00 198.89 L527.00 199.02 L528.00 199.13 L529.00 199.24 L530.00 199.35 L531.00 199.45 L532.00 199.56 L533.00 199.65 L534.00 199.74 L535.00 199.82 L536.00 199.88 L537.00 199.93 L538.00 199.98 L539.00 200.02 L540.00 200.06 L541.00 200.09 L542.00 200.12 L543.00 200.15 L544.00 200.16 L545.00 200.17"/>
<path d="M282.00 271.25 L283.00 271.22 L284.01 271.17 L285.01 271.10 L286.01 271.03 L287.01 270.94 L288.02 270.83 L289.02 270.69 L290.02 270.51 L291.03 270.29 L292.03 269.94 L293.03 269.51 L294.03 269.04 L295.04 268.58 L296.04 268.10 L297.04 267.59 L298.05 267.07 L299.05 266.56 L300.05 266.06 L301.05 265.57 L302.06 265.07 L303.06 264.55 L304.06 264.02 L305.06 263.48 L306.07 262.94 L307.07 262.39 L308.07 261.83 L309.08 261.25 L310.08 260.69 L311.08 260.13 L312.08 259.62 L313.09 259.13 L314.09 258.64 L315.09 258.13 L316.10 257.58 L317.10 256.97 L318.10 256.34 L319.10 255.73 L320.11 255.18 L321.11 254.66 L322.11 254.16 L323.12 253.67 L324.12 253.20 L325.12 252.72 L326.12 252.25 L327.13 251.82 L328.13 251.46 L329.13 251.16 L330.14 250.89 L331.14 250.65 L332.14 250.42 L333.14 250.19 L334.15 249.95 L335.15 249.74 L336.15 249.60 L337.16 249.52 L338.16 249.44 L339.16 249.39 L340.16 249.35 L341.17 249.33M341.17 249.33 L342.16 249.38 L343.16 249.43 L344.16 249.47 L345.16 249.51 L346.16 249.54 L347.16 249.57 L348.15 249.58 L349.15 249.58 L350.15 249.58 L351.15 249.58 L352.15 249.58 L353.15 249.58 L354.14 249.58 L355.14 249.58 L356.14 249.56 L357.14 249.52 L358.14 249.45 L359.13 249.37 L360.13 249.28 L361.13 249.19 L362.13 249.10 L363.13 249.02 L364.13 248.94 L365.12 248.86 L366.12 248.78 L367.12 248.70 L368.12 248.62 L369.12 248.54 L370.12 248.46 L371.11 248.38 L372.11 248.30 L373.11 248.22 L374.11 248.15 L375.11 248.08 L376.10 248.01 L377.10 247.93 L378.10 247.85 L379.10 247.76 L380.10 247.66 L381.10 247.53 L382.09 247.39 L383.09 247.23 L384.09 247.06 L385.09 246.88 L386.09 246.69 L387.09 246.49 L388.08 246.30 L389.08 246.10 L390.08 245.88 L391.08 245.64 L392.08 245.40 L393.07 245.15 L394.07 244.91 L395.07 244.67 L396.07 244.45 L397.07 244.25 L398.07 244.05 L399.06 243.85 L400.06 243.65 L401.06 243.46 L402.06 243.29 L403.06 243.13 L404.05 243.01 L405.05 242.91 L406.05 242.84 L407.05 242.76 L408.05 242.70 L409.05 242.63 L410.04 242.58 L411.04 242.54 L412.04 242.51 L413.04 242.50 L414.04 242.50 L415.04 242.51 L416.03 242.52 L417.03 242.54 L418.03 242.56 L419.03 242.59 L420.03 242.62 L421.02 242.65 L422.02 242.68 L423.02 242.72 L424.02 242.77 L425.02 242.83 L426.02 242.89 L427.01 242.96 L428.01 243.03 L429.01 243.10 L430.01 243.17 L431.01 243.23 L432.01 243.30 L433.00 243.36 L434.00 243.43 L435.00 243.50M435.00 243.50 L436.00 243.46 L437.00 243.42 L438.00 243.39 L439.00 243.37 L440.00 243.36 L441.00 243.35 L442.00 243.34 L443.00 243.34 L444.00 243.33 L445.00 243.33 L446.00 243.34 L447.00 243.36 L448.00 243.39 L449.00 243.43 L450.00 243.48 L451.00 243.53 L452.00 243.59 L453.00 243.65 L454.00 243.71 L455.00 243.79 L456.00 243.88 L457.00 243.99 L458.00 244.12 L459.00 244.25 L460.00 244.40 L461.00 244.56 L462.00 244.73 L463.00 244.93 L464.00 245.17 L465.00 245.44 L466.00 245.73 L467.00 246.04 L468.00 246.36 L469.00 246.68 L470.00 247.00 L471.00 247.32 L472.00 247.65 L473.00 247.98 L474.00 248.33 L475.00 248.69 L476.00 249.07 L477.00 249.46 L478.00 249.86 L479.00 250.29 L480.00 250.74 L481.00 251.22 L482.00 251.72 L483.00 252.24 L484.00 252.76 L485.00 253.29 L486.00 253.82 L487.00 254.34 L488.00 254.87 L489.00 255.40 L490.00 255.93 L491.00 256.48 L492.00 257.02 L493.00 257.57 L494.00 258.12 L495.00 258.67 L496.00 259.23 L497.00 259.80 L498.00 260.38 L499.00 260.96 L500.00 261.54 L501.00 262.10 L502.00 262.65 L503.00 263.17 L504.00 263.66 L505.00 264.14 L506.00 264.61 L507.00 265.07 L508.00 265.51 L509.00 265.94 L510.00 266.35 L511.00 266.75 L512.00 267.12 L513.00 267.49 L514.00 267.84 L515.00 268.19 L516.00 268.52 L517.00 268.83 L518.00 269.13 L519.00 269.41 L520.00 269.67 L521.00 269.91 L522.00 270.15 L523.00 270.38 L524.00 270.60 L525.00 270.81 L526.00 270.99 L527.00 271.16 L528.00 271.29 L529.00 271.41 L530.00 271.52 L531.00 271.64 L532.00 271.74 L533.00 271.83 L534.00 271.91 L535.00 271.96 L536.00 271.99 L537.00 272.00 L538.00 272.00 L539.00 272.00 L540.00 272.00 L541.00 272.00 L542.00 272.00 L543.00 272.00 L544.00 272.00 L545.00 272.00"/>
<path d="M282.00 240.83 L283.00 240.84 L284.01 240.86 L285.01 240.89 L286.01 240.94 L287.01 240.99 L288.02 241.06 L289.02 241.13 L290.02 241.21 L291.03 241.31 L292.03 241.47 L293.03 241.69 L294.03 241.93 L295.04 242.17 L296.04 242.44 L297.04 242.74 L298.05 243.06 L299.05 243.41 L300.05 243.80 L301.05 244.24 L302.06 244.71 L303.06 245.20 L304.06 245.72 L305.06 246.28 L306.07 246.86 L307.07 247.44 L308.07 248.03 L309.08 248.63 L310.08 249.24 L311.08 249.85 L312.08 250.45 L313.09 251.06 L314.09 251.67 L315.09 252.26 L316.10 252.84 L317.10 253.39 L318.10 253.94 L319.10 254.50 L320.11 255.10 L321.11 255.72 L322.11 256.36 L323.12 257.02 L324.12 257.69 L325.12 258.41 L326.12 259.16 L327.13 259.86 L328.13 260.49 L329.13 261.06 L330.14 261.59 L331.14 262.07 L332.14 262.49 L333.14 262.86 L334.15 263.20 L335.15 263.49 L336.15 263.72 L337.16 263.89 L338.16 264.05 L339.16 264.18 L340.16 264.28 L341.17 264.33M341.17 264.33 L342.16 264.31 L343.16 264.29 L344.16 264.27 L345.16 264.25 L346.16 264.23 L347.16 264.21 L348.15 264.18 L349.15 264.16 L350.15 264.14 L351.15 264.12 L352.15 264.10 L353.15 264.07 L354.14 264.04 L355.14 263.99 L356.14 263.89 L357.14 263.73 L358.14 263.54 L359.13 263.34 L360.13 263.14 L361.13 262.91 L362.13 262.66 L363.13 262.39 L364.13 262.09 L365.12 261.74 L366.12 261.36 L367.12 260.98 L368.12 260.60 L369.12 260.21 L370.12 259.81 L371.11 259.40 L372.11 258.98 L373.11 258.55 L374.11 258.11 L375.11 257.66 L376.10 257.21 L377.10 256.74 L378.10 256.26 L379.10 255.79 L380.10 255.38 L381.10 255.00 L382.09 254.65 L383.09 254.33 L384.09 254.02 L385.09 253.74 L386.09 253.47 L387.09 253.21 L388.08 252.97 L389.08 252.75 L390.08 252.52 L391.08 252.32 L392.08 252.14 L393.07 252.01 L394.07 251.89 L395.07 251.79 L396.07 251.71 L397.07 251.64 L398.07 251.57 L399.06 251.50 L400.06 251.43 L401.06 251.37 L402.06 251.32 L403.06 251.28 L404.05 251.26 L405.05 251.25 L406.05 251.25 L407.05 251.25 L408.05 251.25 L409.05 251.25 L410.04 251.25 L411.04 251.25 L412.04 251.25 L413.04 251.25 L414.04 251.25 L415.04 251.27 L416.03 251.29 L417.03 251.32 L418.03 251.36 L419.03 251.40 L420.03 251.44 L421.02 251.48 L422.02 251.51 L423.02 251.55 L424.02 251.58 L425.02 251.62 L426.02 251.66 L427.01 251.70 L428.01 251.75 L429.01 251.79 L430.01 251.83 L431.01 251.88 L432.01 251.93 L433.00 251.98 L434.00 252.03 L435.00 252.08M435.00 252.08 L436.00 252.04 L437.00 251.99 L438.00 251.95 L439.00 251.90 L440.00 251.86 L441.00 251.82 L442.00 251.78 L443.00 251.74 L444.00 251.70 L445.00 251.67 L446.00 251.63 L447.00 251.59 L448.00 251.55 L449.00 251.51 L450.00 251.47 L451.00 251.43 L452.00 251.39 L453.00 251.36 L454.00 251.32 L455.00 251.29 L456.00 251.26 L457.00 251.23 L458.00 251.21 L459.00 251.19 L460.00 251.18 L461.00 251.17 L462.00 251.17 L463.00 251.17 L464.00 251.18 L465.00 251.20 L466.00 251.22 L467.00 251.24 L468.00 251.27 L469.00 251.30 L470.00 251.33 L471.00 251.38 L472.00 251.44 L473.00 251.51 L474.00 251.60 L475.00 251.69 L476.00 251.79 L477.00 251.88 L478.00 251.97 L479.00 252.05 L480.00 252.14 L481.00 252.23 L482.00 252.32 L483.00 252.40 L484.00 252.49 L485.00 252.56 L486.00 252.63 L487.00 252.68 L488.00 252.74 L489.00 252.79 L490.00 252.85 L491.00 252.90 L492.00 252.94 L493.00 252.97 L494.00 252.99 L495.00 253.00 L496.00 252.99 L497.00 252.96 L498.00 252.92 L499.00 252.86 L500.00 252.79 L501.00 252.71 L502.00 252.63 L503.00 252.53 L504.00 252.42 L505.00 252.25 L506.00 252.04 L507.00 251.78 L508.00 251.50 L509.00 251.19 L510.00 250.87 L511.00 250.55 L512.00 250.23 L513.00 249.88 L514.00 249.50 L515.00 249.10 L516.00 248.68 L517.00 248.26 L518.00 247.83 L519.00 247.41 L520.00 247.00 L521.00 246.59 L522.00 246.17 L523.00 245.75 L524.00 245.33 L525.00 244.92 L526.00 244.51 L527.00 244.13 L528.00 243.78 L529.00 243.44 L530.00 243.10 L531.00 242.75 L532.00 242.42 L533.00 242.11 L534.00 241.83 L535.00 241.59 L536.00 241.42 L537.00 241.30 L538.00 241.21 L539.00 241.12 L540.00 241.04 L541.00 240.97 L542.00 240.91 L543.00 240.87 L544.00 240.84 L545.00 240.83"/>
<path d="M282.00 272.08 L283.00 271.91 L284.01 271.78 L285.01 271.70 L286.01 271.67 L287.01 271.68 L288.02 271.75 L289.02 271.87 L290.02 272.01 L291.03 272.18 L292.03 272.46 L293.03 272.80 L294.03 273.14 L295.04 273.43 L296.04 273.70 L297.04 273.96 L298.05 274.21 L299.05 274.45 L300.05 274.70 L301.05 274.94 L302.06 275.18 L303.06 275.43 L304.06 275.68 L305.06 275.94 L306.07 276.20 L307.07 276.45 L308.07 276.70 L309.08 276.95 L310.08 277.20 L311.08 277.44 L312.08 277.67 L313.09 277.90 L314.09 278.12 L315.09 278.34 L316.10 278.55 L317.10 278.77 L318.10 278.99 L319.10 279.21 L320.11 279.43 L321.11 279.67 L322.11 279.91 L323.12 280.15 L324.12 280.39 L325.12 280.63 L326.12 280.86 L327.13 281.07 L328.13 281.28 L329.13 281.48 L330.14 281.68 L331.14 281.88 L332.14 282.08 L333.14 282.26 L334.15 282.42 L335.15 282.55 L336.15 282.65 L337.16 282.73 L338.16 282.80 L339.16 282.85 L340.16 282.90 L341.17 282.92M341.17 282.92 L342.16 282.91 L343.16 282.88 L344.16 282.83 L345.16 282.78 L346.16 282.71 L347.16 282.64 L348.15 282.56 L349.15 282.47 L350.15 282.36 L351.15 282.22 L352.15 282.05 L353.15 281.87 L354.14 281.67 L355.14 281.47 L356.14 281.24 L357.14 280.97 L358.14 280.67 L359.13 280.36 L360.13 280.05 L361.13 279.74 L362.13 279.46 L363.13 279.21 L364.13 278.99 L365.12 278.78 L366.12 278.57 L367.12 278.37 L368.12 278.18 L369.12 278.01 L370.12 277.86 L371.11 277.73 L372.11 277.62 L373.11 277.52 L374.11 277.42 L375.11 277.33 L376.10 277.25 L377.10 277.18 L378.10 277.13 L379.10 277.09 L380.10 277.08 L381.10 277.08 L382.09 277.08 L383.09 277.08 L384.09 277.08 L385.09 277.08 L386.09 277.08 L387.09 277.08 L388.08 277.08 L389.08 277.09 L390.08 277.12 L391.08 277.17 L392.08 277.24 L393.07 277.32 L394.07 277.41 L395.07 277.51 L396.07 277.61 L397.07 277.71 L398.07 277.82 L399.06 277.95 L400.06 278.10 L401.06 278.26 L402.06 278.44 L403.06 278.62 L404.05 278.81 L405.05 279.01 L406.05 279.22 L407.05 279.45 L408.05 279.70 L409.05 279.97 L410.04 280.24 L411.04 280.54 L412.04 280.84 L413.04 281.16 L414.04 281.48 L415.04 281.84 L416.03 282.22 L417.03 282.62 L418.03 283.03 L419.03 283.45 L420.03 283.88 L421.02 284.31 L422.02 284.74 L423.02 285.19 L424.02 285.67 L425.02 286.16 L426.02 286.65 L427.01 287.12 L428.01 287.57 L429.01 287.98 L430.01 288.34 L431.01 288.65 L432.01 288.95 L433.00 289.21 L434.00 289.45 L435.00 289.67M435.00 289.67 L436.00 289.27 L437.00 288.86 L438.00 288.42 L439.00 287.97 L440.00 287.50 L441.00 287.00 L442.00 286.49 L443.00 285.94 L444.00 285.35 L445.00 284.73 L446.00 284.10 L447.00 283.46 L448.00 282.84 L449.00 282.24 L450.00 281.67 L451.00 281.12 L452.00 280.58 L453.00 280.05 L454.00 279.53 L455.00 279.02 L456.00 278.51 L457.00 278.01 L458.00 277.53 L459.00 277.05 L460.00 276.59 L461.00 276.13 L462.00 275.69 L463.00 275.26 L464.00 274.84 L465.00 274.43 L466.00 274.04 L467.00 273.65 L468.00 273.26 L469.00 272.88 L470.00 272.50 L471.00 272.12 L472.00 271.75 L473.00 271.37 L474.00 271.01 L475.00 270.65 L476.00 270.29 L477.00 269.95 L478.00 269.61 L479.00 269.28 L480.00 268.95 L481.00 268.63 L482.00 268.31 L483.00 268.01 L484.00 267.71 L485.00 267.43 L486.00 267.16 L487.00 266.92 L488.00 266.67 L489.00 266.42 L490.00 266.18 L491.00 265.95 L492.00 265.74 L493.00 265.56 L494.00 265.43 L495.00 265.33 L496.00 265.27 L497.00 265.21 L498.00 265.15 L499.00 265.10 L500.00 265.06 L501.00 265.03 L502.00 265.01 L503.00 265.00 L504.00 265.01 L505.00 265.05 L506.00 265.12 L507.00 265.22 L508.00 265.34 L509.00 265.47 L510.00 265.60 L511.00 265.74 L512.00 265.88 L513.00 266.03 L514.00 266.21 L515.00 266.40 L516.00 266.61 L517.00 266.82 L518.00 267.05 L519.00 267.27 L520.00 267.50 L521.00 267.74 L522.00 268.00 L523.00 268.27 L524.00 268.55 L525.00 268.83 L526.00 269.10 L527.00 269.36 L528.00 269.59 L529.00 269.81 L530.00 270.03 L531.00 270.24 L532.00 270.45 L533.00 270.64 L534.00 270.82 L535.00 270.97 L536.00 271.10 L537.00 271.20 L538.00 271.29 L539.00 271.37 L540.00 271.45 L541.00 271.52 L542.00 271.58 L543.00 271.63 L544.00 271.66 L545.00 271.67"/>
<path d="M282.00 348.75 L283.00 348.35 L284.01 347.90 L285.01 347.39 L286.01 346.85 L287.01 346.26 L288.02 345.60 L289.02 344.85 L290.02 343.98 L291.03 343.00 L292.03 341.95 L293.03 340.88 L294.03 339.81 L295.04 338.80 L296.04 337.81 L297.04 336.82 L298.05 335.81 L299.05 334.77 L300.05 333.69 L301.05 332.58 L302.06 331.46 L303.06 330.35 L304.06 329.24 L305.06 328.12 L306.07 327.01 L307.07 325.93 L308.07 324.91 L309.08 323.92 L310.08 322.94 L311.08 321.93 L312.08 320.86 L313.09 319.75 L314.09 318.62 L315.09 317.52 L316.10 316.47 L317.10 315.46 L318.10 314.46 L319.10 313.48 L320.11 312.47 L321.11 311.46 L322.11 310.44 L323.12 309.44 L324.12 308.48 L325.12 307.55 L326.12 306.64 L327.13 305.75 L328.13 304.89 L329.13 304.03 L330.14 303.19 L331.14 302.40 L332.14 301.68 L333.14 301.02 L334.15 300.40 L335.15 299.84 L336.15 299.40 L337.16 299.07 L338.16 298.80 L339.16 298.58 L340.16 298.43 L341.17 298.33M341.17 298.33 L342.16 298.33 L343.16 298.33 L344.16 298.33 L345.16 298.33 L346.16 298.33 L347.16 298.33 L348.15 298.33 L349.15 298.33 L350.15 298.33 L351.15 298.33 L352.15 298.33 L353.15 298.33 L354.14 298.33 L355.14 298.33 L356.14 298.33 L357.14 298.32 L358.14 298.30 L359.13 298.28 L360.13 298.26 L361.13 298.23 L362.13 298.20 L363.13 298.17 L364.13 298.14 L365.12 298.08 L366.12 298.01 L367.12 297.93 L368.12 297.84 L369.12 297.75 L370.12 297.65 L371.11 297.55 L372.11 297.46 L373.11 297.35 L374.11 297.24 L375.11 297.12 L376.10 297.00 L377.10 296.87 L378.10 296.74 L379.10 296.61 L380.10 296.49 L381.10 296.36 L382.09 296.23 L383.09 296.10 L384.09 295.97 L385.09 295.84 L386.09 295.71 L387.09 295.58 L388.08 295.45 L389.08 295.32 L390.08 295.19 L391.08 295.06 L392.08 294.93 L393.07 294.79 L394.07 294.66 L395.07 294.54 L396.07 294.41 L397.07 294.28 L398.07 294.16 L399.06 294.03 L400.06 293.91 L401.06 293.79 L402.06 293.67 L403.06 293.55 L404.05 293.44 L405.05 293.33 L406.05 293.22 L407.05 293.11 L408.05 293.01 L409.05 292.91 L410.04 292.81 L411.04 292.71 L412.04 292.62 L413.04 292.53 L414.04 292.44 L415.04 292.35 L416.03 292.27 L417.03 292.19 L418.03 292.11 L419.03 292.03 L420.03 291.96 L421.02 291.88 L422.02 291.81 L423.02 291.74 L424.02 291.67 L425.02 291.60 L426.02 291.54 L427.01 291.47 L428.01 291.40 L429.01 291.33 L430.01 291.25 L431.01 291.16 L432.01 291.07 L433.00 290.97 L434.00 290.86 L435.00 290.75M435.00 290.75 L436.00 290.86 L437.00 290.97 L438.00 291.09 L439.00 291.21 L440.00 291.33 L441.00 291.46 L442.00 291.59 L443.00 291.72 L444.00 291.86 L445.00 292.00 L446.00 292.14 L447.00 292.28 L448.00 292.43 L449.00 292.58 L450.00 292.74 L451.00 292.90 L452.00 293.08 L453.00 293.27 L454.00 293.47 L455.00 293.69 L456.00 293.93 L457.00 294.18 L458.00 294.45 L459.00 294.73 L460.00 295.01 L461.00 295.30 L462.00 295.60 L463.00 295.91 L464.00 296.23 L465.00 296.57 L466.00 296.92 L467.00 297.27 L468.00 297.63 L469.00 297.98 L470.00 298.33 L471.00 298.68 L472.00 299.03 L473.00 299.39 L474.00 299.74 L475.00 300.10 L476.00 300.47 L477.00 300.83 L478.00 301.21 L479.00 301.59 L480.00 301.97 L481.00 302.36 L482.00 302.76 L483.00 303.16 L484.00 303.56 L485.00 303.97 L486.00 304.39 L487.00 304.81 L488.00 305.24 L489.00 305.68 L490.00 306.12 L491.00 306.58 L492.00 307.02 L493.00 307.47 L494.00 307.91 L495.00 308.33 L496.00 308.75 L497.00 309.16 L498.00 309.56 L499.00 309.95 L500.00 310.35 L501.00 310.74 L502.00 311.14 L503.00 311.53 L504.00 311.94 L505.00 312.35 L506.00 312.77 L507.00 313.18 L508.00 313.60 L509.00 314.00 L510.00 314.39 L511.00 314.77 L512.00 315.11 L513.00 315.46 L514.00 315.79 L515.00 316.12 L516.00 316.44 L517.00 316.74 L518.00 317.02 L519.00 317.28 L520.00 317.50 L521.00 317.70 L522.00 317.90 L523.00 318.08 L524.00 318.25 L525.00 318.40 L526.00 318.55 L527.00 318.68 L528.00 318.80 L529.00 318.91 L530.00 319.02 L531.00 319.13 L532.00 319.23 L533.00 319.32 L534.00 319.40 L535.00 319.46 L536.00 319.49 L537.00 319.50 L538.00 319.50 L539.00 319.50 L540.00 319.50 L541.00 319.50 L542.00 319.50 L543.00 319.50 L544.00 319.50 L545.00 319.50"/>
<path d="M282.00 319.17 L283.00 319.14 L284.01 319.12 L285.01 319.10 L286.01 319.08 L287.01 319.07 L288.02 319.05 L289.02 319.04 L290.02 319.03 L291.03 319.02 L292.03 319.01 L293.03 319.00 L294.03 319.00 L295.04 319.00 L296.04 319.00 L297.04 319.00 L298.05 319.01 L299.05 319.02 L300.05 319.02 L301.05 319.03 L302.06 319.04 L303.06 319.05 L304.06 319.06 L305.06 319.07 L306.07 319.09 L307.07 319.10 L308.07 319.12 L309.08 319.13 L310.08 319.15 L311.08 319.16 L312.08 319.18 L313.09 319.20 L314.09 319.23 L315.09 319.26 L316.10 319.29 L317.10 319.33 L318.10 319.36 L319.10 319.40 L320.11 319.43 L321.11 319.47 L322.11 319.51 L323.12 319.55 L324.12 319.60 L325.12 319.64 L326.12 319.68 L327.13 319.72 L328.13 319.75 L329.13 319.79 L330.14 319.83 L331.14 319.87 L332.14 319.91 L333.14 319.94 L334.15 319.97 L335.15 319.99 L336.15 320.00 L337.16 320.00 L338.16 320.00 L339.16 320.00 L340.16 320.00 L341.17 320.00M341.17 320.00 L342.16 320.00 L343.16 319.99 L344.16 319.97 L345.16 319.95 L346.16 319.92 L347.16 319.89 L348.15 319.86 L349.15 319.82 L350.15 319.77 L351.15 319.71 L352.15 319.63 L353.15 319.54 L354.14 319.43 L355.14 319.32 L356.14 319.15 L357.14 318.94 L358.14 318.68 L359.13 318.39 L360.13 318.08 L361.13 317.76 L362.13 317.44 L363.13 317.14 L364.13 316.86 L365.12 316.56 L366.12 316.27 L367.12 315.96 L368.12 315.66 L369.12 315.36 L370.12 315.05 L371.11 314.75 L372.11 314.45 L373.11 314.15 L374.11 313.85 L375.11 313.55 L376.10 313.25 L377.10 312.95 L378.10 312.65 L379.10 312.35 L380.10 312.05 L381.10 311.75 L382.09 311.46 L383.09 311.16 L384.09 310.86 L385.09 310.56 L386.09 310.26 L387.09 309.96 L388.08 309.66 L389.08 309.36 L390.08 309.06 L391.08 308.77 L392.08 308.47 L393.07 308.18 L394.07 307.88 L395.07 307.58 L396.07 307.27 L397.07 306.96 L398.07 306.64 L399.06 306.32 L400.06 306.00 L401.06 305.67 L402.06 305.34 L403.06 305.00 L404.05 304.66 L405.05 304.31 L406.05 303.96 L407.05 303.61 L408.05 303.25 L409.05 302.89 L410.04 302.52 L411.04 302.14 L412.04 301.76 L413.04 301.37 L414.04 300.97 L415.04 300.56 L416.03 300.15 L417.03 299.73 L418.03 299.31 L419.03 298.87 L420.03 298.42 L421.02 297.97 L422.02 297.50 L423.02 297.01 L424.02 296.51 L425.02 296.00 L426.02 295.47 L427.01 294.94 L428.01 294.40 L429.01 293.87 L430.01 293.33 L431.01 292.79 L432.01 292.25 L433.00 291.70 L434.00 291.14 L435.00 290.58M435.00 290.58 L436.00 291.07 L437.00 291.57 L438.00 292.08 L439.00 292.59 L440.00 293.11 L441.00 293.64 L442.00 294.18 L443.00 294.72 L444.00 295.28 L445.00 295.83 L446.00 296.41 L447.00 297.01 L448.00 297.62 L449.00 298.25 L450.00 298.87 L451.00 299.48 L452.00 300.08 L453.00 300.65 L454.00 301.19 L455.00 301.72 L456.00 302.24 L457.00 302.75 L458.00 303.24 L459.00 303.73 L460.00 304.21 L461.00 304.69 L462.00 305.15 L463.00 305.61 L464.00 306.05 L465.00 306.48 L466.00 306.90 L467.00 307.33 L468.00 307.76 L469.00 308.21 L470.00 308.67 L471.00 309.14 L472.00 309.62 L473.00 310.11 L474.00 310.60 L475.00 311.11 L476.00 311.62 L477.00 312.13 L478.00 312.66 L479.00 313.19 L480.00 313.73 L481.00 314.28 L482.00 314.83 L483.00 315.40 L484.00 315.96 L485.00 316.54 L486.00 317.11 L487.00 317.69 L488.00 318.28 L489.00 318.86 L490.00 319.45 L491.00 320.05 L492.00 320.65 L493.00 321.26 L494.00 321.88 L495.00 322.50 L496.00 323.13 L497.00 323.78 L498.00 324.43 L499.00 325.10 L500.00 325.76 L501.00 326.43 L502.00 327.11 L503.00 327.78 L504.00 328.45 L505.00 329.13 L506.00 329.81 L507.00 330.49 L508.00 331.18 L509.00 331.86 L510.00 332.54 L511.00 333.22 L512.00 333.89 L513.00 334.54 L514.00 335.19 L515.00 335.82 L516.00 336.46 L517.00 337.11 L518.00 337.77 L519.00 338.45 L520.00 339.17 L521.00 339.95 L522.00 340.79 L523.00 341.62 L524.00 342.38 L525.00 343.06 L526.00 343.69 L527.00 344.28 L528.00 344.83 L529.00 345.34 L530.00 345.84 L531.00 346.30 L532.00 346.68 L533.00 346.97 L534.00 347.25 L535.00 347.48 L536.00 347.63 L537.00 347.67 L538.00 347.67 L539.00 347.67 L540.00 347.67 L541.00 347.67 L542.00 347.60 L543.00 347.47 L544.00 347.29 L545.00 347.08"/>
<path d="M282.00 344.00 L283.00 344.36 L284.01 344.76 L285.01 345.20 L286.01 345.67 L287.01 346.19 L288.02 346.78 L289.02 347.41 L290.02 348.04 L291.03 348.65 L292.03 349.27 L293.03 349.88 L294.03 350.48 L295.04 351.03 L296.04 351.56 L297.04 352.07 L298.05 352.56 L299.05 353.01 L300.05 353.46 L301.05 353.90 L302.06 354.29 L303.06 354.60 L304.06 354.88 L305.06 355.13 L306.07 355.33 L307.07 355.42 L308.07 355.40 L309.08 355.36 L310.08 355.28 L311.08 355.19 L312.08 355.04 L313.09 354.74 L314.09 354.34 L315.09 353.92 L316.10 353.49 L317.10 352.99 L318.10 352.45 L319.10 351.93 L320.11 351.47 L321.11 351.04 L322.11 350.64 L323.12 350.25 L324.12 349.90 L325.12 349.57 L326.12 349.26 L327.13 348.97 L328.13 348.72 L329.13 348.48 L330.14 348.27 L331.14 348.08 L332.14 347.92 L333.14 347.78 L334.15 347.65 L335.15 347.55 L336.15 347.50 L337.16 347.50 L338.16 347.50 L339.16 347.50 L340.16 347.50 L341.17 347.50M341.17 347.50 L342.18 347.69 L343.19 347.89 L344.20 348.09 L345.21 348.29 L346.22 348.50 L347.23 348.72 L348.24 348.97 L349.25 349.29 L350.26 349.66 L351.27 350.07 L352.28 350.49 L353.29 350.92 L354.30 351.38 L355.31 351.85 L356.32 352.34 L357.33 352.83 L358.34 353.34 L359.35 353.85 L360.36 354.36 L361.38 354.84 L362.39 355.31 L363.40 355.77 L364.41 356.23 L365.42 356.67M365.42 356.67 L366.41 356.24 L367.40 355.81 L368.40 355.36 L369.39 354.89 L370.39 354.41 L371.38 353.91 L372.38 353.40 L373.37 352.90 L374.36 352.40 L375.36 351.90 L376.35 351.41 L377.35 350.91 L378.34 350.41 L379.33 349.92 L380.33 349.42 L381.32 348.92 L382.32 348.42 L383.31 347.92 L384.30 347.41 L385.30 346.90 L386.29 346.40 L387.29 345.90 L388.28 345.41 L389.27 344.93 L390.27 344.46 L391.26 344.02 L392.26 343.61 L393.25 343.21 L394.24 342.79 L395.24 342.36 L396.23 341.89 L397.23 341.35 L398.22 340.73 L399.21 340.17 L400.21 339.62 L401.20 339.08 L402.20 338.55 L403.19 338.02 L404.18 337.51 L405.18 336.99 L406.17 336.47 L407.17 335.95 L408.16 335.45 L409.15 335.00 L410.15 334.60 L411.14 334.22 L412.14 333.87 L413.13 333.56 L414.12 333.28 L415.12 333.03 L416.11 332.80 L417.11 332.59 L418.10 332.37 L419.10 332.14 L420.09 331.93 L421.08 331.75 L422.08 331.62 L423.07 331.51 L424.07 331.41 L425.06 331.32 L426.05 331.24 L427.05 331.17 L428.04 331.10 L429.04 331.05 L430.03 331.00 L431.02 330.96 L432.02 330.92 L433.01 330.88 L434.01 330.85 L435.00 330.83M435.00 330.83 L436.00 330.84 L437.00 330.88 L438.00 330.92 L439.00 330.98 L440.00 331.05 L441.00 331.13 L442.00 331.21 L443.00 331.30 L444.00 331.41 L445.00 331.56 L446.00 331.72 L447.00 331.90 L448.00 332.10 L449.00 332.30 L450.00 332.50 L451.00 332.70 L452.00 332.91 L453.00 333.13 L454.00 333.36 L455.00 333.61 L456.00 333.85 L457.00 334.09 L458.00 334.32 L459.00 334.55 L460.00 334.76 L461.00 334.97 L462.00 335.18 L463.00 335.38 L464.00 335.58 L465.00 335.78 L466.00 335.97 L467.00 336.16 L468.00 336.34 L469.00 336.52 L470.00 336.70 L471.00 336.88 L472.00 337.05 L473.00 337.22 L474.00 337.38 L475.00 337.54 L476.00 337.69 L477.00 337.84 L478.00 337.99 L479.00 338.14 L480.00 338.29 L481.00 338.42 L482.00 338.54 L483.00 338.65 L484.00 338.74 L485.00 338.81 L486.00 338.88 L487.00 338.95 L488.00 339.01 L489.00 339.07 L490.00 339.11 L491.00 339.15 L492.00 339.16 L493.00 339.17 L494.00 339.17 L495.00 339.17 L496.00 339.17 L497.00 339.17 L498.00 339.17 L499.00 339.17 L500.00 339.17 L501.00 339.17 L502.00 339.16 L503.00 339.14 L504.00 339.12 L505.00 339.09 L506.00 339.07 L507.00 339.04 L508.00 339.02 L509.00 339.01 L510.00 339.00 L511.00 339.09 L512.00 339.19 L513.00 339.26 L514.00 339.31 L515.00 339.36 L516.00 339.41 L517.00 339.46 L518.00 339.51 L519.00 339.58 L520.00 339.67 L521.00 339.79 L522.00 339.96 L523.00 340.17 L524.00 340.41 L525.00 340.68 L526.00 340.97 L527.00 341.26 L528.00 341.57 L529.00 341.88 L530.00 342.25 L531.00 342.67 L532.00 343.11 L533.00 343.56 L534.00 344.00 L535.00 344.41 L536.00 344.78 L537.00 345.10 L538.00 345.39 L539.00 345.67 L540.00 345.94 L541.00 346.19 L542.00 346.42 L543.00 346.63 L544.00 346.83 L545.00 347.00"/>
<path d="M282.00 355.42 L283.00 355.26 L284.01 355.13 L285.01 355.04 L286.01 355.00 L287.01 355.01 L288.02 355.05 L289.02 355.12 L290.02 355.21 L291.03 355.31 L292.03 355.48 L293.03 355.70 L294.03 355.94 L295.04 356.17 L296.04 356.40 L297.04 356.64 L298.05 356.89 L299.05 357.14 L300.05 357.40 L301.05 357.67 L302.06 357.94 L303.06 358.18 L304.06 358.39 L305.06 358.59 L306.07 358.79 L307.07 358.98 L308.07 359.18 L309.08 359.37 L310.08 359.56 L311.08 359.78 L312.08 360.02 L313.09 360.29 L314.09 360.58 L315.09 360.88 L316.10 361.18 L317.10 361.51 L318.10 361.85 L319.10 362.17 L320.11 362.46 L321.11 362.73 L322.11 363.00 L323.12 363.25 L324.12 363.50 L325.12 363.74 L326.12 363.96 L327.13 364.17 L328.13 364.36 L329.13 364.54 L330.14 364.73 L331.14 364.90 L332.14 365.07 L333.14 365.22 L334.15 365.36 L335.15 365.48 L336.15 365.57 L337.16 365.64 L338.16 365.71 L339.16 365.77 L340.16 365.81 L341.17 365.83M341.17 365.83 L342.16 365.81 L343.16 365.75 L344.16 365.67 L345.16 365.54 L346.16 365.34 L347.16 365.11 L348.15 364.87 L349.15 364.65 L350.15 364.41 L351.15 364.15 L352.15 363.86 L353.15 363.53 L354.14 363.16 L355.14 362.75 L356.14 362.32 L357.14 361.87 L358.14 361.36 L359.13 360.84 L360.13 360.33 L361.13 359.87 L362.13 359.45 L363.13 359.05 L364.13 358.67 L365.12 358.29 L366.12 357.92 L367.12 357.55 L368.12 357.20 L369.12 356.85 L370.12 356.51 L371.11 356.17 L372.11 355.83 L373.11 355.49 L374.11 355.15 L375.11 354.82 L376.10 354.48 L377.10 354.14 L378.10 353.80 L379.10 353.46 L380.10 353.10 L381.10 352.72 L382.09 352.33 L383.09 351.93 L384.09 351.51 L385.09 351.09 L386.09 350.65 L387.09 350.19 L388.08 349.71 L389.08 349.22 L390.08 348.71 L391.08 348.16 L392.08 347.57 L393.07 346.95 L394.07 346.31 L395.07 345.66 L396.07 344.99 L397.07 344.29 L398.07 343.54 L399.06 342.76 L400.06 341.95 L401.06 341.07 L402.06 340.07 L403.06 338.83 L404.05 337.18 L405.05 335.77 L406.05 334.75 L407.05 333.84 L408.05 333.02 L409.05 332.27 L410.04 331.56 L411.04 330.86 L412.04 330.15 L413.04 329.40 L414.04 328.59 L415.04 327.76 L416.03 326.94 L417.03 326.17 L418.03 325.47 L419.03 324.82 L420.03 324.21 L421.02 323.66 L422.02 323.16 L423.02 322.70 L424.02 322.28 L425.02 321.91 L426.02 321.62 L427.01 321.36 L428.01 321.12 L429.01 320.94 L430.01 320.83 L431.01 320.78 L432.01 320.73 L433.00 320.70 L434.00 320.67 L435.00 320.67M435.00 320.67 L436.00 320.92 L437.00 321.17 L438.00 321.42 L439.00 321.66 L440.00 321.87 L441.00 322.10 L442.00 322.35 L443.00 322.67 L444.00 323.05 L445.00 323.50 L446.00 323.99 L447.00 324.52 L448.00 325.12 L449.00 325.79 L450.00 326.50 L451.00 327.20 L452.00 327.91 L453.00 328.64 L454.00 329.39 L455.00 330.17 L456.00 331.00 L457.00 331.87 L458.00 332.75 L459.00 333.61 L460.00 334.43 L461.00 335.21 L462.00 336.00 L463.00 336.80 L464.00 337.66 L465.00 338.55 L466.00 339.47 L467.00 340.38 L468.00 341.28 L469.00 342.18 L470.00 343.08 L471.00 343.98 L472.00 344.88 L473.00 345.80 L474.00 346.71 L475.00 347.61 L476.00 348.47 L477.00 349.30 L478.00 350.09 L479.00 350.88 L480.00 351.67 L481.00 352.47 L482.00 353.28 L483.00 354.08 L484.00 354.87 L485.00 355.65 L486.00 356.43 L487.00 357.20 L488.00 357.93 L489.00 358.62 L490.00 359.28 L491.00 359.92 L492.00 360.53 L493.00 361.13 L494.00 361.70 L495.00 362.25 L496.00 362.79 L497.00 363.36 L498.00 363.99 L499.00 364.52 L500.00 364.88 L501.00 365.19 L502.00 365.45 L503.00 365.63 L504.00 365.73 L505.00 365.81 L506.00 365.83 L507.00 365.69 L508.00 365.41 L509.00 365.06 L510.00 364.63 L511.00 364.02 L512.00 363.34 L513.00 362.69 L514.00 362.14 L515.00 361.60 L516.00 361.09 L517.00 360.63 L518.00 360.22 L519.00 359.83 L520.00 359.47 L521.00 359.17 L522.00 358.93 L523.00 358.73 L524.00 358.56 L525.00 358.41 L526.00 358.26 L527.00 358.12 L528.00 357.99 L529.00 357.86 L530.00 357.74 L531.00 357.60 L532.00 357.44 L533.00 357.26 L534.00 357.06 L535.00 356.85 L536.00 356.64 L537.00 356.43 L538.00 356.21 L539.00 356.00 L540.00 355.80 L541.00 355.64 L542.00 355.52 L543.00 355.41 L544.00 355.32 L545.00 355.25"/>
<path d="M282.00 365.17 L283.00 365.15 L284.01 365.12 L285.01 365.07 L286.01 365.02 L287.01 364.96 L288.02 364.88 L289.02 364.78 L290.02 364.65 L291.03 364.49 L292.03 364.23 L293.03 363.91 L294.03 363.55 L295.04 363.20 L296.04 362.81 L297.04 362.39 L298.05 361.97 L299.05 361.59 L300.05 361.22 L301.05 360.86 L302.06 360.53 L303.06 360.23 L304.06 359.98 L305.06 359.75 L306.07 359.54 L307.07 359.35 L308.07 359.19 L309.08 359.05 L310.08 358.92 L311.08 358.78 L312.08 358.65 L313.09 358.51 L314.09 358.37 L315.09 358.23 L316.10 358.08 L317.10 357.92 L318.10 357.75 L319.10 357.59 L320.11 357.43 L321.11 357.27 L322.11 357.10 L323.12 356.94 L324.12 356.79 L325.12 356.64 L326.12 356.50 L327.13 356.36 L328.13 356.23 L329.13 356.12 L330.14 356.01 L331.14 355.92 L332.14 355.84 L333.14 355.76 L334.15 355.69 L335.15 355.63 L336.15 355.59 L337.16 355.56 L338.16 355.54 L339.16 355.52 L340.16 355.50 L341.17 355.50M341.17 355.50 L342.16 355.58 L343.16 355.69 L344.16 355.83 L345.16 356.02 L346.16 356.26 L347.16 356.52 L348.15 356.79 L349.15 357.04 L350.15 357.30 L351.15 357.56 L352.15 357.82 L353.15 358.09 L354.14 358.36 L355.14 358.62 L356.14 358.88 L357.14 359.10 L358.14 359.30 L359.13 359.48 L360.13 359.68 L361.13 359.90 L362.13 360.14 L363.13 360.39 L364.13 360.69 L365.12 361.05 L366.12 361.55 L367.12 362.19 L368.12 362.93 L369.12 363.71 L370.12 364.56 L371.11 365.52 L372.11 366.56 L373.11 367.66 L374.11 368.84 L375.11 370.12 L376.10 371.47 L377.10 372.81 L378.10 374.11 L379.10 375.41 L380.10 376.71 L381.10 378.01 L382.09 379.31 L383.09 380.65 L384.09 381.99 L385.09 383.27 L386.09 384.46 L387.09 385.61 L388.08 386.71 L389.08 387.71 L390.08 388.56 L391.08 389.32 L392.08 390.01 L393.07 390.60 L394.07 391.05 L395.07 391.40 L396.07 391.71 L397.07 391.96 L398.07 392.08 L399.06 392.08 L400.06 392.04 L401.06 391.98 L402.06 391.91 L403.06 391.82 L404.05 391.73 L405.05 391.64 L406.05 391.55 L407.05 391.47 L408.05 391.39 L409.05 391.30 L410.04 391.21 L411.04 391.12 L412.04 391.03 L413.04 390.95 L414.04 390.88 L415.04 390.83 L416.03 390.79 L417.03 390.75 L418.03 390.71 L419.03 390.68 L420.03 390.65 L421.02 390.62 L422.02 390.59 L423.02 390.57 L424.02 390.55 L425.02 390.53 L426.02 390.51 L427.01 390.50 L428.01 390.48 L429.01 390.47 L430.01 390.46 L431.01 390.44 L432.01 390.43 L433.00 390.43 L434.00 390.42 L435.00 390.42M435.00 390.42 L436.00 390.42 L437.00 390.42 L438.00 390.43 L439.00 390.44 L440.00 390.45 L441.00 390.47 L442.00 390.49 L443.00 390.51 L444.00 390.53 L445.00 390.55 L446.00 390.57 L447.00 390.59 L448.00 390.62 L449.00 390.64 L450.00 390.67 L451.00 390.69 L452.00 390.73 L453.00 390.77 L454.00 390.81 L455.00 390.86 L456.00 390.91 L457.00 390.96 L458.00 391.01 L459.00 391.07 L460.00 391.12 L461.00 391.17 L462.00 391.23 L463.00 391.27 L464.00 391.33 L465.00 391.38 L466.00 391.44 L467.00 391.50 L468.00 391.55 L469.00 391.60 L470.00 391.64 L471.00 391.67 L472.00 391.70 L473.00 391.73 L474.00 391.76 L475.00 391.78 L476.00 391.80 L477.00 391.82 L478.00 391.83 L479.00 391.83 L480.00 391.81 L481.00 391.72 L482.00 391.58 L483.00 391.36 L484.00 390.84 L485.00 390.17 L486.00 389.33 L487.00 388.36 L488.00 387.54 L489.00 386.81 L490.00 385.80 L491.00 384.55 L492.00 383.19 L493.00 381.79 L494.00 380.26 L495.00 378.71 L496.00 377.27 L497.00 375.95 L498.00 374.69 L499.00 373.52 L500.00 372.42 L501.00 371.36 L502.00 370.42 L503.00 369.61 L504.00 368.88 L505.00 368.33 L506.00 367.93 L507.00 367.59 L508.00 367.37 L509.00 367.28 L510.00 367.23 L511.00 367.19 L512.00 367.15 L513.00 367.10 L514.00 367.04 L515.00 366.97 L516.00 366.90 L517.00 366.81 L518.00 366.70 L519.00 366.58 L520.00 366.40 L521.00 366.20 L522.00 365.97 L523.00 365.74 L524.00 365.51 L525.00 365.25 L526.00 364.98 L527.00 364.72 L528.00 364.48 L529.00 364.28 L530.00 364.07 L531.00 363.88 L532.00 363.77 L533.00 363.76 L534.00 363.83 L535.00 363.95 L536.00 364.08 L537.00 364.21 L538.00 364.39 L539.00 364.58 L540.00 364.75 L541.00 364.84 L542.00 364.90 L543.00 364.95 L544.00 364.99 L545.00 365.00"/>
<path d="M282.00 367.67 L283.00 367.77 L284.01 367.85 L285.01 367.89 L286.01 367.92 L287.01 367.91 L288.02 367.87 L289.02 367.80 L290.02 367.71 L291.03 367.59 L292.03 367.32 L293.03 366.94 L294.03 366.51 L295.04 366.09 L296.04 365.62 L297.04 365.10 L298.05 364.57 L299.05 364.06 L300.05 363.53 L301.05 363.00 L302.06 362.50 L303.06 362.06 L304.06 361.66 L305.06 361.28 L306.07 360.95 L307.07 360.69 L308.07 360.46 L309.08 360.25 L310.08 360.09 L311.08 360.00 L312.08 360.02 L313.09 360.10 L314.09 360.22 L315.09 360.36 L316.10 360.51 L317.10 360.72 L318.10 360.95 L319.10 361.16 L320.11 361.31 L321.11 361.44 L322.11 361.56 L323.12 361.67 L324.12 361.77 L325.12 361.86 L326.12 361.95 L327.13 362.02 L328.13 362.09 L329.13 362.16 L330.14 362.23 L331.14 362.30 L332.14 362.36 L333.14 362.41 L334.15 362.46 L335.15 362.49 L336.15 362.50 L337.16 362.49 L338.16 362.47 L339.16 362.44 L340.16 362.39 L341.17 362.33M341.17 362.33 L342.16 362.24 L343.16 362.19 L344.16 362.17 L345.16 362.19 L346.16 362.27 L347.16 362.37 L348.15 362.48 L349.15 362.60 L350.15 362.73 L351.15 362.89 L352.15 363.07 L353.15 363.28 L354.14 363.52 L355.14 363.79 L356.14 364.17 L357.14 364.66 L358.14 365.24 L359.13 365.90 L360.13 366.59 L361.13 367.30 L362.13 368.10 L363.13 368.99 L364.13 369.95 L365.12 370.96 L366.12 372.06 L367.12 373.24 L368.12 374.49 L369.12 375.77 L370.12 377.08 L371.11 378.45 L372.11 379.87 L373.11 381.33 L374.11 382.83 L375.11 384.34 L376.10 385.93 L377.10 387.62 L378.10 389.56 L379.10 391.27 L380.10 392.75 L381.10 394.17 L382.09 395.63 L383.09 397.09 L384.09 398.62 L385.09 400.36 L386.09 402.22 L387.09 404.14 L388.08 406.14 L389.08 408.16 L390.08 410.16 L391.08 412.16 L392.08 414.16 L393.07 416.18 L394.07 418.15 L395.07 420.10 L396.07 421.96 L397.07 423.49 L398.07 424.84 L399.06 426.07 L400.06 427.13 L401.06 428.02 L402.06 428.74 L403.06 429.33 L404.05 429.79 L405.05 430.13 L406.05 430.40 L407.05 430.65 L408.05 430.85 L409.05 431.03 L410.04 431.20 L411.04 431.39 L412.04 431.62 L413.04 431.90 L414.04 432.23 L415.04 432.61 L416.03 433.04 L417.03 433.52 L418.03 434.16 L419.03 434.87 L420.03 435.57 L421.02 436.24 L422.02 436.90 L423.02 437.57 L424.02 438.25 L425.02 438.94 L426.02 439.61 L427.01 440.20 L428.01 440.75 L429.01 441.25 L430.01 441.67 L431.01 442.05 L432.01 442.39 L433.00 442.62 L434.00 442.73 L435.00 442.78M435.00 442.78 L436.00 442.61 L437.00 442.40 L438.00 442.17 L439.00 441.90 L440.00 441.60 L441.00 441.26 L442.00 440.87 L443.00 440.44 L444.00 439.92 L445.00 439.33 L446.00 438.73 L447.00 438.14 L448.00 437.56 L449.00 436.97 L450.00 436.36 L451.00 435.73 L452.00 435.06 L453.00 434.37 L454.00 433.65 L455.00 432.92 L456.00 432.16 L457.00 431.39 L458.00 430.58 L459.00 429.73 L460.00 428.82 L461.00 427.85 L462.00 426.84 L463.00 425.78 L464.00 424.66 L465.00 423.44 L466.00 422.19 L467.00 420.98 L468.00 419.89 L469.00 418.91 L470.00 417.97 L471.00 416.98 L472.00 415.86 L473.00 414.61 L474.00 413.25 L475.00 411.83 L476.00 410.37 L477.00 408.90 L478.00 407.45 L479.00 406.06 L480.00 404.69 L481.00 403.31 L482.00 401.98 L483.00 400.78 L484.00 399.72 L485.00 398.71 L486.00 397.88 L487.00 397.35 L488.00 396.93 L489.00 396.62 L490.00 396.50 L491.00 396.50 L492.00 396.50 L493.00 396.50 L494.00 396.50 L495.00 396.51 L496.00 396.54 L497.00 396.58 L498.00 396.62 L499.00 396.65 L500.00 396.67 L501.00 396.62 L502.00 396.49 L503.00 396.31 L504.00 396.08 L505.00 395.71 L506.00 395.26 L507.00 394.80 L508.00 394.38 L509.00 393.98 L510.00 393.57 L511.00 393.16 L512.00 392.72 L513.00 392.27 L514.00 391.80 L515.00 391.30 L516.00 390.78 L517.00 390.22 L518.00 389.59 L519.00 388.94 L520.00 388.33 L521.00 387.79 L522.00 387.27 L523.00 386.79 L524.00 386.32 L525.00 385.88 L526.00 385.45 L527.00 385.05 L528.00 384.69 L529.00 384.37 L530.00 384.06 L531.00 383.79 L532.00 383.57 L533.00 383.44 L534.00 383.33 L535.00 383.24 L536.00 383.18 L537.00 383.17 L538.00 383.21 L539.00 383.30 L540.00 383.40 L541.00 383.52 L542.00 383.67 L543.00 383.86 L544.00 384.08 L545.00 384.33"/>
<path d="M282.00 385.17 L283.00 384.48 L284.01 383.86 L285.01 383.36 L286.01 383.00 L287.01 382.77 L288.02 382.58 L289.02 382.43 L290.02 382.34 L291.03 382.36 L292.03 382.51 L293.03 382.78 L294.03 383.11 L295.04 383.48 L296.04 384.06 L297.04 384.80 L298.05 385.61 L299.05 386.42 L300.05 387.33 L301.05 388.31 L302.06 389.25 L303.06 390.04 L304.06 390.77 L305.06 391.48 L306.07 392.03 L307.07 392.32 L308.07 392.40 L309.08 392.45 L310.08 392.48 L311.08 392.50 L312.08 392.46 L313.09 392.28 L314.09 392.04 L315.09 391.77 L316.10 391.51 L317.10 391.21 L318.10 390.89 L319.10 390.58 L320.11 390.30 L321.11 390.02 L322.11 389.74 L323.12 389.47 L324.12 389.21 L325.12 388.96 L326.12 388.72 L327.13 388.51 L328.13 388.31 L329.13 388.12 L330.14 387.94 L331.14 387.76 L332.14 387.59 L333.14 387.44 L334.15 387.30 L335.15 387.19 L336.15 387.10 L337.16 387.02 L338.16 386.96 L339.16 386.90 L340.16 386.86 L341.17 386.83M341.17 386.83 L342.16 386.92 L343.16 386.99 L344.16 387.03 L345.16 387.06 L346.16 387.08 L347.16 387.08 L348.15 387.08 L349.15 387.06 L350.15 387.00 L351.15 386.89 L352.15 386.75 L353.15 386.59 L354.14 386.42 L355.14 386.25 L356.14 386.08 L357.14 385.93 L358.14 385.78 L359.13 385.62 L360.13 385.46 L361.13 385.30 L362.13 385.13 L363.13 384.95 L364.13 384.76 L365.12 384.56 L366.12 384.35 L367.12 384.12 L368.12 383.88 L369.12 383.63 L370.12 383.37 L371.11 383.11 L372.11 382.84 L373.11 382.56 L374.11 382.29 L375.11 382.00 L376.10 381.70 L377.10 381.38 L378.10 381.04 L379.10 380.65 L380.10 380.24 L381.10 379.82 L382.09 379.40 L383.09 378.97 L384.09 378.53 L385.09 378.08 L386.09 377.62 L387.09 377.16 L388.08 376.71 L389.08 376.25 L390.08 375.80 L391.08 375.35 L392.08 374.89 L393.07 374.43 L394.07 373.97 L395.07 373.52 L396.07 373.07 L397.07 372.63 L398.07 372.20 L399.06 371.78 L400.06 371.36 L401.06 370.95 L402.06 370.54 L403.06 370.14 L404.05 369.75 L405.05 369.36 L406.05 368.98 L407.05 368.61 L408.05 368.23 L409.05 367.86 L410.04 367.49 L411.04 367.13 L412.04 366.78 L413.04 366.45 L414.04 366.13 L415.04 365.82 L416.03 365.52 L417.03 365.21 L418.03 364.91 L419.03 364.60 L420.03 364.31 L421.02 364.05 L422.02 363.81 L423.02 363.60 L424.02 363.44 L425.02 363.33 L426.02 363.25 L427.01 363.17 L428.01 363.10 L429.01 363.04 L430.01 362.98 L431.01 362.93 L432.01 362.89 L433.00 362.86 L434.00 362.84 L435.00 362.83M435.00 362.83 L436.00 362.84 L437.00 362.86 L438.00 362.90 L439.00 362.95 L440.00 363.00 L441.00 363.07 L442.00 363.13 L443.00 363.21 L444.00 363.31 L445.00 363.44 L446.00 363.60 L447.00 363.78 L448.00 363.97 L449.00 364.18 L450.00 364.40 L451.00 364.62 L452.00 364.87 L453.00 365.16 L454.00 365.48 L455.00 365.82 L456.00 366.17 L457.00 366.54 L458.00 366.91 L459.00 367.27 L460.00 367.64 L461.00 368.01 L462.00 368.40 L463.00 368.80 L464.00 369.20 L465.00 369.61 L466.00 370.03 L467.00 370.45 L468.00 370.88 L469.00 371.31 L470.00 371.75 L471.00 372.20 L472.00 372.67 L473.00 373.15 L474.00 373.66 L475.00 374.22 L476.00 374.83 L477.00 375.46 L478.00 376.06 L479.00 376.60 L480.00 377.11 L481.00 377.60 L482.00 378.09 L483.00 378.59 L484.00 379.10 L485.00 379.62 L486.00 380.11 L487.00 380.56 L488.00 381.00 L489.00 381.42 L490.00 381.81 L491.00 382.14 L492.00 382.47 L493.00 382.76 L494.00 382.91 L495.00 382.92 L496.00 382.92 L497.00 382.92 L498.00 382.87 L499.00 382.55 L500.00 382.08 L501.00 381.59 L502.00 381.06 L503.00 380.46 L504.00 379.82 L505.00 379.17 L506.00 378.49 L507.00 377.77 L508.00 377.05 L509.00 376.36 L510.00 375.72 L511.00 375.10 L512.00 374.50 L513.00 373.93 L514.00 373.39 L515.00 372.87 L516.00 372.37 L517.00 371.89 L518.00 371.44 L519.00 371.01 L520.00 370.59 L521.00 370.22 L522.00 369.90 L523.00 369.60 L524.00 369.32 L525.00 369.08 L526.00 368.87 L527.00 368.70 L528.00 368.55 L529.00 368.42 L530.00 368.31 L531.00 368.22 L532.00 368.14 L533.00 368.08 L534.00 368.03 L535.00 367.98 L536.00 367.94 L537.00 367.90 L538.00 367.87 L539.00 367.83 L540.00 367.80 L541.00 367.76 L542.00 367.74 L543.00 367.71 L544.00 367.69 L545.00 367.67"/>
<path d="M282.00 388.33 L283.00 388.54 L284.01 388.77 L285.01 389.04 L286.01 389.32 L287.01 389.64 L288.02 389.97 L289.02 390.33 L290.02 390.70 L291.03 391.08 L292.03 391.48 L293.03 391.92 L294.03 392.40 L295.04 392.93 L296.04 393.48 L297.04 394.05 L298.05 394.65 L299.05 395.25 L300.05 395.86 L301.05 396.49 L302.06 397.16 L303.06 397.84 L304.06 398.55 L305.06 399.27 L306.07 400.01 L307.07 400.74 L308.07 401.48 L309.08 402.22 L310.08 403.00 L311.08 403.80 L312.08 404.60 L313.09 405.40 L314.09 406.18 L315.09 406.93 L316.10 407.63 L317.10 408.27 L318.10 408.91 L319.10 409.53 L320.11 410.14 L321.11 410.72 L322.11 411.26 L323.12 411.75 L324.12 412.18 L325.12 412.54 L326.12 412.87 L327.13 413.18 L328.13 413.47 L329.13 413.73 L330.14 413.97 L331.14 414.18 L332.14 414.35 L333.14 414.48 L334.15 414.58 L335.15 414.68 L336.15 414.76 L337.16 414.84 L338.16 414.91 L339.16 414.96 L340.16 414.99 L341.17 415.00M341.17 415.00 L342.16 415.00 L343.16 415.00 L344.16 415.00 L345.16 415.00 L346.16 415.00 L347.16 414.98 L348.15 414.84 L349.15 414.61 L350.15 414.31 L351.15 413.99 L352.15 413.68 L353.15 413.35 L354.14 412.97 L355.14 412.55 L356.14 412.11 L357.14 411.64 L358.14 411.14 L359.13 410.63 L360.13 410.10 L361.13 409.57 L362.13 409.02 L363.13 408.48 L364.13 407.94 L365.12 407.38 L366.12 406.78 L367.12 406.16 L368.12 405.55 L369.12 404.94 L370.12 404.32 L371.11 403.71 L372.11 403.13 L373.11 402.59 L374.11 402.06 L375.11 401.56 L376.10 401.09 L377.10 400.64 L378.10 400.23 L379.10 399.83 L380.10 399.45 L381.10 399.06 L382.09 398.65 L383.09 398.26 L384.09 397.94 L385.09 397.67 L386.09 397.42 L387.09 397.27 L388.08 397.25 L389.08 397.27 L390.08 397.30 L391.08 397.36 L392.08 397.68 L393.07 398.19 L394.07 398.81 L395.07 399.66 L396.07 400.67 L397.07 401.98 L398.07 403.39 L399.06 404.69 L400.06 405.94 L401.06 407.17 L402.06 408.40 L403.06 409.63 L404.05 410.86 L405.05 412.04 L406.05 413.15 L407.05 414.22 L408.05 415.24 L409.05 416.21 L410.04 417.12 L411.04 417.99 L412.04 418.82 L413.04 419.60 L414.04 420.33 L415.04 421.01 L416.03 421.65 L417.03 422.25 L418.03 422.78 L419.03 423.22 L420.03 423.62 L421.02 423.98 L422.02 424.29 L423.02 424.55 L424.02 424.78 L425.02 424.98 L426.02 425.16 L427.01 425.30 L428.01 425.42 L429.01 425.52 L430.01 425.61 L431.01 425.68 L432.01 425.73 L433.00 425.78 L434.00 425.81 L435.00 425.83M435.00 427.50 L436.00 427.50 L437.00 427.50 L438.00 427.50 L439.00 427.49 L440.00 427.47 L441.00 427.42 L442.00 427.36 L443.00 427.30 L444.00 427.20 L445.00 427.08 L446.00 426.94 L447.00 426.78 L448.00 426.58 L449.00 426.34 L450.00 426.07 L451.00 425.78 L452.00 425.47 L453.00 425.13 L454.00 424.75 L455.00 424.33 L456.00 423.87 L457.00 423.35 L458.00 422.78 L459.00 422.18 L460.00 421.55 L461.00 420.87 L462.00 420.15 L463.00 419.42 L464.00 418.66 L465.00 417.88 L466.00 417.08 L467.00 416.25 L468.00 415.41 L469.00 414.56 L470.00 413.70 L471.00 412.82 L472.00 411.93 L473.00 411.03 L474.00 410.10 L475.00 409.17 L476.00 408.21 L477.00 407.22 L478.00 406.21 L479.00 405.17 L480.00 404.10 L481.00 402.99 L482.00 401.87 L483.00 400.77 L484.00 399.73 L485.00 398.72 L486.00 397.73 L487.00 396.75 L488.00 395.75 L489.00 394.75 L490.00 393.75 L491.00 392.75 L492.00 391.65 L493.00 390.67 L494.00 389.97 L495.00 389.41 L496.00 389.15 L497.00 389.05 L498.00 389.00 L499.00 389.04 L500.00 389.20 L501.00 389.43 L502.00 389.66 L503.00 389.92 L504.00 390.22 L505.00 390.55 L506.00 390.89 L507.00 391.30 L508.00 391.74 L509.00 392.17 L510.00 392.50 L511.00 392.76 L512.00 393.01 L513.00 393.22 L514.00 393.39 L515.00 393.50 L516.00 393.58 L517.00 393.65 L518.00 393.70 L519.00 393.74 L520.00 393.75 L521.00 393.72 L522.00 393.65 L523.00 393.55 L524.00 393.44 L525.00 393.33 L526.00 393.23 L527.00 393.11 L528.00 392.98 L529.00 392.84 L530.00 392.67 L531.00 392.45 L532.00 392.18 L533.00 391.88 L534.00 391.56 L535.00 391.25 L536.00 390.93 L537.00 390.58 L538.00 390.23 L539.00 389.89 L540.00 389.58 L541.00 389.30 L542.00 389.04 L543.00 388.79 L544.00 388.55 L545.00 388.33"/>
<path d="M282.00 390.83 L283.00 391.03 L284.01 391.24 L285.01 391.47 L286.01 391.71 L287.01 391.97 L288.02 392.24 L289.02 392.53 L290.02 392.83 L291.03 393.13 L292.03 393.45 L293.03 393.80 L294.03 394.18 L295.04 394.58 L296.04 395.00 L297.04 395.43 L298.05 395.86 L299.05 396.28 L300.05 396.69 L301.05 397.07 L302.06 397.43 L303.06 397.81 L304.06 398.22 L305.06 398.70 L306.07 399.28 L307.07 399.97 L308.07 400.73 L309.08 401.54 L310.08 402.38 L311.08 403.20 L312.08 404.00 L313.09 404.83 L314.09 405.69 L315.09 406.56 L316.10 407.41 L317.10 408.23 L318.10 409.00 L319.10 409.72 L320.11 410.43 L321.11 411.13 L322.11 411.79 L323.12 412.40 L324.12 412.93 L325.12 413.38 L326.12 413.79 L327.13 414.18 L328.13 414.55 L329.13 414.89 L330.14 415.20 L331.14 415.45 L332.14 415.66 L333.14 415.81 L334.15 415.92 L335.15 416.01 L336.15 416.10 L337.16 416.18 L338.16 416.24 L339.16 416.29 L340.16 416.32 L341.17 416.33M341.17 416.33 L342.16 416.33 L343.16 416.33 L344.16 416.33 L345.16 416.33 L346.16 416.33 L347.16 416.34 L348.15 416.37 L349.15 416.43 L350.15 416.51 L351.15 416.61 L352.15 416.74 L353.15 417.01 L354.14 417.40 L355.14 417.89 L356.14 418.43 L357.14 419.00 L358.14 419.56 L359.13 420.11 L360.13 420.72 L361.13 421.36 L362.13 422.04 L363.13 422.74 L364.13 423.46 L365.12 424.19 L366.12 424.93 L367.12 425.67 L368.12 426.43 L369.12 427.21 L370.12 428.02 L371.11 428.83 L372.11 429.65 L373.11 430.47 L374.11 431.28 L375.11 432.09 L376.10 432.89 L377.10 433.69 L378.10 434.50 L379.10 435.30 L380.10 436.10 L381.10 436.90 L382.09 437.69 L383.09 438.48 L384.09 439.26 L385.09 440.05 L386.09 440.84 L387.09 441.62 L388.08 442.40 L389.08 443.16 L390.08 443.89 L391.08 444.60 L392.08 445.27 L393.07 445.94 L394.07 446.59 L395.07 447.23 L396.07 447.84 L397.07 448.44 L398.07 449.00 L399.06 449.53 L400.06 450.03 L401.06 450.50 L402.06 450.94 L403.06 451.36 L404.05 451.77 L405.05 452.15 L406.05 452.53 L407.05 452.89 L408.05 453.24 L409.05 453.58 L410.04 453.92 L411.04 454.25 L412.04 454.58 L413.04 454.89 L414.04 455.18 L415.04 455.45 L416.03 455.69 L417.03 455.91 L418.03 456.11 L419.03 456.29 L420.03 456.47 L421.02 456.63 L422.02 456.78 L423.02 456.92 L424.02 457.05 L425.02 457.17 L426.02 457.28 L427.01 457.38 L428.01 457.48 L429.01 457.58 L430.01 457.67 L431.01 457.75 L432.01 457.83 L433.00 457.90 L434.00 457.95 L435.00 458.00M435.00 458.00 L436.00 458.16 L437.00 458.28 L438.00 458.33 L439.00 458.32 L440.00 458.24 L441.00 458.12 L442.00 457.98 L443.00 457.85 L444.00 457.70 L445.00 457.54 L446.00 457.36 L447.00 457.19 L448.00 457.03 L449.00 456.86 L450.00 456.68 L451.00 456.46 L452.00 456.20 L453.00 455.90 L454.00 455.57 L455.00 455.25 L456.00 454.93 L457.00 454.60 L458.00 454.26 L459.00 453.90 L460.00 453.51 L461.00 453.11 L462.00 452.68 L463.00 452.23 L464.00 451.77 L465.00 451.29 L466.00 450.79 L467.00 450.27 L468.00 449.72 L469.00 449.14 L470.00 448.54 L471.00 447.92 L472.00 447.29 L473.00 446.65 L474.00 446.00 L475.00 445.32 L476.00 444.63 L477.00 443.92 L478.00 443.19 L479.00 442.44 L480.00 441.67 L481.00 440.87 L482.00 440.04 L483.00 439.19 L484.00 438.32 L485.00 437.36 L486.00 436.30 L487.00 435.27 L488.00 434.40 L489.00 433.80 L490.00 433.36 L491.00 432.80 L492.00 431.97 L493.00 430.95 L494.00 429.84 L495.00 428.75 L496.00 427.68 L497.00 426.58 L498.00 425.46 L499.00 424.35 L500.00 423.25 L501.00 422.15 L502.00 421.05 L503.00 419.95 L504.00 418.85 L505.00 417.73 L506.00 416.62 L507.00 415.53 L508.00 414.48 L509.00 413.45 L510.00 412.45 L511.00 411.47 L512.00 410.52 L513.00 409.60 L514.00 408.71 L515.00 407.83 L516.00 406.93 L517.00 406.02 L518.00 405.10 L519.00 404.20 L520.00 403.33 L521.00 402.50 L522.00 401.68 L523.00 400.89 L524.00 400.12 L525.00 399.38 L526.00 398.67 L527.00 397.97 L528.00 397.30 L529.00 396.65 L530.00 396.01 L531.00 395.39 L532.00 394.83 L533.00 394.35 L534.00 393.91 L535.00 393.52 L536.00 393.15 L537.00 392.80 L538.00 392.48 L539.00 392.18 L540.00 391.89 L541.00 391.62 L542.00 391.36 L543.00 391.12 L544.00 390.88 L545.00 390.67"/>
<path d="M282.00 420.83 L283.00 420.42 L284.01 420.01 L285.01 419.62 L286.01 419.25 L287.01 418.90 L288.02 418.56 L289.02 418.24 L290.02 417.94 L291.03 417.67 L292.03 417.41 L293.03 417.15 L294.03 416.90 L295.04 416.66 L296.04 416.43 L297.04 416.23 L298.05 416.05 L299.05 415.92 L300.05 415.83 L301.05 415.77 L302.06 415.70 L303.06 415.65 L304.06 415.60 L305.06 415.56 L306.07 415.53 L307.07 415.51 L308.07 415.50 L309.08 415.51 L310.08 415.55 L311.08 415.63 L312.08 415.72 L313.09 415.84 L314.09 415.97 L315.09 416.11 L316.10 416.25 L317.10 416.40 L318.10 416.59 L319.10 416.81 L320.11 417.06 L321.11 417.33 L322.11 417.60 L323.12 417.87 L324.12 418.13 L325.12 418.36 L326.12 418.58 L327.13 418.81 L328.13 419.03 L329.13 419.24 L330.14 419.45 L331.14 419.64 L332.14 419.82 L333.14 419.97 L334.15 420.11 L335.15 420.24 L336.15 420.37 L337.16 420.48 L338.16 420.59 L339.16 420.68 L340.16 420.76 L341.17 420.83M341.17 420.83 L342.16 420.88 L343.16 420.94 L344.16 421.02 L345.16 421.11 L346.16 421.21 L347.16 421.32 L348.15 421.44 L349.15 421.56 L350.15 421.69 L351.15 421.83 L352.15 422.00 L353.15 422.18 L354.14 422.38 L355.14 422.59 L356.14 422.82 L357.14 423.05 L358.14 423.29 L359.13 423.53 L360.13 423.81 L361.13 424.10 L362.13 424.40 L363.13 424.72 L364.13 425.04 L365.12 425.36 L366.12 425.67 L367.12 425.97 L368.12 426.28 L369.12 426.60 L370.12 426.92 L371.11 427.23 L372.11 427.54 L373.11 427.83 L374.11 428.11 L375.11 428.36 L376.10 428.61 L377.10 428.88 L378.10 429.15 L379.10 429.40 L380.10 429.63 L381.10 429.81 L382.09 429.94 L383.09 430.00 L384.09 429.99 L385.09 429.95 L386.09 429.90 L387.09 429.84 L388.08 429.78 L389.08 429.74 L390.08 429.72 L391.08 429.79 L392.08 429.96 L393.07 430.20 L394.07 430.46 L395.07 430.72 L396.07 430.94 L397.07 431.14 L398.07 431.34 L399.06 431.57 L400.06 431.85 L401.06 432.20 L402.06 432.80 L403.06 433.67 L404.05 434.59 L405.05 435.57 L406.05 436.60 L407.05 437.61 L408.05 438.60 L409.05 439.60 L410.04 440.60 L411.04 441.60 L412.04 442.60 L413.04 443.64 L414.04 444.70 L415.04 445.58 L416.03 446.28 L417.03 446.86 L418.03 447.33 L419.03 447.74 L420.03 448.08 L421.02 448.32 L422.02 448.47 L423.02 448.61 L424.02 448.71 L425.02 448.77 L426.02 448.77 L427.01 448.70 L428.01 448.58 L429.01 448.45 L430.01 448.33 L431.01 448.23 L432.01 448.12 L433.00 448.01 L434.00 447.89 L435.00 447.78M435.00 447.78 L436.00 447.72 L437.00 447.68 L438.00 447.67 L439.00 447.68 L440.00 447.75 L441.00 447.84 L442.00 447.91 L443.00 447.92 L444.00 447.92 L445.00 447.92 L446.00 447.92 L447.00 447.91 L448.00 447.86 L449.00 447.75 L450.00 447.62 L451.00 447.48 L452.00 447.30 L453.00 447.07 L454.00 446.80 L455.00 446.50 L456.00 446.14 L457.00 445.70 L458.00 445.20 L459.00 444.67 L460.00 444.10 L461.00 443.47 L462.00 442.79 L463.00 442.07 L464.00 441.33 L465.00 440.53 L466.00 439.71 L467.00 438.89 L468.00 438.12 L469.00 437.40 L470.00 436.68 L471.00 435.94 L472.00 435.14 L473.00 434.26 L474.00 433.34 L475.00 432.41 L476.00 431.52 L477.00 430.67 L478.00 429.84 L479.00 429.01 L480.00 428.17 L481.00 427.32 L482.00 426.47 L483.00 425.61 L484.00 424.73 L485.00 423.82 L486.00 422.87 L487.00 421.91 L488.00 420.97 L489.00 420.07 L490.00 419.21 L491.00 418.35 L492.00 417.51 L493.00 416.65 L494.00 415.74 L495.00 414.80 L496.00 413.87 L497.00 413.00 L498.00 412.23 L499.00 411.59 L500.00 411.07 L501.00 410.60 L502.00 410.20 L503.00 409.90 L504.00 409.71 L505.00 409.55 L506.00 409.42 L507.00 409.34 L508.00 409.34 L509.00 409.41 L510.00 409.52 L511.00 409.66 L512.00 409.80 L513.00 409.96 L514.00 410.15 L515.00 410.38 L516.00 410.63 L517.00 410.94 L518.00 411.31 L519.00 411.70 L520.00 412.08 L521.00 412.45 L522.00 412.81 L523.00 413.17 L524.00 413.52 L525.00 413.87 L526.00 414.21 L527.00 414.54 L528.00 414.88 L529.00 415.24 L530.00 415.60 L531.00 415.96 L532.00 416.32 L533.00 416.68 L534.00 417.05 L535.00 417.41 L536.00 417.73 L537.00 418.00 L538.00 418.23 L539.00 418.43 L540.00 418.61 L541.00 418.78 L542.00 418.94 L543.00 419.08 L544.00 419.22 L545.00 419.33"/>
<path d="M282.00 418.33 L283.00 418.47 L284.01 418.61 L285.01 418.75 L286.01 418.88 L287.01 419.02 L288.02 419.16 L289.02 419.30 L290.02 419.44 L291.03 419.58 L292.03 419.72 L293.03 419.86 L294.03 420.01 L295.04 420.16 L296.04 420.30 L297.04 420.45 L298.05 420.59 L299.05 420.72 L300.05 420.84 L301.05 420.95 L302.06 421.06 L303.06 421.17 L304.06 421.27 L305.06 421.36 L306.07 421.46 L307.07 421.55 L308.07 421.64 L309.08 421.73 L310.08 421.82 L311.08 421.92 L312.08 422.01 L313.09 422.10 L314.09 422.19 L315.09 422.27 L316.10 422.36 L317.10 422.44 L318.10 422.53 L319.10 422.61 L320.11 422.68 L321.11 422.75 L322.11 422.82 L323.12 422.89 L324.12 422.95 L325.12 423.01 L326.12 423.06 L327.13 423.11 L328.13 423.17 L329.13 423.22 L330.14 423.26 L331.14 423.31 L332.14 423.36 L333.14 423.40 L334.15 423.44 L335.15 423.48 L336.15 423.52 L337.16 423.55 L338.16 423.59 L339.16 423.62 L340.16 423.64 L341.17 423.67M341.17 423.67 L342.16 423.72 L343.16 423.80 L344.16 423.89 L345.16 424.00 L346.16 424.12 L347.16 424.25 L348.15 424.39 L349.15 424.54 L350.15 424.69 L351.15 424.87 L352.15 425.08 L353.15 425.32 L354.14 425.57 L355.14 425.84 L356.14 426.10 L357.14 426.37 L358.14 426.62 L359.13 426.86 L360.13 427.12 L361.13 427.39 L362.13 427.65 L363.13 427.91 L364.13 428.16 L365.12 428.38 L366.12 428.57 L367.12 428.74 L368.12 428.89 L369.12 429.02 L370.12 429.15 L371.11 429.27 L372.11 429.38 L373.11 429.48 L374.11 429.58 L375.11 429.68 L376.10 429.77 L377.10 429.85 L378.10 429.92 L379.10 430.00 L380.10 430.07 L381.10 430.14 L382.09 430.22 L383.09 430.31 L384.09 430.41 L385.09 430.50 L386.09 430.60 L387.09 430.71 L388.08 430.83 L389.08 430.97 L390.08 431.12 L391.08 431.34 L392.08 431.61 L393.07 431.92 L394.07 432.26 L395.07 432.61 L396.07 432.96 L397.07 433.34 L398.07 433.74 L399.06 434.15 L400.06 434.57 L401.06 434.98 L402.06 435.39 L403.06 435.80 L404.05 436.22 L405.05 436.62 L406.05 437.00 L407.05 437.35 L408.05 437.68 L409.05 437.99 L410.04 438.28 L411.04 438.56 L412.04 438.84 L413.04 439.11 L414.04 439.37 L415.04 439.63 L416.03 439.87 L417.03 440.11 L418.03 440.33 L419.03 440.55 L420.03 440.76 L421.02 440.96 L422.02 441.15 L423.02 441.33 L424.02 441.51 L425.02 441.67 L426.02 441.83 L427.01 441.98 L428.01 442.11 L429.01 442.24 L430.01 442.35 L431.01 442.46 L432.01 442.55 L433.00 442.64 L434.00 442.72 L435.00 442.78M435.00 442.78 L436.00 442.60 L437.00 442.39 L438.00 442.16 L439.00 441.92 L440.00 441.65 L441.00 441.35 L442.00 441.02 L443.00 440.63 L444.00 440.17 L445.00 439.64 L446.00 439.10 L447.00 438.58 L448.00 438.05 L449.00 437.51 L450.00 436.96 L451.00 436.41 L452.00 435.85 L453.00 435.27 L454.00 434.71 L455.00 434.17 L456.00 433.63 L457.00 433.10 L458.00 432.63 L459.00 432.25 L460.00 431.90 L461.00 431.62 L462.00 431.45 L463.00 431.34 L464.00 431.24 L465.00 431.16 L466.00 431.09 L467.00 431.03 L468.00 430.97 L469.00 430.93 L470.00 430.88 L471.00 430.85 L472.00 430.81 L473.00 430.78 L474.00 430.74 L475.00 430.70 L476.00 430.66 L477.00 430.61 L478.00 430.56 L479.00 430.51 L480.00 430.45 L481.00 430.39 L482.00 430.33 L483.00 430.26 L484.00 430.18 L485.00 430.10 L486.00 430.00 L487.00 429.89 L488.00 429.77 L489.00 429.65 L490.00 429.52 L491.00 429.38 L492.00 429.24 L493.00 429.09 L494.00 428.94 L495.00 428.77 L496.00 428.59 L497.00 428.41 L498.00 428.22 L499.00 428.03 L500.00 427.83 L501.00 427.63 L502.00 427.44 L503.00 427.25 L504.00 427.07 L505.00 426.87 L506.00 426.67 L507.00 426.45 L508.00 426.21 L509.00 425.95 L510.00 425.67 L511.00 425.26 L512.00 424.89 L513.00 424.60 L514.00 424.33 L515.00 424.08 L516.00 423.84 L517.00 423.62 L518.00 423.39 L519.00 423.16 L520.00 422.92 L521.00 422.66 L522.00 422.41 L523.00 422.16 L524.00 421.90 L525.00 421.65 L526.00 421.40 L527.00 421.15 L528.00 420.91 L529.00 420.67 L530.00 420.42 L531.00 420.16 L532.00 419.90 L533.00 419.65 L534.00 419.42 L535.00 419.23 L536.00 419.08 L537.00 418.97 L538.00 418.88 L539.00 418.79 L540.00 418.71 L541.00 418.64 L542.00 418.58 L543.00 418.54 L544.00 418.51 L545.00 418.50"/>
<path d="M282.00 462.83 L283.00 463.03 L284.01 463.22 L285.01 463.41 L286.01 463.61 L287.01 463.80 L288.02 463.99 L289.02 464.17 L290.02 464.36 L291.03 464.55 L292.03 464.73 L293.03 464.92 L294.03 465.10 L295.04 465.29 L296.04 465.47 L297.04 465.65 L298.05 465.83 L299.05 466.00 L300.05 466.18 L301.05 466.35 L302.06 466.54 L303.06 466.74 L304.06 466.92 L305.06 467.10 L306.07 467.26 L307.07 467.39 L308.07 467.48 L309.08 467.55 L310.08 467.60 L311.08 467.65 L312.08 467.69 L313.09 467.73 L314.09 467.76 L315.09 467.79 L316.10 467.82 L317.10 467.84 L318.10 467.87 L319.10 467.89 L320.11 467.91 L321.11 467.93 L322.11 467.95 L323.12 467.96 L324.12 467.98 L325.12 468.00 L326.12 468.02 L327.13 468.04 L328.13 468.06 L329.13 468.08 L330.14 468.10 L331.14 468.13 L332.14 468.15 L333.14 468.17 L334.15 468.19 L335.15 468.21 L336.15 468.23 L337.16 468.25 L338.16 468.27 L339.16 468.29 L340.16 468.31 L341.17 468.33M341.17 468.33 L342.16 468.34 L343.16 468.36 L344.16 468.38 L345.16 468.42 L346.16 468.46 L347.16 468.50 L348.15 468.56 L349.15 468.62 L350.15 468.68 L351.15 468.76 L352.15 468.87 L353.15 469.01 L354.14 469.18 L355.14 469.36 L356.14 469.55 L357.14 469.75 L358.14 469.96 L359.13 470.18 L360.13 470.42 L361.13 470.69 L362.13 470.98 L363.13 471.29 L364.13 471.61 L365.12 471.95 L366.12 472.30 L367.12 472.67 L368.12 473.06 L369.12 473.47 L370.12 473.91 L371.11 474.37 L372.11 474.85 L373.11 475.35 L374.11 475.86 L375.11 476.39 L376.10 476.94 L377.10 477.51 L378.10 478.11 L379.10 478.74 L380.10 479.38 L381.10 480.06 L382.09 480.76 L383.09 481.49 L384.09 482.24 L385.09 483.04 L386.09 483.88 L387.09 484.75 L388.08 485.66 L389.08 486.60 L390.08 487.57 L391.08 488.57 L392.08 489.59 L393.07 490.67 L394.07 491.80 L395.07 492.97 L396.07 494.18 L397.07 495.42 L398.07 496.68 L399.06 497.96 L400.06 499.25 L401.06 500.56 L402.06 501.90 L403.06 503.28 L404.05 504.68 L405.05 506.10 L406.05 507.53 L407.05 508.97 L408.05 510.42 L409.05 511.87 L410.04 513.34 L411.04 514.83 L412.04 516.34 L413.04 517.85 L414.04 519.36 L415.04 520.87 L416.03 522.38 L417.03 523.88 L418.03 525.38 L419.03 526.89 L420.03 528.39 L421.02 529.90 L422.02 531.40 L423.02 532.89 L424.02 534.38 L425.02 535.86 L426.02 537.33 L427.01 538.80 L428.01 540.26 L429.01 541.71 L430.01 543.16 L431.01 544.61 L432.01 546.05 L433.00 547.48 L434.00 548.91 L435.00 550.33M435.00 550.33 L436.00 548.82 L437.00 547.29 L438.00 545.74 L439.00 544.19 L440.00 542.63 L441.00 541.06 L442.00 539.47 L443.00 537.85 L444.00 536.21 L445.00 534.56 L446.00 532.91 L447.00 531.29 L448.00 529.69 L449.00 528.13 L450.00 526.59 L451.00 525.07 L452.00 523.56 L453.00 522.08 L454.00 520.61 L455.00 519.17 L456.00 517.74 L457.00 516.33 L458.00 514.94 L459.00 513.57 L460.00 512.21 L461.00 510.88 L462.00 509.56 L463.00 508.27 L464.00 506.99 L465.00 505.73 L466.00 504.49 L467.00 503.26 L468.00 502.06 L469.00 500.88 L470.00 499.72 L471.00 498.57 L472.00 497.44 L473.00 496.33 L474.00 495.24 L475.00 494.17 L476.00 493.12 L477.00 492.08 L478.00 491.06 L479.00 490.07 L480.00 489.09 L481.00 488.13 L482.00 487.19 L483.00 486.27 L484.00 485.37 L485.00 484.48 L486.00 483.61 L487.00 482.76 L488.00 481.94 L489.00 481.13 L490.00 480.33 L491.00 479.54 L492.00 478.77 L493.00 478.03 L494.00 477.33 L495.00 476.67 L496.00 476.04 L497.00 475.45 L498.00 474.88 L499.00 474.33 L500.00 473.81 L501.00 473.31 L502.00 472.85 L503.00 472.40 L504.00 471.97 L505.00 471.57 L506.00 471.18 L507.00 470.80 L508.00 470.45 L509.00 470.11 L510.00 469.77 L511.00 469.44 L512.00 469.13 L513.00 468.84 L514.00 468.57 L515.00 468.33 L516.00 468.13 L517.00 467.94 L518.00 467.77 L519.00 467.61 L520.00 467.45 L521.00 467.31 L522.00 467.16 L523.00 467.00 L524.00 466.84 L525.00 466.67 L526.00 466.48 L527.00 466.28 L528.00 466.08 L529.00 465.88 L530.00 465.67 L531.00 465.46 L532.00 465.25 L533.00 465.05 L534.00 464.85 L535.00 464.67 L536.00 464.49 L537.00 464.31 L538.00 464.13 L539.00 463.96 L540.00 463.79 L541.00 463.63 L542.00 463.47 L543.00 463.31 L544.00 463.15 L545.00 463.00"/>
<path d="M282.00 473.33 L283.00 473.15 L284.01 472.96 L285.01 472.77 L286.01 472.57 L287.01 472.36 L288.02 472.15 L289.02 471.93 L290.02 471.71 L291.03 471.48 L292.03 471.25 L293.03 470.99 L294.03 470.72 L295.04 470.44 L296.04 470.16 L297.04 469.88 L298.05 469.61 L299.05 469.37 L300.05 469.16 L301.05 468.96 L302.06 468.77 L303.06 468.59 L304.06 468.42 L305.06 468.26 L306.07 468.11 L307.07 467.98 L308.07 467.86 L309.08 467.75 L310.08 467.65 L311.08 467.55 L312.08 467.46 L313.09 467.37 L314.09 467.30 L315.09 467.24 L316.10 467.19 L317.10 467.15 L318.10 467.13 L319.10 467.10 L320.11 467.08 L321.11 467.07 L322.11 467.05 L323.12 467.03 L324.12 467.02 L325.12 467.00 L326.12 466.98 L327.13 466.96 L328.13 466.94 L329.13 466.92 L330.14 466.90 L331.14 466.87 L332.14 466.85 L333.14 466.83 L334.15 466.81 L335.15 466.79 L336.15 466.77 L337.16 466.75 L338.16 466.73 L339.16 466.71 L340.16 466.69 L341.17 466.67M341.17 466.67 L342.16 466.67 L343.16 466.69 L344.16 466.72 L345.16 466.75 L346.16 466.79 L347.16 466.84 L348.15 466.90 L349.15 466.95 L350.15 467.01 L351.15 467.08 L352.15 467.17 L353.15 467.28 L354.14 467.40 L355.14 467.53 L356.14 467.67 L357.14 467.82 L358.14 467.97 L359.13 468.13 L360.13 468.30 L361.13 468.49 L362.13 468.69 L363.13 468.89 L364.13 469.11 L365.12 469.33 L366.12 469.55 L367.12 469.77 L368.12 469.99 L369.12 470.21 L370.12 470.45 L371.11 470.68 L372.11 470.93 L373.11 471.18 L374.11 471.43 L375.11 471.70 L376.10 471.96 L377.10 472.24 L378.10 472.53 L379.10 472.82 L380.10 473.12 L381.10 473.43 L382.09 473.75 L383.09 474.08 L384.09 474.43 L385.09 474.78 L386.09 475.14 L387.09 475.52 L388.08 475.91 L389.08 476.32 L390.08 476.76 L391.08 477.22 L392.08 477.70 L393.07 478.23 L394.07 478.79 L395.07 479.40 L396.07 480.04 L397.07 480.73 L398.07 481.46 L399.06 482.25 L400.06 483.12 L401.06 484.07 L402.06 485.08 L403.06 486.14 L404.05 487.25 L405.05 488.40 L406.05 489.59 L407.05 490.85 L408.05 492.17 L409.05 493.56 L410.04 495.01 L411.04 496.52 L412.04 498.10 L413.04 499.79 L414.04 501.57 L415.04 503.44 L416.03 505.37 L417.03 507.36 L418.03 509.38 L419.03 511.44 L420.03 513.58 L421.02 515.78 L422.02 518.04 L423.02 520.34 L424.02 522.68 L425.02 525.04 L426.02 527.45 L427.01 529.93 L428.01 532.45 L429.01 534.99 L430.01 537.52 L431.01 540.06 L432.01 542.61 L433.00 545.17 L434.00 547.74 L435.00 550.33M435.00 550.33 L436.00 547.81 L437.00 545.26 L438.00 542.69 L439.00 540.11 L440.00 537.50 L441.00 534.85 L442.00 532.16 L443.00 529.46 L444.00 526.79 L445.00 524.17 L446.00 521.59 L447.00 519.02 L448.00 516.50 L449.00 514.04 L450.00 511.67 L451.00 509.37 L452.00 507.14 L453.00 504.96 L454.00 502.86 L455.00 500.83 L456.00 498.86 L457.00 496.92 L458.00 495.05 L459.00 493.29 L460.00 491.67 L461.00 490.15 L462.00 488.70 L463.00 487.34 L464.00 486.10 L465.00 485.00 L466.00 484.02 L467.00 483.12 L468.00 482.29 L469.00 481.53 L470.00 480.83 L471.00 480.18 L472.00 479.58 L473.00 479.01 L474.00 478.49 L475.00 478.00 L476.00 477.54 L477.00 477.09 L478.00 476.67 L479.00 476.26 L480.00 475.89 L481.00 475.55 L482.00 475.23 L483.00 474.94 L484.00 474.67 L485.00 474.42 L486.00 474.18 L487.00 473.95 L488.00 473.74 L489.00 473.53 L490.00 473.34 L491.00 473.16 L492.00 472.99 L493.00 472.82 L494.00 472.66 L495.00 472.50 L496.00 472.35 L497.00 472.20 L498.00 472.05 L499.00 471.91 L500.00 471.77 L501.00 471.64 L502.00 471.51 L503.00 471.38 L504.00 471.25 L505.00 471.11 L506.00 470.97 L507.00 470.83 L508.00 470.70 L509.00 470.57 L510.00 470.47 L511.00 470.38 L512.00 470.31 L513.00 470.25 L514.00 470.20 L515.00 470.14 L516.00 470.10 L517.00 470.06 L518.00 470.03 L519.00 470.01 L520.00 470.00 L521.00 470.01 L522.00 470.03 L523.00 470.06 L524.00 470.10 L525.00 470.15 L526.00 470.20 L527.00 470.26 L528.00 470.31 L529.00 470.38 L530.00 470.45 L531.00 470.55 L532.00 470.65 L533.00 470.76 L534.00 470.88 L535.00 470.99 L536.00 471.10 L537.00 471.20 L538.00 471.30 L539.00 471.40 L540.00 471.50 L541.00 471.60 L542.00 471.70 L543.00 471.80 L544.00 471.90 L545.00 472.00"/>
<path d="M282.00 481.33 L283.00 481.25 L284.01 481.17 L285.01 481.09 L286.01 481.01 L287.01 480.92 L288.02 480.84 L289.02 480.75 L290.02 480.65 L291.03 480.56 L292.03 480.47 L293.03 480.37 L294.03 480.26 L295.04 480.15 L296.04 480.04 L297.04 479.93 L298.05 479.82 L299.05 479.70 L300.05 479.58 L301.05 479.47 L302.06 479.35 L303.06 479.24 L304.06 479.12 L305.06 479.01 L306.07 478.90 L307.07 478.79 L308.07 478.69 L309.08 478.59 L310.08 478.49 L311.08 478.39 L312.08 478.28 L313.09 478.17 L314.09 478.07 L315.09 477.96 L316.10 477.86 L317.10 477.76 L318.10 477.67 L319.10 477.58 L320.11 477.49 L321.11 477.41 L322.11 477.34 L323.12 477.27 L324.12 477.21 L325.12 477.16 L326.12 477.12 L327.13 477.07 L328.13 477.03 L329.13 476.98 L330.14 476.94 L331.14 476.90 L332.14 476.86 L333.14 476.83 L334.15 476.79 L335.15 476.76 L336.15 476.74 L337.16 476.71 L338.16 476.69 L339.16 476.68 L340.16 476.67 L341.17 476.67M341.17 476.67 L342.16 476.68 L343.16 476.70 L344.16 476.74 L345.16 476.80 L346.16 476.86 L347.16 476.93 L348.15 477.01 L349.15 477.09 L350.15 477.18 L351.15 477.29 L352.15 477.43 L353.15 477.59 L354.14 477.78 L355.14 477.98 L356.14 478.19 L357.14 478.41 L358.14 478.62 L359.13 478.84 L360.13 479.07 L361.13 479.30 L362.13 479.55 L363.13 479.81 L364.13 480.08 L365.12 480.36 L366.12 480.66 L367.12 480.98 L368.12 481.32 L369.12 481.68 L370.12 482.06 L371.11 482.46 L372.11 482.88 L373.11 483.32 L374.11 483.76 L375.11 484.22 L376.10 484.68 L377.10 485.17 L378.10 485.68 L379.10 486.20 L380.10 486.75 L381.10 487.31 L382.09 487.90 L383.09 488.52 L384.09 489.16 L385.09 489.84 L386.09 490.56 L387.09 491.31 L388.08 492.09 L389.08 492.89 L390.08 493.70 L391.08 494.52 L392.08 495.34 L393.07 496.17 L394.07 497.02 L395.07 497.89 L396.07 498.77 L397.07 499.68 L398.07 500.61 L399.06 501.57 L400.06 502.56 L401.06 503.59 L402.06 504.65 L403.06 505.74 L404.05 506.86 L405.05 508.01 L406.05 509.20 L407.05 510.41 L408.05 511.64 L409.05 512.91 L410.04 514.22 L411.04 515.58 L412.04 516.97 L413.04 518.39 L414.04 519.83 L415.04 521.29 L416.03 522.74 L417.03 524.20 L418.03 525.69 L419.03 527.21 L420.03 528.75 L421.02 530.30 L422.02 531.84 L423.02 533.37 L424.02 534.88 L425.02 536.36 L426.02 537.81 L427.01 539.25 L428.01 540.68 L429.01 542.10 L430.01 543.50 L431.01 544.89 L432.01 546.27 L433.00 547.64 L434.00 548.99 L435.00 550.33M435.00 550.33 L436.00 548.99 L437.00 547.62 L438.00 546.22 L439.00 544.79 L440.00 543.33 L441.00 541.84 L442.00 540.32 L443.00 538.74 L444.00 537.11 L445.00 535.45 L446.00 533.78 L447.00 532.13 L448.00 530.52 L449.00 528.96 L450.00 527.41 L451.00 525.87 L452.00 524.36 L453.00 522.87 L454.00 521.41 L455.00 520.00 L456.00 518.62 L457.00 517.28 L458.00 515.96 L459.00 514.66 L460.00 513.40 L461.00 512.15 L462.00 510.93 L463.00 509.72 L464.00 508.54 L465.00 507.37 L466.00 506.23 L467.00 505.12 L468.00 504.02 L469.00 502.96 L470.00 501.90 L471.00 500.86 L472.00 499.85 L473.00 498.86 L474.00 497.91 L475.00 497.00 L476.00 496.12 L477.00 495.27 L478.00 494.45 L479.00 493.65 L480.00 492.88 L481.00 492.14 L482.00 491.43 L483.00 490.75 L484.00 490.10 L485.00 489.46 L486.00 488.85 L487.00 488.26 L488.00 487.69 L489.00 487.13 L490.00 486.58 L491.00 486.05 L492.00 485.53 L493.00 485.04 L494.00 484.58 L495.00 484.17 L496.00 483.78 L497.00 483.41 L498.00 483.06 L499.00 482.73 L500.00 482.43 L501.00 482.16 L502.00 481.93 L503.00 481.72 L504.00 481.52 L505.00 481.35 L506.00 481.19 L507.00 481.03 L508.00 480.88 L509.00 480.73 L510.00 480.58 L511.00 480.43 L512.00 480.28 L513.00 480.16 L514.00 480.06 L515.00 480.00 L516.00 479.96 L517.00 479.92 L518.00 479.89 L519.00 479.87 L520.00 479.85 L521.00 479.84 L522.00 479.83 L523.00 479.84 L524.00 479.86 L525.00 479.89 L526.00 479.92 L527.00 479.95 L528.00 479.99 L529.00 480.03 L530.00 480.09 L531.00 480.16 L532.00 480.24 L533.00 480.33 L534.00 480.43 L535.00 480.52 L536.00 480.61 L537.00 480.69 L538.00 480.77 L539.00 480.85 L540.00 480.93 L541.00 481.01 L542.00 481.09 L543.00 481.17 L544.00 481.25 L545.00 481.33"/>
</g>
<line x1="282" y1="550.45" x2="545" y2="550.45" stroke="#0000ff" stroke-width="1.3" stroke-dasharray="1.3 1.45"/>
<g clip-path="url(#c2)" fill="none" stroke="#ff0000" stroke-width="2.3" stroke-linejoin="round" stroke-linecap="butt">
<path d="M561.50 180.75 L562.50 180.58 L563.50 180.42 L564.50 180.27 L565.50 180.12 L566.50 179.98 L567.50 179.85 L568.50 179.72 L569.50 179.61 L570.50 179.50 L571.50 179.40 L572.50 179.31 L573.50 179.22 L574.50 179.13 L575.50 179.05 L576.50 178.98 L577.50 178.91 L578.50 178.85 L579.50 178.80 L580.50 178.74 L581.50 178.69 L582.50 178.64 L583.50 178.59 L584.50 178.55 L585.50 178.52 L586.50 178.50 L587.50 178.50 L588.50 178.50 L589.50 178.50 L590.50 178.50 L591.50 178.50 L592.50 178.50 L593.50 178.50 L594.50 178.50 L595.50 178.50 L596.50 178.51 L597.50 178.53 L598.50 178.57 L599.50 178.61 L600.50 178.66 L601.50 178.71 L602.50 178.77 L603.50 178.82 L604.50 178.87 L605.50 178.92 L606.50 178.97 L607.50 179.02 L608.50 179.08 L609.50 179.14 L610.50 179.20 L611.50 179.27 L612.50 179.33M612.50 179.33 L613.50 179.41 L614.49 179.49 L615.49 179.58 L616.48 179.67 L617.48 179.77 L618.47 179.87 L619.47 179.97 L620.47 180.08 L621.46 180.19 L622.46 180.32 L623.45 180.45 L624.45 180.59 L625.44 180.73 L626.44 180.87 L627.44 181.00 L628.43 181.12 L629.43 181.23 L630.42 181.33 L631.42 181.42 L632.41 181.52 L633.41 181.63 L634.41 181.77 L635.40 181.91 L636.40 182.07 L637.39 182.23 L638.39 182.40 L639.39 182.55 L640.38 182.70 L641.38 182.84 L642.37 182.98 L643.37 183.13 L644.36 183.28 L645.36 183.40 L646.36 183.48 L647.35 183.50 L648.35 183.49 L649.34 183.46 L650.34 183.43 L651.33 183.38 L652.33 183.33 L653.33 183.28 L654.32 183.22 L655.32 183.15 L656.31 183.06 L657.31 182.96 L658.30 182.85 L659.30 182.73 L660.30 182.62 L661.29 182.51 L662.29 182.40 L663.28 182.30 L664.28 182.19 L665.27 182.08 L666.27 181.97 L667.27 181.87 L668.26 181.77 L669.26 181.68 L670.25 181.60 L671.25 181.53 L672.24 181.47 L673.24 181.42 L674.24 181.37 L675.23 181.32 L676.23 181.27 L677.22 181.23 L678.22 181.19 L679.22 181.15 L680.21 181.12 L681.21 181.08 L682.20 181.04 L683.20 181.01 L684.19 180.98 L685.19 180.96 L686.19 180.93 L687.18 180.92 L688.18 180.90 L689.17 180.89 L690.17 180.87 L691.16 180.86 L692.16 180.85 L693.16 180.84 L694.15 180.84 L695.15 180.83 L696.14 180.83 L697.14 180.84 L698.13 180.84 L699.13 180.86 L700.13 180.87 L701.12 180.89 L702.12 180.91 L703.11 180.93 L704.11 180.95 L705.10 180.98 L706.10 181.01 L707.10 181.05 L708.09 181.08 L709.09 181.12 L710.08 181.17"/>
<path d="M561.50 181.83 L562.50 181.90 L563.50 181.98 L564.50 182.09 L565.50 182.21 L566.50 182.34 L567.50 182.49 L568.50 182.66 L569.50 182.82 L570.50 183.00 L571.50 183.20 L572.50 183.44 L573.50 183.71 L574.50 184.01 L575.50 184.32 L576.50 184.63 L577.50 184.94 L578.50 185.24 L579.50 185.52 L580.50 185.81 L581.50 186.09 L582.50 186.38 L583.50 186.66 L584.50 186.95 L585.50 187.22 L586.50 187.49 L587.50 187.75 L588.50 188.02 L589.50 188.29 L590.50 188.55 L591.50 188.79 L592.50 188.99 L593.50 189.17 L594.50 189.34 L595.50 189.51 L596.50 189.66 L597.50 189.79 L598.50 189.88 L599.50 189.92 L600.50 189.92 L601.50 189.92 L602.50 189.92 L603.50 189.92 L604.50 189.92 L605.50 189.92 L606.50 189.92 L607.50 189.92 L608.50 189.92 L609.50 189.90 L610.50 189.88 L611.50 189.86 L612.50 189.83M612.50 189.83 L613.50 189.83 L614.49 189.83 L615.49 189.82 L616.48 189.81 L617.48 189.80 L618.47 189.78 L619.47 189.77 L620.47 189.75 L621.46 189.73 L622.46 189.71 L623.45 189.69 L624.45 189.67 L625.44 189.65 L626.44 189.60 L627.44 189.55 L628.43 189.50 L629.43 189.45 L630.42 189.40 L631.42 189.36 L632.41 189.34 L633.41 189.33 L634.41 189.35 L635.40 189.37 L636.40 189.41 L637.39 189.46 L638.39 189.51 L639.39 189.56 L640.38 189.61 L641.38 189.67 L642.37 189.73 L643.37 189.79 L644.36 189.86 L645.36 189.94 L646.36 190.02 L647.35 190.11 L648.35 190.20 L649.34 190.30 L650.34 190.41 L651.33 190.53 L652.33 190.68 L653.33 190.83 L654.32 190.99 L655.32 191.15 L656.31 191.32 L657.31 191.48 L658.30 191.63 L659.30 191.78 L660.30 191.94 L661.29 192.10 L662.29 192.26 L663.28 192.41 L664.28 192.56 L665.27 192.70 L666.27 192.83 L667.27 192.95 L668.26 193.07 L669.26 193.19 L670.25 193.31 L671.25 193.42 L672.24 193.52 L673.24 193.59 L674.24 193.65 L675.23 193.69 L676.23 193.72 L677.22 193.75 L678.22 193.77 L679.22 193.79 L680.21 193.81 L681.21 193.82 L682.20 193.83 L683.20 193.83 L684.19 193.83 L685.19 193.83 L686.19 193.83 L687.18 193.83 L688.18 193.83 L689.17 193.83 L690.17 193.83 L691.16 193.83 L692.16 193.83 L693.16 193.83 L694.15 193.83 L695.15 193.83 L696.14 193.83 L697.14 193.83 L698.13 193.83 L699.13 193.83 L700.13 193.83 L701.12 193.83 L702.12 193.83 L703.11 193.83 L704.11 193.83 L705.10 193.83 L706.10 193.83 L707.10 193.83 L708.09 193.83 L709.09 193.83 L710.08 193.83"/>
<path d="M561.50 199.08 L562.50 199.02 L563.50 198.93 L564.50 198.83 L565.50 198.72 L566.50 198.59 L567.50 198.46 L568.50 198.31 L569.50 198.16 L570.50 198.00 L571.50 197.83 L572.50 197.63 L573.50 197.41 L574.50 197.17 L575.50 196.92 L576.50 196.66 L577.50 196.38 L578.50 196.10 L579.50 195.80 L580.50 195.48 L581.50 195.14 L582.50 194.77 L583.50 194.40 L584.50 194.02 L585.50 193.63 L586.50 193.25 L587.50 192.87 L588.50 192.48 L589.50 192.07 L590.50 191.66 L591.50 191.27 L592.50 190.91 L593.50 190.60 L594.50 190.29 L595.50 190.01 L596.50 189.78 L597.50 189.62 L598.50 189.50 L599.50 189.39 L600.50 189.30 L601.50 189.22 L602.50 189.15 L603.50 189.10 L604.50 189.05 L605.50 189.01 L606.50 188.97 L607.50 188.93 L608.50 188.90 L609.50 188.87 L610.50 188.85 L611.50 188.84 L612.50 188.83M612.50 188.83 L613.50 188.83 L614.49 188.82 L615.49 188.81 L616.48 188.79 L617.48 188.76 L618.47 188.73 L619.47 188.70 L620.47 188.67 L621.46 188.63 L622.46 188.59 L623.45 188.55 L624.45 188.51 L625.44 188.46 L626.44 188.38 L627.44 188.28 L628.43 188.17 L629.43 188.06 L630.42 187.96 L631.42 187.89 L632.41 187.84 L633.41 187.83 L634.41 187.83 L635.40 187.83 L636.40 187.83 L637.39 187.83 L638.39 187.83 L639.39 187.83 L640.38 187.83 L641.38 187.83 L642.37 187.83 L643.37 187.83 L644.36 187.83 L645.36 187.83 L646.36 187.86 L647.35 187.96 L648.35 188.11 L649.34 188.30 L650.34 188.52 L651.33 188.76 L652.33 189.00 L653.33 189.23 L654.32 189.44 L655.32 189.67 L656.31 189.91 L657.31 190.17 L658.30 190.43 L659.30 190.68 L660.30 190.93 L661.29 191.15 L662.29 191.36 L663.28 191.55 L664.28 191.73 L665.27 191.92 L666.27 192.09 L667.27 192.25 L668.26 192.40 L669.26 192.53 L670.25 192.64 L671.25 192.74 L672.24 192.84 L673.24 192.93 L674.24 193.02 L675.23 193.10 L676.23 193.17 L677.22 193.22 L678.22 193.25 L679.22 193.25 L680.21 193.25 L681.21 193.25 L682.20 193.25 L683.20 193.25 L684.19 193.25 L685.19 193.25 L686.19 193.25 L687.18 193.25 L688.18 193.25 L689.17 193.25 L690.17 193.25 L691.16 193.25 L692.16 193.25 L693.16 193.25 L694.15 193.25 L695.15 193.25 L696.14 193.25 L697.14 193.25 L698.13 193.25 L699.13 193.25 L700.13 193.25 L701.12 193.25 L702.12 193.25 L703.11 193.25 L704.11 193.25 L705.10 193.25 L706.10 193.25 L707.10 193.25 L708.09 193.25 L709.09 193.25 L710.08 193.25"/>
<path d="M561.50 197.42 L562.50 197.41 L563.50 197.39 L564.50 197.37 L565.50 197.34 L566.50 197.31 L567.50 197.28 L568.50 197.24 L569.50 197.21 L570.50 197.17 L571.50 197.11 L572.50 197.04 L573.50 196.95 L574.50 196.85 L575.50 196.76 L576.50 196.68 L577.50 196.62 L578.50 196.59 L579.50 196.58 L580.50 196.58 L581.50 196.58 L582.50 196.58 L583.50 196.58 L584.50 196.58 L585.50 196.58 L586.50 196.58 L587.50 196.59 L588.50 196.63 L589.50 196.72 L590.50 196.85 L591.50 197.00 L592.50 197.17 L593.50 197.34 L594.50 197.51 L595.50 197.67 L596.50 197.83 L597.50 198.01 L598.50 198.20 L599.50 198.40 L600.50 198.59 L601.50 198.76 L602.50 198.92 L603.50 199.05 L604.50 199.15 L605.50 199.24 L606.50 199.33 L607.50 199.41 L608.50 199.49 L609.50 199.55 L610.50 199.60 L611.50 199.64 L612.50 199.67M612.50 199.67 L613.50 199.67 L614.49 199.67 L615.49 199.67 L616.48 199.67 L617.48 199.67 L618.47 199.67 L619.47 199.67 L620.47 199.67 L621.46 199.66 L622.46 199.64 L623.45 199.60 L624.45 199.56 L625.44 199.51 L626.44 199.46 L627.44 199.40 L628.43 199.35 L629.43 199.31 L630.42 199.26 L631.42 199.21 L632.41 199.17 L633.41 199.12 L634.41 199.07 L635.40 199.01 L636.40 198.96 L637.39 198.90 L638.39 198.85 L639.39 198.79 L640.38 198.73 L641.38 198.66 L642.37 198.59 L643.37 198.52 L644.36 198.44 L645.36 198.36 L646.36 198.27 L647.35 198.19 L648.35 198.10 L649.34 198.02 L650.34 197.95 L651.33 197.87 L652.33 197.79 L653.33 197.71 L654.32 197.64 L655.32 197.57 L656.31 197.50 L657.31 197.45 L658.30 197.40 L659.30 197.37 L660.30 197.33 L661.29 197.30 L662.29 197.27 L663.28 197.24 L664.28 197.22 L665.27 197.19 L666.27 197.17 L667.27 197.14 L668.26 197.12 L669.26 197.10 L670.25 197.08 L671.25 197.06 L672.24 197.04 L673.24 197.02 L674.24 197.01 L675.23 196.99 L676.23 196.98 L677.22 196.96 L678.22 196.95 L679.22 196.94 L680.21 196.92 L681.21 196.91 L682.20 196.90 L683.20 196.89 L684.19 196.87 L685.19 196.86 L686.19 196.86 L687.18 196.85 L688.18 196.84 L689.17 196.84 L690.17 196.83 L691.16 196.83 L692.16 196.83 L693.16 196.83 L694.15 196.83 L695.15 196.83 L696.14 196.83 L697.14 196.83 L698.13 196.83 L699.13 196.83 L700.13 196.83 L701.12 196.83 L702.12 196.83 L703.11 196.83 L704.11 196.83 L705.10 196.83 L706.10 196.83 L707.10 196.83 L708.09 196.83 L709.09 196.83 L710.08 196.83"/>
<path d="M561.33 240.83 L562.34 240.92 L563.34 241.06 L564.34 241.23 L565.35 241.44 L566.35 241.69 L567.35 241.96 L568.36 242.25 L569.36 242.56 L570.36 242.89 L571.37 243.23 L572.37 243.60 L573.37 244.04 L574.38 244.56 L575.38 245.13 L576.38 245.74 L577.39 246.37 L578.39 247.00 L579.39 247.63 L580.40 248.24 L581.40 248.85 L582.40 249.47 L583.41 250.10 L584.41 250.75 L585.41 251.40 L586.42 252.06 L587.42 252.72 L588.42 253.39 L589.42 254.10 L590.43 254.84 L591.43 255.60 L592.43 256.37 L593.44 257.11 L594.44 257.82 L595.44 258.48 L596.45 259.05 L597.45 259.56 L598.45 260.06 L599.46 260.53 L600.46 260.97 L601.46 261.39 L602.47 261.76 L603.47 262.09 L604.47 262.38 L605.48 262.61 L606.48 262.82 L607.48 263.02 L608.49 263.21 L609.49 263.37 L610.49 263.51 L611.50 263.61 L612.50 263.67M612.50 263.67 L613.49 263.66 L614.49 263.65 L615.48 263.62 L616.48 263.59 L617.47 263.55 L618.47 263.51 L619.46 263.46 L620.46 263.40 L621.45 263.35 L622.45 263.28 L623.44 263.17 L624.44 263.04 L625.43 262.88 L626.43 262.71 L627.42 262.52 L628.42 262.32 L629.41 262.12 L630.41 261.91 L631.40 261.69 L632.40 261.44 L633.39 261.17 L634.39 260.88 L635.38 260.59 L636.38 260.28 L637.37 259.97 L638.37 259.66 L639.36 259.33 L640.36 258.98 L641.35 258.61 L642.35 258.24 L643.34 257.86 L644.34 257.49 L645.33 257.12 L646.33 256.78 L647.32 256.45 L648.32 256.13 L649.31 255.81 L650.31 255.49 L651.30 255.18 L652.30 254.89 L653.29 254.61 L654.29 254.34 L655.28 254.10 L656.28 253.86 L657.27 253.63 L658.27 253.41 L659.26 253.20 L660.26 253.01 L661.25 252.82 L662.24 252.66 L663.24 252.51 L664.23 252.38 L665.23 252.24 L666.22 252.10 L667.22 251.98 L668.21 251.87 L669.21 251.77 L670.20 251.71 L671.20 251.67 L672.19 251.67 L673.19 251.67 L674.18 251.67 L675.18 251.67 L676.17 251.67 L677.17 251.67 L678.16 251.67 L679.16 251.67 L680.15 251.67 L681.15 251.67 L682.14 251.67 L683.14 251.67 L684.13 251.67 L685.13 251.67 L686.12 251.67 L687.12 251.67 L688.11 251.67 L689.11 251.67 L690.10 251.67 L691.10 251.68 L692.09 251.69 L693.09 251.70 L694.08 251.71 L695.08 251.73 L696.07 251.75 L697.07 251.77 L698.06 251.79 L699.06 251.82 L700.05 251.84 L701.05 251.87 L702.04 251.90 L703.04 251.93 L704.03 251.96 L705.03 251.99 L706.02 252.03 L707.02 252.06 L708.01 252.10 L709.01 252.13 L710.00 252.17"/>
<path d="M561.33 271.33 L562.34 270.97 L563.34 270.59 L564.34 270.18 L565.35 269.75 L566.35 269.31 L567.35 268.84 L568.36 268.36 L569.36 267.86 L570.36 267.35 L571.37 266.83 L572.37 266.28 L573.37 265.69 L574.38 265.07 L575.38 264.42 L576.38 263.76 L577.39 263.08 L578.39 262.40 L579.39 261.73 L580.40 261.08 L581.40 260.41 L582.40 259.74 L583.41 259.07 L584.41 258.40 L585.41 257.73 L586.42 257.07 L587.42 256.42 L588.42 255.78 L589.42 255.13 L590.43 254.48 L591.43 253.82 L592.43 253.17 L593.44 252.55 L594.44 251.96 L595.44 251.41 L596.45 250.93 L597.45 250.49 L598.45 250.07 L599.46 249.66 L600.46 249.27 L601.46 248.92 L602.47 248.60 L603.47 248.32 L604.47 248.10 L605.48 247.92 L606.48 247.76 L607.48 247.60 L608.49 247.46 L609.49 247.34 L610.49 247.25 L611.50 247.19 L612.50 247.17M612.50 247.17 L613.49 247.16 L614.49 247.14 L615.48 247.13 L616.48 247.11 L617.47 247.09 L618.47 247.07 L619.46 247.05 L620.46 247.03 L621.45 247.01 L622.45 246.98 L623.44 246.95 L624.44 246.92 L625.43 246.89 L626.43 246.86 L627.42 246.82 L628.42 246.78 L629.41 246.74 L630.41 246.70 L631.40 246.66 L632.40 246.61 L633.39 246.57 L634.39 246.52 L635.38 246.47 L636.38 246.43 L637.37 246.38 L638.37 246.33 L639.36 246.28 L640.36 246.23 L641.35 246.18 L642.35 246.13 L643.34 246.07 L644.34 246.02 L645.33 245.96 L646.33 245.90 L647.32 245.84 L648.32 245.78 L649.31 245.72 L650.31 245.66 L651.30 245.59 L652.30 245.52 L653.29 245.45 L654.29 245.38 L655.28 245.31 L656.28 245.24 L657.27 245.16 L658.27 245.07 L659.26 244.99 L660.26 244.90 L661.25 244.81 L662.24 244.71 L663.24 244.62 L664.23 244.52 L665.23 244.43 L666.22 244.33 L667.22 244.24 L668.21 244.14 L669.21 244.05 L670.20 243.96 L671.20 243.87 L672.19 243.79 L673.19 243.70 L674.18 243.62 L675.18 243.53 L676.17 243.45 L677.17 243.36 L678.16 243.28 L679.16 243.20 L680.15 243.11 L681.15 243.03 L682.14 242.95 L683.14 242.87 L684.13 242.80 L685.13 242.72 L686.12 242.65 L687.12 242.58 L688.11 242.51 L689.11 242.45 L690.10 242.39 L691.10 242.32 L692.09 242.26 L693.09 242.20 L694.08 242.14 L695.08 242.08 L696.07 242.02 L697.07 241.96 L698.06 241.91 L699.06 241.85 L700.05 241.80 L701.05 241.75 L702.04 241.69 L703.04 241.64 L704.03 241.60 L705.03 241.55 L706.02 241.50 L707.02 241.46 L708.01 241.41 L709.01 241.37 L710.00 241.33"/>
<path d="M561.33 272.00 L562.34 272.31 L563.34 272.61 L564.34 272.91 L565.35 273.21 L566.35 273.50 L567.35 273.79 L568.36 274.08 L569.36 274.36 L570.36 274.64 L571.37 274.92 L572.37 275.19 L573.37 275.46 L574.38 275.72 L575.38 275.98 L576.38 276.24 L577.39 276.49 L578.39 276.75 L579.39 277.00 L580.40 277.24 L581.40 277.49 L582.40 277.74 L583.41 277.98 L584.41 278.22 L585.41 278.47 L586.42 278.71 L587.42 278.95 L588.42 279.19 L589.42 279.43 L590.43 279.69 L591.43 279.95 L592.43 280.21 L593.44 280.48 L594.44 280.75 L595.44 281.01 L596.45 281.27 L597.45 281.53 L598.45 281.77 L599.46 282.01 L600.46 282.23 L601.46 282.43 L602.47 282.62 L603.47 282.79 L604.47 282.93 L605.48 283.06 L606.48 283.17 L607.48 283.28 L608.49 283.38 L609.49 283.47 L610.49 283.55 L611.50 283.61 L612.50 283.67M612.50 283.67 L613.49 283.65 L614.49 283.62 L615.48 283.56 L616.48 283.50 L617.47 283.42 L618.47 283.33 L619.46 283.23 L620.46 283.13 L621.45 283.02 L622.45 282.90 L623.44 282.75 L624.44 282.58 L625.43 282.38 L626.43 282.16 L627.42 281.93 L628.42 281.70 L629.41 281.47 L630.41 281.24 L631.40 280.99 L632.40 280.73 L633.39 280.46 L634.39 280.19 L635.38 279.91 L636.38 279.65 L637.37 279.39 L638.37 279.16 L639.36 278.94 L640.36 278.72 L641.35 278.52 L642.35 278.31 L643.34 278.12 L644.34 277.93 L645.33 277.74 L646.33 277.56 L647.32 277.38 L648.32 277.20 L649.31 277.02 L650.31 276.85 L651.30 276.68 L652.30 276.52 L653.29 276.38 L654.29 276.25 L655.28 276.14 L656.28 276.03 L657.27 275.92 L658.27 275.81 L659.26 275.71 L660.26 275.63 L661.25 275.56 L662.24 275.52 L663.24 275.50 L664.23 275.50 L665.23 275.50 L666.22 275.50 L667.22 275.50 L668.21 275.50 L669.21 275.50 L670.20 275.50 L671.20 275.50 L672.19 275.51 L673.19 275.58 L674.18 275.70 L675.18 275.87 L676.17 276.07 L677.17 276.30 L678.16 276.55 L679.16 276.79 L680.15 277.04 L681.15 277.30 L682.14 277.61 L683.14 277.94 L684.13 278.30 L685.13 278.68 L686.12 279.08 L687.12 279.49 L688.11 279.91 L689.11 280.33 L690.10 280.78 L691.10 281.25 L692.09 281.74 L693.09 282.25 L694.08 282.77 L695.08 283.30 L696.07 283.84 L697.07 284.39 L698.06 284.95 L699.06 285.54 L700.05 286.15 L701.05 286.76 L702.04 287.38 L703.04 287.99 L704.03 288.59 L705.03 289.18 L706.02 289.76 L707.02 290.33 L708.01 290.89 L709.01 291.45 L710.00 292.00"/>
<path d="M561.33 345.33 L562.34 344.50 L563.34 343.65 L564.34 342.78 L565.35 341.90 L566.35 341.00 L567.35 340.08 L568.36 339.15 L569.36 338.19 L570.36 337.22 L571.37 336.23 L572.37 335.23 L573.37 334.20 L574.38 333.16 L575.38 332.10 L576.38 331.00 L577.39 329.88 L578.39 328.74 L579.39 327.59 L580.40 326.44 L581.40 325.30 L582.40 324.17 L583.41 323.04 L584.41 321.92 L585.41 320.79 L586.42 319.66 L587.42 318.53 L588.42 317.40 L589.42 316.26 L590.43 315.10 L591.43 313.94 L592.43 312.79 L593.44 311.67 L594.44 310.58 L595.44 309.54 L596.45 308.51 L597.45 307.49 L598.45 306.51 L599.46 305.56 L600.46 304.66 L601.46 303.83 L602.47 303.03 L603.47 302.24 L604.47 301.49 L605.48 300.86 L606.48 300.40 L607.48 300.08 L608.49 299.79 L609.49 299.54 L610.49 299.34 L611.50 299.21 L612.50 299.17M612.50 299.17 L613.49 299.13 L614.49 299.10 L615.48 299.07 L616.48 299.03 L617.47 299.00 L618.47 298.96 L619.46 298.92 L620.46 298.88 L621.45 298.84 L622.45 298.80 L623.44 298.76 L624.44 298.71 L625.43 298.67 L626.43 298.62 L627.42 298.57 L628.42 298.52 L629.41 298.47 L630.41 298.42 L631.40 298.37 L632.40 298.32 L633.39 298.27 L634.39 298.21 L635.38 298.16 L636.38 298.11 L637.37 298.05 L638.37 298.00 L639.36 297.94 L640.36 297.89 L641.35 297.84 L642.35 297.78 L643.34 297.73 L644.34 297.67 L645.33 297.62 L646.33 297.56 L647.32 297.50 L648.32 297.45 L649.31 297.39 L650.31 297.32 L651.30 297.26 L652.30 297.19 L653.29 297.12 L654.29 297.05 L655.28 296.98 L656.28 296.90 L657.27 296.82 L658.27 296.73 L659.26 296.63 L660.26 296.54 L661.25 296.44 L662.24 296.33 L663.24 296.23 L664.23 296.12 L665.23 296.02 L666.22 295.91 L667.22 295.80 L668.21 295.69 L669.21 295.59 L670.20 295.48 L671.20 295.38 L672.19 295.28 L673.19 295.18 L674.18 295.08 L675.18 294.98 L676.17 294.88 L677.17 294.78 L678.16 294.68 L679.16 294.57 L680.15 294.47 L681.15 294.37 L682.14 294.27 L683.14 294.17 L684.13 294.07 L685.13 293.98 L686.12 293.88 L687.12 293.78 L688.11 293.69 L689.11 293.59 L690.10 293.50 L691.10 293.41 L692.09 293.32 L693.09 293.23 L694.08 293.14 L695.08 293.06 L696.07 292.97 L697.07 292.88 L698.06 292.80 L699.06 292.71 L700.05 292.62 L701.05 292.53 L702.04 292.44 L703.04 292.35 L704.03 292.26 L705.03 292.16 L706.02 292.07 L707.02 291.97 L708.01 291.87 L709.01 291.77 L710.00 291.67"/>
<path d="M561.33 319.17 L562.34 319.13 L563.34 319.10 L564.34 319.07 L565.35 319.03 L566.35 319.00 L567.35 318.97 L568.36 318.94 L569.36 318.91 L570.36 318.87 L571.37 318.84 L572.37 318.81 L573.37 318.78 L574.38 318.75 L575.38 318.72 L576.38 318.69 L577.39 318.66 L578.39 318.63 L579.39 318.60 L580.40 318.57 L581.40 318.54 L582.40 318.51 L583.41 318.48 L584.41 318.45 L585.41 318.42 L586.42 318.39 L587.42 318.36 L588.42 318.33 L589.42 318.30 L590.43 318.27 L591.43 318.24 L592.43 318.21 L593.44 318.17 L594.44 318.14 L595.44 318.11 L596.45 318.08 L597.45 318.05 L598.45 318.02 L599.46 317.99 L600.46 317.96 L601.46 317.93 L602.47 317.90 L603.47 317.87 L604.47 317.85 L605.48 317.82 L606.48 317.80 L607.48 317.77 L608.49 317.75 L609.49 317.73 L610.49 317.71 L611.50 317.69 L612.50 317.67M612.50 317.67 L613.49 317.63 L614.49 317.59 L615.48 317.55 L616.48 317.50 L617.47 317.44 L618.47 317.38 L619.46 317.32 L620.46 317.25 L621.45 317.18 L622.45 317.11 L623.44 317.02 L624.44 316.93 L625.43 316.83 L626.43 316.73 L627.42 316.62 L628.42 316.51 L629.41 316.40 L630.41 316.29 L631.40 316.18 L632.40 316.07 L633.39 315.96 L634.39 315.85 L635.38 315.73 L636.38 315.61 L637.37 315.47 L638.37 315.33 L639.36 315.17 L640.36 314.99 L641.35 314.80 L642.35 314.60 L643.34 314.39 L644.34 314.18 L645.33 313.96 L646.33 313.74 L647.32 313.52 L648.32 313.30 L649.31 313.07 L650.31 312.84 L651.30 312.60 L652.30 312.36 L653.29 312.11 L654.29 311.86 L655.28 311.59 L656.28 311.31 L657.27 311.03 L658.27 310.73 L659.26 310.42 L660.26 310.11 L661.25 309.80 L662.24 309.50 L663.24 309.19 L664.23 308.90 L665.23 308.60 L666.22 308.30 L667.22 308.00 L668.21 307.70 L669.21 307.40 L670.20 307.11 L671.20 306.81 L672.19 306.51 L673.19 306.22 L674.18 305.93 L675.18 305.65 L676.17 305.36 L677.17 305.07 L678.16 304.77 L679.16 304.45 L680.15 304.11 L681.15 303.76 L682.14 303.38 L683.14 302.98 L684.13 302.57 L685.13 302.16 L686.12 301.74 L687.12 301.33 L688.11 300.92 L689.11 300.52 L690.10 300.13 L691.10 299.73 L692.09 299.33 L693.09 298.93 L694.08 298.53 L695.08 298.14 L696.07 297.74 L697.07 297.34 L698.06 296.95 L699.06 296.55 L700.05 296.16 L701.05 295.77 L702.04 295.37 L703.04 294.97 L704.03 294.57 L705.03 294.16 L706.02 293.74 L707.02 293.31 L708.01 292.88 L709.01 292.44 L710.00 292.00"/>
<path d="M561.50 348.17 L562.50 348.85 L563.50 349.50 L564.50 350.14 L565.50 350.76 L566.50 351.35 L567.50 351.92 L568.50 352.48 L569.50 353.01 L570.50 353.50 L571.50 353.99 L572.50 354.47 L573.50 354.90 L574.50 355.21 L575.50 355.42 L576.50 355.61 L577.50 355.75 L578.50 355.83 L579.50 355.82 L580.50 355.75 L581.50 355.63 L582.50 355.49 L583.50 355.32 L584.50 355.06 L585.50 354.73 L586.50 354.38 L587.50 354.07 L588.50 353.77 L589.50 353.47 L590.50 353.17 L591.50 352.87 L592.50 352.55 L593.50 352.23 L594.50 351.93 L595.50 351.67 L596.50 351.44 L597.50 351.23 L598.50 351.04 L599.50 350.86 L600.50 350.70 L601.50 350.54 L602.50 350.39 L603.50 350.28 L604.50 350.19 L605.50 350.11 L606.50 350.04 L607.50 350.01 L608.50 350.00 L609.50 350.00 L610.50 350.00 L611.50 350.00 L612.50 350.00M612.50 350.00 L613.49 350.06 L614.49 350.16 L615.48 350.29 L616.48 350.44 L617.47 350.64 L618.47 350.89 L619.46 351.18 L620.46 351.49 L621.45 351.82 L622.45 352.20 L623.44 352.62 L624.44 353.06 L625.43 353.53 L626.43 354.04 L627.42 354.59 L628.42 355.17 L629.41 355.79 L630.41 356.52 L631.40 357.27 L632.40 357.97 L633.39 358.56 L634.39 359.17 L635.38 359.74 L636.38 360.14 L637.37 360.25 L638.37 360.25 L639.36 360.25 L640.36 360.25 L641.35 360.25 L642.35 360.17 L643.34 359.96 L644.34 359.68 L645.33 359.38 L646.33 359.07 L647.32 358.70 L648.32 358.28 L649.31 357.83 L650.31 357.36 L651.30 356.84 L652.30 356.29 L653.29 355.73 L654.29 355.16 L655.28 354.58 L656.28 353.99 L657.27 353.38 L658.27 352.74 L659.26 352.07 L660.26 351.36 L661.25 350.65 L662.24 349.95 L663.24 349.26 L664.23 348.58 L665.23 347.88 L666.22 347.16 L667.22 346.40 L668.21 345.61 L669.21 344.80 L670.20 343.99 L671.20 343.19 L672.19 342.41 L673.19 341.62 L674.18 340.82 L675.18 339.95 L676.17 338.94 L677.17 338.01 L678.16 337.44 L679.16 337.10 L680.15 336.84 L681.15 336.62 L682.14 336.44 L683.14 336.25 L684.13 336.05 L685.13 335.80 L686.12 335.49 L687.12 335.15 L688.11 334.79 L689.11 334.43 L690.10 334.10 L691.10 333.81 L692.09 333.57 L693.09 333.37 L694.08 333.18 L695.08 333.00 L696.07 332.84 L697.07 332.69 L698.06 332.54 L699.06 332.39 L700.05 332.25 L701.05 332.12 L702.04 331.99 L703.04 331.87 L704.03 331.76 L705.03 331.66 L706.02 331.58 L707.02 331.51 L708.01 331.44 L709.01 331.38 L710.00 331.33"/>
<path d="M561.50 355.83 L562.50 356.08 L563.50 356.31 L564.50 356.51 L565.50 356.70 L566.50 356.86 L567.50 357.01 L568.50 357.14 L569.50 357.25 L570.50 357.33 L571.50 357.39 L572.50 357.44 L573.50 357.48 L574.50 357.50 L575.50 357.49 L576.50 357.45 L577.50 357.40 L578.50 357.35 L579.50 357.30 L580.50 357.24 L581.50 357.18 L582.50 357.11 L583.50 357.05 L584.50 357.00 L585.50 356.95 L586.50 356.88 L587.50 356.80 L588.50 356.68 L589.50 356.53 L590.50 356.37 L591.50 356.23 L592.50 356.08 L593.50 355.93 L594.50 355.79 L595.50 355.67 L596.50 355.55 L597.50 355.45 L598.50 355.35 L599.50 355.26 L600.50 355.19 L601.50 355.13 L602.50 355.07 L603.50 355.02 L604.50 354.97 L605.50 354.91 L606.50 354.87 L607.50 354.84 L608.50 354.83 L609.50 354.83 L610.50 354.83 L611.50 354.83 L612.50 354.83M612.50 354.83 L613.50 354.85 L614.49 354.89 L615.49 354.94 L616.48 355.01 L617.48 355.14 L618.47 355.33 L619.47 355.57 L620.47 355.82 L621.46 356.11 L622.46 356.46 L623.45 356.85 L624.45 357.25 L625.44 357.65 L626.44 358.08 L627.44 358.52 L628.43 358.98 L629.43 359.44 L630.42 359.90 L631.42 360.38 L632.41 360.91 L633.41 361.52 L634.41 362.26 L635.40 363.09 L636.40 363.95 L637.39 364.76 L638.39 365.54 L639.39 366.31 L640.38 367.10 L641.38 367.96 L642.37 368.89 L643.37 369.89 L644.36 370.92 L645.36 371.94 L646.36 372.94 L647.35 373.93 L648.35 374.93 L649.34 375.93 L650.34 376.92 L651.33 377.92 L652.33 378.91 L653.33 379.91 L654.32 380.91 L655.32 381.95 L656.31 382.99 L657.31 383.96 L658.30 384.84 L659.30 385.68 L660.30 386.46 L661.29 387.16 L662.29 387.73 L663.28 388.21 L664.28 388.64 L665.27 389.01 L666.27 389.32 L667.27 389.57 L668.26 389.79 L669.26 389.98 L670.25 390.13 L671.25 390.27 L672.24 390.39 L673.24 390.50 L674.24 390.57 L675.23 390.59 L676.23 390.61 L677.22 390.63 L678.22 390.64 L679.22 390.65 L680.21 390.66 L681.21 390.66 L682.20 390.67 L683.20 390.67 L684.19 390.66 L685.19 390.66 L686.19 390.65 L687.18 390.64 L688.18 390.63 L689.17 390.61 L690.17 390.59 L691.16 390.58 L692.16 390.56 L693.16 390.54 L694.15 390.52 L695.15 390.50 L696.14 390.48 L697.14 390.46 L698.13 390.44 L699.13 390.43 L700.13 390.41 L701.12 390.39 L702.12 390.38 L703.11 390.36 L704.11 390.35 L705.10 390.33 L706.10 390.31 L707.10 390.30 L708.09 390.28 L709.09 390.27 L710.08 390.25"/>
<path d="M561.50 365.42 L562.50 365.31 L563.50 365.21 L564.50 365.12 L565.50 365.05 L566.50 364.99 L567.50 364.95 L568.50 364.92 L569.50 364.88 L570.50 364.83 L571.50 364.75 L572.50 364.63 L573.50 364.49 L574.50 364.36 L575.50 364.22 L576.50 364.07 L577.50 363.93 L578.50 363.79 L579.50 363.67 L580.50 363.53 L581.50 363.42 L582.50 363.34 L583.50 363.33 L584.50 363.33 L585.50 363.33 L586.50 363.33 L587.50 363.34 L588.50 363.40 L589.50 363.50 L590.50 363.64 L591.50 363.77 L592.50 363.94 L593.50 364.15 L594.50 364.37 L595.50 364.58 L596.50 364.80 L597.50 365.02 L598.50 365.22 L599.50 365.39 L600.50 365.52 L601.50 365.63 L602.50 365.73 L603.50 365.81 L604.50 365.88 L605.50 365.95 L606.50 366.01 L607.50 366.06 L608.50 366.11 L609.50 366.15 L610.50 366.19 L611.50 366.22 L612.50 366.25M612.50 366.25 L613.49 366.23 L614.49 366.17 L615.48 366.08 L616.48 365.98 L617.47 365.85 L618.47 365.65 L619.46 365.42 L620.46 365.18 L621.45 364.90 L622.45 364.57 L623.44 364.20 L624.44 363.83 L625.43 363.46 L626.43 363.06 L627.42 362.66 L628.42 362.25 L629.41 361.86 L630.41 361.49 L631.40 361.12 L632.40 360.70 L633.39 360.21 L634.39 359.56 L635.38 358.84 L636.38 358.14 L637.37 357.56 L638.37 357.09 L639.36 356.67 L640.36 356.26 L641.35 355.82 L642.35 355.35 L643.34 354.87 L644.34 354.37 L645.33 353.84 L646.33 353.28 L647.32 352.67 L648.32 352.06 L649.31 351.46 L650.31 350.89 L651.30 350.35 L652.30 349.83 L653.29 349.30 L654.29 348.75 L655.28 348.20 L656.28 347.64 L657.27 347.08 L658.27 346.52 L659.26 345.96 L660.26 345.40 L661.25 344.84 L662.24 344.29 L663.24 343.74 L664.23 343.20 L665.23 342.66 L666.22 342.14 L667.22 341.63 L668.21 341.12 L669.21 340.62 L670.20 340.14 L671.20 339.68 L672.19 339.24 L673.19 338.81 L674.18 338.38 L675.18 337.94 L676.17 337.51 L677.17 337.08 L678.16 336.60 L679.16 336.07 L680.15 335.44 L681.15 334.75 L682.14 333.99 L683.14 333.20 L684.13 332.39 L685.13 331.58 L686.12 330.78 L687.12 330.02 L688.11 329.32 L689.11 328.65 L690.10 327.98 L691.10 327.31 L692.09 326.65 L693.09 326.03 L694.08 325.44 L695.08 324.90 L696.07 324.42 L697.07 324.01 L698.06 323.63 L699.06 323.28 L700.05 322.96 L701.05 322.66 L702.04 322.38 L703.04 322.12 L704.03 321.88 L705.03 321.66 L706.02 321.46 L707.02 321.28 L708.01 321.11 L709.01 320.96 L710.00 320.83"/>
<path d="M561.50 367.50 L562.50 367.44 L563.50 367.36 L564.50 367.27 L565.50 367.17 L566.50 367.07 L567.50 366.94 L568.50 366.80 L569.50 366.65 L570.50 366.50 L571.50 366.32 L572.50 366.11 L573.50 365.93 L574.50 365.84 L575.50 365.84 L576.50 365.87 L577.50 365.92 L578.50 365.98 L579.50 366.08 L580.50 366.30 L581.50 366.59 L582.50 366.92 L583.50 367.25 L584.50 367.63 L585.50 368.05 L586.50 368.48 L587.50 368.88 L588.50 369.30 L589.50 369.72 L590.50 370.11 L591.50 370.47 L592.50 370.81 L593.50 371.12 L594.50 371.41 L595.50 371.67 L596.50 371.90 L597.50 372.11 L598.50 372.31 L599.50 372.47 L600.50 372.62 L601.50 372.76 L602.50 372.89 L603.50 372.98 L604.50 373.04 L605.50 373.09 L606.50 373.14 L607.50 373.16 L608.50 373.17 L609.50 373.17 L610.50 373.17 L611.50 373.17 L612.50 373.17M612.50 373.17 L613.50 373.13 L614.49 373.06 L615.49 372.99 L616.48 372.90 L617.48 372.78 L618.47 372.63 L619.47 372.47 L620.47 372.34 L621.46 372.22 L622.46 372.12 L623.45 372.02 L624.45 371.93 L625.44 371.86 L626.44 371.78 L627.44 371.71 L628.43 371.67 L629.43 371.69 L630.42 371.80 L631.42 371.99 L632.41 372.20 L633.41 372.43 L634.41 372.70 L635.40 373.03 L636.40 373.41 L637.39 373.86 L638.39 374.43 L639.39 375.12 L640.38 375.89 L641.38 376.70 L642.37 377.57 L643.37 378.52 L644.36 379.56 L645.36 380.67 L646.36 381.86 L647.35 383.16 L648.35 384.57 L649.34 386.13 L650.34 387.98 L651.33 390.00 L652.33 391.63 L653.33 393.10 L654.32 394.51 L655.32 395.94 L656.31 397.38 L657.31 398.74 L658.30 399.93 L659.30 401.03 L660.30 401.94 L661.29 402.55 L662.29 403.02 L663.28 403.47 L664.28 404.00 L665.27 404.58 L666.27 405.21 L667.27 405.91 L668.26 406.70 L669.26 407.57 L670.25 408.51 L671.25 409.50 L672.24 410.56 L673.24 411.68 L674.24 412.83 L675.23 414.02 L676.23 415.30 L677.22 416.58 L678.22 417.74 L679.22 418.85 L680.21 419.88 L681.21 420.74 L682.20 421.48 L683.20 422.17 L684.19 422.61 L685.19 422.67 L686.19 422.67 L687.18 422.67 L688.18 422.67 L689.17 422.67 L690.17 422.66 L691.16 422.63 L692.16 422.57 L693.16 422.50 L694.15 422.43 L695.15 422.36 L696.14 422.29 L697.14 422.23 L698.13 422.16 L699.13 422.10 L700.13 422.03 L701.12 421.97 L702.12 421.91 L703.11 421.86 L704.11 421.82 L705.10 421.79 L706.10 421.76 L707.10 421.73 L708.09 421.70 L709.09 421.68 L710.08 421.67"/>
<path d="M561.50 389.33 L562.50 389.19 L563.50 389.00 L564.50 388.79 L565.50 388.55 L566.50 388.29 L567.50 387.97 L568.50 387.60 L569.50 387.20 L570.50 386.83 L571.50 386.48 L572.50 386.14 L573.50 385.80 L574.50 385.47 L575.50 385.16 L576.50 384.86 L577.50 384.56 L578.50 384.27 L579.50 383.96 L580.50 383.66 L581.50 383.35 L582.50 383.06 L583.50 382.78 L584.50 382.51 L585.50 382.25 L586.50 382.00 L587.50 381.75 L588.50 381.50 L589.50 381.26 L590.50 381.02 L591.50 380.80 L592.50 380.57 L593.50 380.35 L594.50 380.16 L595.50 380.00 L596.50 379.88 L597.50 379.78 L598.50 379.69 L599.50 379.60 L600.50 379.49 L601.50 379.38 L602.50 379.27 L603.50 379.19 L604.50 379.13 L605.50 379.07 L606.50 379.03 L607.50 379.00 L608.50 379.00 L609.50 379.02 L610.50 379.05 L611.50 379.10 L612.50 379.17M612.50 379.17 L613.50 379.20 L614.49 379.23 L615.49 379.26 L616.48 379.28 L617.48 379.30 L618.47 379.32 L619.47 379.33 L620.47 379.33 L621.46 379.33 L622.46 379.33 L623.45 379.33 L624.45 379.33 L625.44 379.33 L626.44 379.33 L627.44 379.33 L628.43 379.33 L629.43 379.33 L630.42 379.32 L631.42 379.30 L632.41 379.27 L633.41 379.23 L634.41 379.19 L635.40 379.14 L636.40 379.08 L637.39 379.02 L638.39 378.96 L639.39 378.89 L640.38 378.82 L641.38 378.75 L642.37 378.66 L643.37 378.55 L644.36 378.42 L645.36 378.27 L646.36 378.11 L647.35 377.94 L648.35 377.75 L649.34 377.56 L650.34 377.36 L651.33 377.11 L652.33 376.84 L653.33 376.56 L654.32 376.28 L655.32 375.99 L656.31 375.69 L657.31 375.38 L658.30 375.07 L659.30 374.76 L660.30 374.45 L661.29 374.14 L662.29 373.82 L663.28 373.50 L664.28 373.18 L665.27 372.85 L666.27 372.52 L667.27 372.18 L668.26 371.83 L669.26 371.48 L670.25 371.12 L671.25 370.76 L672.24 370.41 L673.24 370.06 L674.24 369.72 L675.23 369.40 L676.23 369.08 L677.22 368.77 L678.22 368.47 L679.22 368.17 L680.21 367.87 L681.21 367.58 L682.20 367.30 L683.20 367.03 L684.19 366.76 L685.19 366.48 L686.19 366.21 L687.18 365.95 L688.18 365.70 L689.17 365.46 L690.17 365.23 L691.16 365.03 L692.16 364.85 L693.16 364.66 L694.15 364.49 L695.15 364.32 L696.14 364.17 L697.14 364.03 L698.13 363.90 L699.13 363.80 L700.13 363.71 L701.12 363.63 L702.12 363.55 L703.11 363.48 L704.11 363.41 L705.10 363.34 L706.10 363.29 L707.10 363.24 L708.09 363.20 L709.09 363.18 L710.08 363.17"/>
<path d="M561.33 384.67 L562.34 385.21 L563.34 385.79 L564.34 386.41 L565.35 387.06 L566.35 387.74 L567.35 388.45 L568.36 389.18 L569.36 389.97 L570.36 390.81 L571.37 391.70 L572.37 392.61 L573.37 393.54 L574.38 394.45 L575.38 395.33 L576.38 396.22 L577.39 397.12 L578.39 398.02 L579.39 398.91 L580.40 399.78 L581.40 400.62 L582.40 401.43 L583.41 402.23 L584.41 403.02 L585.41 403.79 L586.42 404.53 L587.42 405.23 L588.42 405.89 L589.42 406.52 L590.43 407.15 L591.43 407.76 L592.43 408.34 L593.44 408.89 L594.44 409.40 L595.44 409.86 L596.45 410.25 L597.45 410.61 L598.45 410.95 L599.46 411.27 L600.46 411.57 L601.46 411.84 L602.47 412.08 L603.47 412.28 L604.47 412.44 L605.48 412.55 L606.48 412.65 L607.48 412.74 L608.49 412.83 L609.49 412.90 L610.49 412.95 L611.50 412.99 L612.50 413.00M612.50 413.00 L613.50 412.97 L614.49 412.91 L615.49 412.83 L616.48 412.73 L617.48 412.61 L618.47 412.48 L619.47 412.34 L620.47 412.19 L621.46 412.03 L622.46 411.86 L623.45 411.64 L624.45 411.38 L625.44 411.09 L626.44 410.78 L627.44 410.46 L628.43 410.15 L629.43 409.84 L630.42 409.54 L631.42 409.26 L632.41 408.97 L633.41 408.69 L634.41 408.39 L635.40 408.08 L636.40 407.76 L637.39 407.42 L638.39 407.04 L639.39 406.63 L640.38 406.21 L641.38 405.82 L642.37 405.44 L643.37 405.07 L644.36 404.71 L645.36 404.38 L646.36 404.06 L647.35 403.74 L648.35 403.46 L649.34 403.23 L650.34 403.05 L651.33 402.89 L652.33 402.76 L653.33 402.68 L654.32 402.67 L655.32 402.72 L656.31 402.81 L657.31 402.94 L658.30 403.43 L659.30 404.26 L660.30 405.24 L661.29 406.58 L662.29 408.11 L663.28 409.89 L664.28 411.80 L665.27 413.55 L666.27 415.22 L667.27 416.82 L668.26 418.42 L669.26 419.89 L670.25 421.11 L671.25 422.16 L672.24 422.97 L673.24 423.57 L674.24 424.02 L675.23 424.32 L676.23 424.52 L677.22 424.70 L678.22 424.87 L679.22 425.03 L680.21 425.18 L681.21 425.38 L682.20 425.71 L683.20 426.19 L684.19 426.78 L685.19 427.48 L686.19 428.45 L687.18 429.55 L688.18 430.59 L689.17 431.60 L690.17 432.61 L691.16 433.59 L692.16 434.54 L693.16 435.50 L694.15 436.41 L695.15 437.24 L696.14 437.95 L697.14 438.60 L698.13 439.20 L699.13 439.73 L700.13 440.22 L701.12 440.69 L702.12 441.11 L703.11 441.47 L704.11 441.73 L705.10 441.96 L706.10 442.17 L707.10 442.36 L708.09 442.51 L709.09 442.62 L710.08 442.67"/>
<path d="M561.33 389.17 L562.34 389.36 L563.34 389.59 L564.34 389.88 L565.35 390.20 L566.35 390.56 L567.35 390.94 L568.36 391.34 L569.36 391.79 L570.36 392.32 L571.37 392.90 L572.37 393.53 L573.37 394.20 L574.38 394.89 L575.38 395.61 L576.38 396.42 L577.39 397.30 L578.39 398.22 L579.39 399.16 L580.40 400.08 L581.40 400.95 L582.40 401.76 L583.41 402.56 L584.41 403.34 L585.41 404.10 L586.42 404.84 L587.42 405.55 L588.42 406.22 L589.42 406.88 L590.43 407.54 L591.43 408.18 L592.43 408.80 L593.44 409.39 L594.44 409.94 L595.44 410.45 L596.45 410.91 L597.45 411.32 L598.45 411.72 L599.46 412.10 L600.46 412.47 L601.46 412.80 L602.47 413.10 L603.47 413.36 L604.47 413.57 L605.48 413.74 L606.48 413.90 L607.48 414.06 L608.49 414.19 L609.49 414.31 L610.49 414.40 L611.50 414.47 L612.50 414.50M612.50 414.50 L613.50 414.51 L614.49 414.55 L615.49 414.61 L616.48 414.69 L617.48 414.78 L618.47 414.89 L619.47 415.02 L620.47 415.16 L621.46 415.30 L622.46 415.49 L623.45 415.77 L624.45 416.14 L625.44 416.57 L626.44 417.07 L627.44 417.62 L628.43 418.21 L629.43 418.81 L630.42 419.44 L631.42 420.21 L632.41 421.09 L633.41 422.06 L634.41 423.08 L635.40 424.11 L636.40 425.11 L637.39 426.04 L638.39 426.96 L639.39 427.87 L640.38 428.76 L641.38 429.62 L642.37 430.45 L643.37 431.26 L644.36 432.05 L645.36 432.81 L646.36 433.53 L647.35 434.22 L648.35 434.89 L649.34 435.59 L650.34 436.35 L651.33 437.16 L652.33 437.98 L653.33 438.78 L654.32 439.52 L655.32 440.20 L656.31 440.87 L657.31 441.56 L658.30 442.33 L659.30 443.22 L660.30 444.16 L661.29 445.09 L662.29 445.93 L663.28 446.67 L664.28 447.37 L665.27 448.04 L666.27 448.71 L667.27 449.39 L668.26 450.07 L669.26 450.73 L670.25 451.35 L671.25 451.94 L672.24 452.51 L673.24 453.05 L674.24 453.55 L675.23 454.01 L676.23 454.43 L677.22 454.83 L678.22 455.20 L679.22 455.55 L680.21 455.87 L681.21 456.18 L682.20 456.46 L683.20 456.71 L684.19 456.95 L685.19 457.16 L686.19 457.35 L687.18 457.50 L688.18 457.63 L689.17 457.74 L690.17 457.84 L691.16 457.91 L692.16 457.96 L693.16 458.00 L694.15 458.04 L695.15 458.08 L696.14 458.11 L697.14 458.14 L698.13 458.16 L699.13 458.17 L700.13 458.17 L701.12 458.17 L702.12 458.17 L703.11 458.17 L704.11 458.17 L705.10 458.17 L706.10 458.17 L707.10 458.17 L708.09 458.17 L709.09 458.17 L710.08 458.17"/>
<path d="M561.33 418.67 L562.34 418.42 L563.34 418.19 L564.34 417.97 L565.35 417.75 L566.35 417.55 L567.35 417.35 L568.36 417.17 L569.36 417.00 L570.36 416.85 L571.37 416.71 L572.37 416.57 L573.37 416.44 L574.38 416.30 L575.38 416.17 L576.38 416.05 L577.39 415.95 L578.39 415.88 L579.39 415.84 L580.40 415.83 L581.40 415.83 L582.40 415.83 L583.41 415.83 L584.41 415.83 L585.41 415.83 L586.42 415.83 L587.42 415.83 L588.42 415.83 L589.42 415.88 L590.43 416.01 L591.43 416.19 L592.43 416.42 L593.44 416.67 L594.44 416.94 L595.44 417.20 L596.45 417.45 L597.45 417.69 L598.45 417.97 L599.46 418.26 L600.46 418.57 L601.46 418.87 L602.47 419.15 L603.47 419.39 L604.47 419.59 L605.48 419.73 L606.48 419.86 L607.48 419.98 L608.49 420.09 L609.49 420.18 L610.49 420.26 L611.50 420.31 L612.50 420.33M612.50 420.33 L613.50 420.39 L614.49 420.46 L615.49 420.51 L616.48 420.57 L617.48 420.63 L618.47 420.68 L619.47 420.73 L620.47 420.78 L621.46 420.82 L622.46 420.87 L623.45 420.90 L624.45 420.93 L625.44 420.96 L626.44 420.99 L627.44 421.01 L628.43 421.04 L629.43 421.07 L630.42 421.11 L631.42 421.16 L632.41 421.21 L633.41 421.28 L634.41 421.42 L635.40 421.62 L636.40 421.86 L637.39 422.14 L638.39 422.45 L639.39 422.76 L640.38 423.06 L641.38 423.35 L642.37 423.62 L643.37 423.91 L644.36 424.21 L645.36 424.51 L646.36 424.82 L647.35 425.13 L648.35 425.43 L649.34 425.74 L650.34 426.03 L651.33 426.33 L652.33 426.63 L653.33 426.93 L654.32 427.23 L655.32 427.53 L656.31 427.83 L657.31 428.13 L658.30 428.42 L659.30 428.72 L660.30 429.01 L661.29 429.30 L662.29 429.59 L663.28 429.89 L664.28 430.19 L665.27 430.50 L666.27 430.81 L667.27 431.14 L668.26 431.48 L669.26 431.82 L670.25 432.18 L671.25 432.53 L672.24 432.89 L673.24 433.25 L674.24 433.60 L675.23 433.95 L676.23 434.30 L677.22 434.66 L678.22 435.02 L679.22 435.37 L680.21 435.72 L681.21 436.07 L682.20 436.41 L683.20 436.73 L684.19 437.05 L685.19 437.37 L686.19 437.69 L687.18 437.99 L688.18 438.29 L689.17 438.58 L690.17 438.86 L691.16 439.12 L692.16 439.37 L693.16 439.62 L694.15 439.85 L695.15 440.08 L696.14 440.29 L697.14 440.50 L698.13 440.71 L699.13 440.90 L700.13 441.09 L701.12 441.27 L702.12 441.44 L703.11 441.62 L704.11 441.79 L705.10 441.95 L706.10 442.10 L707.10 442.26 L708.09 442.40 L709.09 442.54 L710.08 442.67"/>
<path d="M561.33 420.83 L562.34 421.14 L563.34 421.45 L564.34 421.76 L565.35 422.08 L566.35 422.40 L567.35 422.73 L568.36 423.06 L569.36 423.39 L570.36 423.72 L571.37 424.06 L572.37 424.41 L573.37 424.77 L574.38 425.15 L575.38 425.52 L576.38 425.90 L577.39 426.27 L578.39 426.63 L579.39 426.97 L580.40 427.29 L581.40 427.61 L582.40 427.92 L583.41 428.22 L584.41 428.52 L585.41 428.80 L586.42 429.06 L587.42 429.30 L588.42 429.52 L589.42 429.72 L590.43 429.90 L591.43 430.08 L592.43 430.24 L593.44 430.39 L594.44 430.54 L595.44 430.68 L596.45 430.81 L597.45 430.93 L598.45 431.05 L599.46 431.17 L600.46 431.28 L601.46 431.38 L602.47 431.47 L603.47 431.56 L604.47 431.63 L605.48 431.70 L606.48 431.75 L607.48 431.81 L608.49 431.86 L609.49 431.91 L610.49 431.95 L611.50 431.98 L612.50 432.00M612.50 432.00 L613.50 432.00 L614.49 432.00 L615.49 432.00 L616.48 432.00 L617.48 432.00 L618.47 432.00 L619.47 432.00 L620.47 432.00 L621.46 432.00 L622.46 431.99 L623.45 431.95 L624.45 431.89 L625.44 431.81 L626.44 431.71 L627.44 431.61 L628.43 431.52 L629.43 431.43 L630.42 431.35 L631.42 431.29 L632.41 431.26 L633.41 431.25 L634.41 431.25 L635.40 431.25 L636.40 431.25 L637.39 431.25 L638.39 431.25 L639.39 431.25 L640.38 431.25 L641.38 431.25 L642.37 431.23 L643.37 431.17 L644.36 431.08 L645.36 430.98 L646.36 430.85 L647.35 430.72 L648.35 430.58 L649.34 430.46 L650.34 430.33 L651.33 430.19 L652.33 430.04 L653.33 429.87 L654.32 429.71 L655.32 429.55 L656.31 429.39 L657.31 429.25 L658.30 429.13 L659.30 429.01 L660.30 428.90 L661.29 428.78 L662.29 428.68 L663.28 428.60 L664.28 428.52 L665.27 428.47 L666.27 428.41 L667.27 428.37 L668.26 428.34 L669.26 428.35 L670.25 428.52 L671.25 428.82 L672.24 429.20 L673.24 429.89 L674.24 430.84 L675.23 431.77 L676.23 432.75 L677.22 433.77 L678.22 434.82 L679.22 435.94 L680.21 437.09 L681.21 438.20 L682.20 439.24 L683.20 440.25 L684.19 441.22 L685.19 442.16 L686.19 443.08 L687.18 443.94 L688.18 444.71 L689.17 445.40 L690.17 446.03 L691.16 446.58 L692.16 447.06 L693.16 447.51 L694.15 447.90 L695.15 448.23 L696.14 448.50 L697.14 448.72 L698.13 448.91 L699.13 449.08 L700.13 449.25 L701.12 449.42 L702.12 449.59 L703.11 449.71 L704.11 449.76 L705.10 449.78 L706.10 449.80 L707.10 449.81 L708.09 449.82 L709.09 449.83 L710.08 449.83"/>
<path d="M561.33 463.00 L562.34 462.85 L563.34 462.70 L564.34 462.56 L565.35 462.41 L566.35 462.28 L567.35 462.15 L568.36 462.02 L569.36 461.91 L570.36 461.80 L571.37 461.70 L572.37 461.60 L573.37 461.51 L574.38 461.42 L575.38 461.34 L576.38 461.25 L577.39 461.17 L578.39 461.10 L579.39 461.02 L580.40 460.95 L581.40 460.88 L582.40 460.82 L583.41 460.75 L584.41 460.69 L585.41 460.64 L586.42 460.59 L587.42 460.54 L588.42 460.50 L589.42 460.45 L590.43 460.41 L591.43 460.37 L592.43 460.33 L593.44 460.28 L594.44 460.24 L595.44 460.21 L596.45 460.17 L597.45 460.14 L598.45 460.11 L599.46 460.08 L600.46 460.05 L601.46 460.03 L602.47 460.02 L603.47 460.01 L604.47 460.00 L605.48 460.00 L606.48 460.00 L607.48 460.00 L608.49 460.00 L609.49 460.00 L610.49 460.00 L611.50 460.00 L612.50 460.00M612.50 460.00 L613.49 460.01 L614.49 460.03 L615.48 460.07 L616.48 460.11 L617.47 460.17 L618.47 460.24 L619.46 460.31 L620.46 460.39 L621.45 460.48 L622.45 460.59 L623.44 460.74 L624.44 460.94 L625.43 461.18 L626.43 461.44 L627.42 461.73 L628.42 462.02 L629.41 462.32 L630.41 462.63 L631.40 462.96 L632.40 463.34 L633.39 463.74 L634.39 464.16 L635.38 464.59 L636.38 465.02 L637.37 465.44 L638.37 465.85 L639.36 466.25 L640.36 466.65 L641.35 467.06 L642.35 467.47 L643.34 467.88 L644.34 468.27 L645.33 468.66 L646.33 469.04 L647.32 469.40 L648.32 469.75 L649.31 470.09 L650.31 470.43 L651.30 470.76 L652.30 471.08 L653.29 471.42 L654.29 471.75 L655.28 472.10 L656.28 472.44 L657.27 472.79 L658.27 473.13 L659.26 473.48 L660.26 473.83 L661.25 474.20 L662.24 474.57 L663.24 474.96 L664.23 475.36 L665.23 475.76 L666.22 476.18 L667.22 476.61 L668.21 477.07 L669.21 477.57 L670.20 478.12 L671.20 478.73 L672.19 479.40 L673.19 480.14 L674.18 480.95 L675.18 481.83 L676.17 482.81 L677.17 483.90 L678.16 485.09 L679.16 486.37 L680.15 487.71 L681.15 489.17 L682.14 490.75 L683.14 492.44 L684.13 494.22 L685.13 496.08 L686.12 498.06 L687.12 500.18 L688.11 502.39 L689.11 504.65 L690.10 506.90 L691.10 509.17 L692.09 511.49 L693.09 513.83 L694.08 516.18 L695.08 518.51 L696.07 520.85 L697.07 523.20 L698.06 525.54 L699.06 527.85 L700.05 530.11 L701.05 532.34 L702.04 534.55 L703.04 536.72 L704.03 538.83 L705.03 540.88 L706.02 542.87 L707.02 544.82 L708.01 546.71 L709.01 548.55 L710.00 550.33"/>
<path d="M561.33 472.50 L562.34 472.67 L563.34 472.84 L564.34 473.01 L565.35 473.18 L566.35 473.35 L567.35 473.51 L568.36 473.67 L569.36 473.82 L570.36 473.97 L571.37 474.12 L572.37 474.27 L573.37 474.42 L574.38 474.57 L575.38 474.72 L576.38 474.87 L577.39 475.02 L578.39 475.17 L579.39 475.32 L580.40 475.46 L581.40 475.59 L582.40 475.73 L583.41 475.85 L584.41 475.97 L585.41 476.07 L586.42 476.17 L587.42 476.26 L588.42 476.34 L589.42 476.41 L590.43 476.47 L591.43 476.54 L592.43 476.59 L593.44 476.65 L594.44 476.70 L595.44 476.75 L596.45 476.79 L597.45 476.84 L598.45 476.88 L599.46 476.93 L600.46 476.97 L601.46 477.01 L602.47 477.05 L603.47 477.10 L604.47 477.14 L605.48 477.19 L606.48 477.24 L607.48 477.28 L608.49 477.33 L609.49 477.37 L610.49 477.41 L611.50 477.46 L612.50 477.50M612.50 477.50 L613.49 477.51 L614.49 477.53 L615.48 477.55 L616.48 477.59 L617.47 477.62 L618.47 477.67 L619.46 477.72 L620.46 477.77 L621.45 477.82 L622.45 477.88 L623.44 477.95 L624.44 478.04 L625.43 478.14 L626.43 478.24 L627.42 478.36 L628.42 478.47 L629.41 478.59 L630.41 478.72 L631.40 478.85 L632.40 478.98 L633.39 479.13 L634.39 479.28 L635.38 479.44 L636.38 479.62 L637.37 479.81 L638.37 480.01 L639.36 480.23 L640.36 480.47 L641.35 480.74 L642.35 481.03 L643.34 481.34 L644.34 481.67 L645.33 482.01 L646.33 482.37 L647.32 482.75 L648.32 483.17 L649.31 483.62 L650.31 484.10 L651.30 484.61 L652.30 485.14 L653.29 485.69 L654.29 486.25 L655.28 486.83 L656.28 487.44 L657.27 488.08 L658.27 488.74 L659.26 489.44 L660.26 490.15 L661.25 490.89 L662.24 491.65 L663.24 492.43 L664.23 493.22 L665.23 494.05 L666.22 494.90 L667.22 495.79 L668.21 496.69 L669.21 497.62 L670.20 498.57 L671.20 499.54 L672.19 500.53 L673.19 501.54 L674.18 502.59 L675.18 503.66 L676.17 504.75 L677.17 505.87 L678.16 507.01 L679.16 508.17 L680.15 509.35 L681.15 510.56 L682.14 511.80 L683.14 513.08 L684.13 514.38 L685.13 515.69 L686.12 517.02 L687.12 518.36 L688.11 519.70 L689.11 521.05 L690.10 522.42 L691.10 523.81 L692.09 525.20 L693.09 526.61 L694.08 528.02 L695.08 529.43 L696.07 530.83 L697.07 532.23 L698.06 533.62 L699.06 535.01 L700.05 536.40 L701.05 537.80 L702.04 539.19 L703.04 540.58 L704.03 541.98 L705.03 543.37 L706.02 544.76 L707.02 546.15 L708.01 547.55 L709.01 548.94 L710.00 550.33"/>
<path d="M561.33 481.33 L562.34 481.33 L563.34 481.33 L564.34 481.33 L565.35 481.33 L566.35 481.33 L567.35 481.33 L568.36 481.33 L569.36 481.33 L570.36 481.33 L571.37 481.33 L572.37 481.33 L573.37 481.31 L574.38 481.27 L575.38 481.21 L576.38 481.14 L577.39 481.07 L578.39 480.98 L579.39 480.88 L580.40 480.78 L581.40 480.68 L582.40 480.57 L583.41 480.46 L584.41 480.36 L585.41 480.26 L586.42 480.16 L587.42 480.07 L588.42 479.99 L589.42 479.92 L590.43 479.84 L591.43 479.76 L592.43 479.67 L593.44 479.59 L594.44 479.51 L595.44 479.42 L596.45 479.34 L597.45 479.27 L598.45 479.19 L599.46 479.12 L600.46 479.05 L601.46 478.99 L602.47 478.94 L603.47 478.89 L604.47 478.85 L605.48 478.82 L606.48 478.79 L607.48 478.76 L608.49 478.73 L609.49 478.71 L610.49 478.69 L611.50 478.68 L612.50 478.67M612.50 478.67 L613.49 478.70 L614.49 478.74 L615.48 478.79 L616.48 478.84 L617.47 478.89 L618.47 478.95 L619.46 479.02 L620.46 479.08 L621.45 479.15 L622.45 479.22 L623.44 479.31 L624.44 479.39 L625.43 479.49 L626.43 479.59 L627.42 479.70 L628.42 479.81 L629.41 479.93 L630.41 480.05 L631.40 480.18 L632.40 480.31 L633.39 480.45 L634.39 480.60 L635.38 480.77 L636.38 480.94 L637.37 481.13 L638.37 481.34 L639.36 481.58 L640.36 481.86 L641.35 482.16 L642.35 482.50 L643.34 482.86 L644.34 483.24 L645.33 483.63 L646.33 484.03 L647.32 484.44 L648.32 484.87 L649.31 485.32 L650.31 485.80 L651.30 486.30 L652.30 486.82 L653.29 487.36 L654.29 487.92 L655.28 488.50 L656.28 489.10 L657.27 489.74 L658.27 490.41 L659.26 491.10 L660.26 491.82 L661.25 492.56 L662.24 493.32 L663.24 494.09 L664.23 494.89 L665.23 495.72 L666.22 496.57 L667.22 497.45 L668.21 498.36 L669.21 499.29 L670.20 500.24 L671.20 501.21 L672.19 502.19 L673.19 503.21 L674.18 504.26 L675.18 505.34 L676.17 506.44 L677.17 507.56 L678.16 508.69 L679.16 509.85 L680.15 511.01 L681.15 512.20 L682.14 513.41 L683.14 514.65 L684.13 515.90 L685.13 517.17 L686.12 518.45 L687.12 519.75 L688.11 521.04 L689.11 522.35 L690.10 523.68 L691.10 525.03 L692.09 526.40 L693.09 527.76 L694.08 529.13 L695.08 530.50 L696.07 531.86 L697.07 533.21 L698.06 534.55 L699.06 535.89 L700.05 537.23 L701.05 538.57 L702.04 539.90 L703.04 541.23 L704.03 542.55 L705.03 543.87 L706.02 545.17 L707.02 546.47 L708.01 547.77 L709.01 549.05 L710.00 550.33"/>
</g>
<line x1="561.5" y1="550.45" x2="710" y2="550.45" stroke="#0000ff" stroke-width="1.3" stroke-dasharray="1.3 1.45"/>
<g clip-path="url(#c3)" fill="none" stroke-linejoin="round">
<path d="M726.00 157.00 L726.00 180.33 L726.67 181.17 L727.17 188.67 L726.83 197.00 L726.00 199.92 L726.00 240.00 L727.00 330.00 L727.62 355.00 L728.88 361.25 L729.50 365.00 L728.25 370.00 L727.62 375.00 L728.88 380.00 L730.12 383.75 L730.75 386.25 L729.50 388.75 L728.88 391.25 L727.62 397.50 L727.62 410.00 L728.25 415.00 L729.50 418.75 L728.25 422.50 L730.75 426.25 L733.88 429.38 L735.12 431.00 L730.75 432.50 L728.25 435.00 L727.62 441.25 L727.62 458.50 L730.75 459.75 L747.00 460.62 L765.75 461.25 L774.50 461.62 L769.50 463.12 L764.50 465.00 L759.50 466.88 L753.88 468.38 L763.25 469.38 L772.00 470.62 L768.25 472.50 L765.12 474.38 L765.75 476.25 L769.50 477.50 L784.50 478.12 L809.50 479.12 L828.25 479.75 L840.75 480.38 L822.00 481.00 L797.00 481.50 L778.25 481.88 L765.75 482.50 L757.00 483.50 L749.50 485.00 L743.25 487.25 L738.25 490.00 L734.50 493.75 L732.00 498.12 L730.12 503.75 L728.88 508.75 L728.00 515.00 L727.00 525.00 L726.00 540.00 L726.00 551.00" stroke="#1f77b4" stroke-width="2.3"/>
<path d="M726.00 157.00 L726.00 178.50 L818.50 179.08 L818.50 179.75 L796.00 181.00 L792.67 182.42 L777.67 182.83 L762.67 184.92 L781.00 186.33 L797.67 187.83 L807.67 189.08 L822.67 190.75 L851.67 192.42 L831.00 193.00 L797.00 193.83 L770.33 195.33 L805.33 196.17 L851.67 196.83 L817.83 197.83 L851.67 198.83 L847.00 199.92 L726.00 200.42 L726.25 225.00 L727.00 237.50 L728.25 240.00 L730.12 242.50 L729.50 245.00 L733.25 248.12 L739.50 250.62 L743.25 251.62 L738.25 253.12 L732.00 254.38 L734.50 256.25 L739.50 257.75 L740.75 258.75 L737.00 260.62 L732.00 262.50 L728.88 264.38 L730.12 267.50 L732.00 270.00 L734.50 271.88 L735.75 273.12 L733.88 275.00 L735.12 276.88 L733.25 279.38 L729.50 281.88 L728.25 284.38 L728.25 292.50 L729.50 296.25 L732.00 300.00 L732.62 303.75 L732.62 305.00 L732.62 308.75 L734.50 312.50 L738.25 315.62 L744.50 317.25 L750.12 317.88 L740.75 319.00 L732.00 320.62 L729.50 323.75 L730.12 328.75 L729.50 333.75 L728.88 337.50 L730.75 341.25 L731.38 346.25 L732.62 349.38 L734.50 351.88 L738.25 352.88 L733.25 354.38 L732.00 355.62 L737.00 358.75 L734.50 361.25 L738.25 365.00 L742.00 368.75 L740.75 372.50 L735.75 375.00 L733.88 377.50 L734.50 380.00 L738.25 383.75 L744.50 386.25 L750.75 387.50 L747.00 389.00 L738.25 390.62 L732.00 391.88 L731.38 393.75 L730.12 397.50 L730.75 403.75 L731.38 410.00 L732.00 416.25 L732.62 420.00 L730.75 422.50 L730.12 426.25 L730.75 430.00 L728.88 433.75 L728.25 437.50 L727.62 447.50 L728.25 473.75 L729.50 478.12 L734.50 479.38 L739.50 481.00 L734.50 482.75 L729.50 483.50 L727.62 486.25 L726.00 500.00 L726.00 551.00" stroke="#ff7f0e" stroke-width="2.3"/>
<path d="M726.00 178.50 L818.50 179.08 L818.50 179.75 L796.00 181.00 L792.67 182.42 L777.67 182.83 L762.67 184.92 L781.00 186.33 L797.67 187.83 L807.67 189.08 L822.67 190.75 L851.67 192.42 L831.00 193.00 L797.00 193.83 L770.33 195.33 L805.33 196.17 L851.67 196.83 L817.83 197.83 L851.67 198.83 L847.00 199.92 L726.00 200.42" stroke="#ff7f0e" stroke-width="2.6"/>
<path d="M726.00 157.00 L726.00 178.67 L778.67 179.25 L748.67 180.75 L744.50 182.42 L737.00 184.92 L742.83 186.58 L741.17 188.67 L745.33 189.92 L742.00 191.17 L754.50 192.42 L736.17 194.50 L746.17 196.17 L742.83 197.83 L737.83 199.50 L726.00 200.33 L726.25 225.00 L728.88 232.50 L730.12 237.50 L733.25 240.25 L740.75 241.25 L743.25 243.12 L747.00 245.00 L754.50 246.88 L765.75 248.12 L778.25 249.12 L790.75 250.00 L799.50 250.88 L805.75 251.62 L797.00 252.50 L784.50 253.12 L772.00 253.50 L759.50 253.75 L747.00 254.38 L742.62 255.00 L744.50 256.25 L753.25 257.25 L762.00 258.12 L757.00 259.38 L747.00 261.25 L739.50 263.12 L735.12 265.00 L738.25 266.25 L744.50 268.12 L747.00 269.38 L744.50 270.62 L749.50 271.50 L760.75 272.50 L758.88 274.38 L758.25 276.25 L753.25 277.50 L744.50 279.38 L737.00 281.25 L730.75 282.75 L728.25 284.38 L727.62 287.50 L728.25 290.00 L732.00 291.88 L737.00 294.38 L743.25 296.88 L749.50 298.75 L752.00 300.00 L747.00 301.88 L743.88 304.38 L746.38 305.00 L743.88 307.50 L742.62 310.62 L744.50 313.75 L749.50 315.62 L759.50 316.88 L773.25 317.88 L759.50 318.75 L747.00 319.75 L738.25 321.25 L733.88 323.75 L732.00 326.88 L732.62 330.00 L734.50 331.88 L738.25 333.12 L737.62 335.00 L740.12 337.50 L747.00 339.38 L748.88 340.38 L742.00 341.50 L739.50 343.12 L740.12 346.25 L739.50 349.38 L740.75 351.25 L738.25 355.00 L734.50 357.50 L732.62 360.00 L738.25 361.88 L747.00 363.75 L753.25 365.00 L747.00 366.25 L740.75 368.12 L734.50 370.62 L730.75 373.12 L728.88 376.25 L729.50 380.00 L733.25 383.75 L736.38 386.25 L733.25 388.75 L729.50 391.25 L730.12 391.88 L728.88 395.00 L730.12 403.75 L730.75 410.00 L731.38 414.38 L734.50 416.25 L732.00 418.12 L730.12 421.25 L731.38 425.00 L732.62 428.75 L733.88 430.62 L730.75 433.12 L728.88 436.25 L728.25 441.25 L727.25 447.50 L726.00 480.00 L726.00 551.00" stroke="#2ca02c" stroke-width="2.3"/>
<path d="M726.00 157.00 L726.00 178.67 L732.00 182.83 L728.67 185.33 L730.33 188.67 L735.33 192.42 L729.50 194.92 L737.42 196.58 L733.67 198.67 L726.00 200.08 L726.25 225.00 L727.00 243.75 L727.62 247.50 L729.50 250.00 L730.75 251.88 L728.88 253.75 L728.25 257.50 L728.88 262.50 L729.50 268.75 L730.75 273.75 L731.38 276.25 L729.50 278.75 L728.25 282.50 L728.25 292.50 L728.88 297.50 L730.12 302.50 L730.12 305.00 L730.12 311.25 L729.50 317.50 L728.25 321.25 L729.50 325.00 L730.12 330.00 L731.38 335.00 L733.25 338.75 L735.75 340.38 L732.00 342.50 L732.62 346.25 L735.75 348.75 L747.00 350.62 L759.50 351.88 L771.38 352.75 L753.25 353.75 L734.50 355.00 L733.88 355.62 L753.25 356.25 L772.00 356.88 L783.25 357.25 L765.75 358.12 L753.25 359.00 L747.00 360.00 L750.75 361.25 L759.50 362.50 L768.25 363.75 L754.50 364.75 L765.75 366.00 L776.38 367.12 L759.50 368.12 L749.50 369.38 L740.75 371.88 L737.00 375.00 L736.38 378.75 L738.25 381.25 L743.25 383.75 L750.75 385.62 L755.75 386.88 L754.50 388.12 L760.75 389.38 L766.38 390.62 L753.25 391.50 L738.25 392.50 L737.62 393.50 L740.75 395.62 L747.00 398.75 L753.25 401.25 L757.00 404.38 L758.25 407.50 L758.25 411.25 L759.50 414.38 L772.00 415.62 L790.12 416.50 L778.25 417.25 L765.75 418.12 L769.50 419.00 L768.25 420.62 L763.25 421.62 L769.50 423.75 L775.75 426.88 L782.00 429.38 L783.25 430.62 L772.00 431.50 L759.50 432.50 L750.75 434.38 L743.25 436.88 L737.00 439.38 L733.25 442.50 L731.38 446.25 L730.50 451.25 L730.12 456.25 L728.88 460.00 L729.50 463.75 L731.38 466.88 L730.12 470.00 L729.50 473.75 L730.75 480.00 L728.88 483.75 L727.62 492.50 L727.00 505.00 L726.00 520.00 L726.00 551.00" stroke="#d62728" stroke-width="2.3"/>
<path d="M726.00 157.00 L726.00 178.50 L880.33 179.17 L880.33 179.75 L822.67 180.33 L820.83 182.83 L797.67 184.33 L777.00 184.92 L809.33 187.42 L831.67 188.83 L829.33 189.33 L810.83 189.92 L880.33 192.42 L790.00 194.92 L880.33 196.33 L813.67 197.83 L880.33 199.17 L726.00 200.42 L726.25 225.00 L728.88 232.50 L730.12 237.50 L733.25 240.25 L747.00 241.25 L750.75 241.88 L747.00 243.75 L754.50 246.25 L772.00 248.12 L797.00 250.00 L815.75 251.25 L825.75 251.88 L809.50 252.25 L772.00 253.50 L749.50 255.00 L759.50 256.25 L772.00 257.25 L777.00 258.50 L765.75 260.00 L753.25 261.88 L740.75 264.38 L738.25 265.62 L747.00 267.50 L753.25 268.75 L750.75 270.00 L759.50 271.88 L772.00 272.50 L772.00 275.00 L770.75 276.50 L759.50 278.12 L747.00 280.62 L734.50 282.75 L728.25 284.38 L728.25 290.00 L734.50 292.50 L747.00 296.25 L759.50 299.38 L760.12 300.62 L753.25 303.12 L753.25 305.00 L752.00 310.00 L757.00 313.75 L772.00 316.25 L790.75 317.50 L800.75 318.12 L778.25 318.75 L759.50 320.00 L742.00 322.50 L737.62 326.25 L738.25 330.00 L744.50 331.88 L747.00 335.00 L749.50 338.12 L763.25 340.00 L752.00 341.88 L751.38 345.00 L754.50 348.12 L772.00 350.62 L797.00 352.25 L814.50 352.88 L784.50 354.00 L759.50 355.00 L747.00 355.62 L772.00 356.25 L797.00 356.88 L810.12 357.12 L784.50 358.50 L769.50 360.62 L784.50 361.88 L809.50 363.12 L828.25 364.38 L835.75 365.00 L815.75 366.25 L784.50 368.75 L765.75 371.25 L753.25 374.38 L747.62 377.50 L753.25 380.62 L765.75 383.12 L782.00 385.62 L793.88 386.88 L787.00 387.50 L780.75 390.00 L789.50 390.62 L772.00 391.50 L753.25 392.50 L749.50 392.75 L748.88 395.62 L754.50 398.75 L762.00 401.25 L765.75 404.38 L767.62 408.75 L769.50 412.50 L772.00 414.75 L790.75 416.00 L807.00 416.62 L790.75 417.25 L778.25 418.12 L780.75 420.00 L773.88 421.88 L782.00 423.75 L790.75 426.88 L799.50 429.38 L803.88 430.62 L790.75 431.50 L772.00 433.12 L759.50 435.00 L747.00 437.50 L738.25 440.62 L734.50 443.75 L733.88 447.50 L733.88 452.50 L733.25 457.50 L733.25 458.75 L753.25 460.25 L779.50 461.88 L772.00 465.62 L770.75 467.50 L778.25 470.62 L772.00 474.38 L772.00 477.25 L797.00 478.12 L834.50 479.25 L857.50 480.25 L834.50 480.88 L809.50 481.38 L778.25 482.12 L759.50 483.12 L750.75 485.62 L744.50 488.12 L739.50 491.25 L735.75 495.00 L733.25 498.75 L731.38 503.75 L729.50 510.00 L728.25 517.50 L727.00 530.00 L726.00 540.00 L726.00 551.00" stroke="#000" stroke-width="1.3" stroke-dasharray="1.3 1.5"/>
</g>
<g stroke="#000" stroke-width="1.8" fill="none">
<rect x="120" y="157" width="146" height="413"/>
<rect x="282" y="157" width="263" height="413"/>
<rect x="561.5" y="157" width="148.5" height="413"/>
<rect x="726" y="157" width="138" height="413"/>
</g>
<g font-size="20.83" text-anchor="end">
<text x="112.30" y="558.10">0</text>
<text x="113.10" y="506.36">2</text>
<text x="112.30" y="454.62">4</text>
<text x="112.40" y="402.88">6</text>
<text x="112.50" y="351.14">8</text>
<text x="112.30" y="299.40">10</text>
<text x="113.10" y="247.66">12</text>
<text x="112.30" y="195.92">14</text>
</g>
<text font-size="20.83" text-anchor="middle" transform="translate(74.3 363.5) rotate(-90)">Frequency (THz)</text>
<text font-size="20.83" transform="translate(114.10 592.20) scale(1 0.935)">Γ</text>
<text font-size="20.83" transform="translate(429.20 592.20) scale(1 0.935)">Γ</text>
<text font-size="20.83" transform="translate(704.20 592.20) scale(1 0.935)">Γ</text>
<text x="156.75" y="592.20" font-size="20.83" text-anchor="start">T</text>
<text x="335.40" y="592.20" font-size="20.83" text-anchor="start">L</text>
<text x="606.10" y="592.20" font-size="20.83" text-anchor="start">F</text>
<text x="719.40" y="592.70" font-size="20.83" text-anchor="start">0</text>
<text x="823.90" y="592.70" font-size="20.83" text-anchor="start">5</text>
<text x="252.20" y="592.20" font-size="20.83" text-anchor="start">H</text>
<text x="268.25" y="596.00" font-size="14.58" text-anchor="start">2</text>
<text x="269.20" y="592.20" font-size="20.83" text-anchor="start">H</text>
<text x="284.80" y="596.00" font-size="14.58" text-anchor="start">0</text>
<text x="532.50" y="593.10" font-size="20.83" text-anchor="start">S</text>
<text x="545.70" y="596.00" font-size="14.58" text-anchor="start">0</text>
<text x="548.50" y="593.10" font-size="20.83" text-anchor="start">S</text>
<text x="563.00" y="596.00" font-size="14.58" text-anchor="start">2</text>
</svg></body></html>
